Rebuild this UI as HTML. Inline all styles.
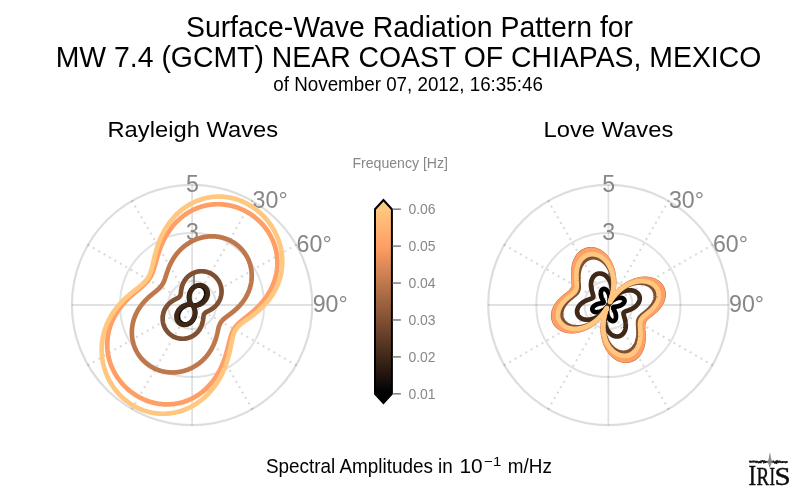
<!DOCTYPE html>
<html lang="en">
<head>
<meta charset="utf-8">
<title>Surface-Wave Radiation Pattern</title>
<style>
html,body{margin:0;padding:0;background:#fff;}
body{width:800px;height:496px;overflow:hidden;font-family:"Liberation Sans",sans-serif;}
svg{display:block;will-change:transform;}
</style>
</head>
<body>
<svg width="800" height="496" viewBox="0 0 800 496" font-family="'Liberation Sans', sans-serif">
<rect width="800" height="496" fill="#fff"/>
<g fill="#000" text-anchor="middle">
<text transform="translate(409.5,36.6) scale(1,1.065)" font-size="28.4">Surface-Wave Radiation Pattern for</text>
<text transform="translate(408.5,66.8) scale(1,1.065)" font-size="28.4">MW 7.4 (GCMT) NEAR COAST OF CHIAPAS, MEXICO</text>
<text transform="translate(408.1,91.1) scale(1,1.06)" font-size="18.8">of November 07, 2012, 16:35:46</text>
<text transform="translate(192.79999999999998,137.2) scale(1,0.965)" font-size="23.75">Rayleigh Waves</text>
<text transform="translate(608.4,137.2) scale(1,0.965)" font-size="23.75">Love Waves</text>
</g>
<g id="gridR">
<circle cx="192.1" cy="305.0" r="24.04" fill="none" stroke="#000" stroke-opacity="0.118" stroke-width="2"/>
<circle cx="192.1" cy="305.0" r="72.12" fill="none" stroke="#000" stroke-opacity="0.118" stroke-width="2"/>
<circle cx="192.1" cy="305.0" r="120.20" fill="none" stroke="#000" stroke-opacity="0.135" stroke-width="2.2"/>
<line x1="192.1" y1="305.0" x2="192.10" y2="184.80" stroke="#000" stroke-opacity="0.118" stroke-width="1.8"/>
<line x1="192.1" y1="305.0" x2="252.70" y2="200.04" stroke="#000" stroke-opacity="0.15" stroke-width="2.1" stroke-dasharray="2 4.23" stroke-dashoffset="-0.45"/>
<line x1="192.1" y1="305.0" x2="297.06" y2="244.40" stroke="#000" stroke-opacity="0.15" stroke-width="2.1" stroke-dasharray="2 4.23" stroke-dashoffset="-0.45"/>
<line x1="192.1" y1="305.0" x2="312.30" y2="305.00" stroke="#000" stroke-opacity="0.118" stroke-width="1.8"/>
<line x1="192.1" y1="305.0" x2="297.06" y2="365.60" stroke="#000" stroke-opacity="0.15" stroke-width="2.1" stroke-dasharray="2 4.23" stroke-dashoffset="-0.45"/>
<line x1="192.1" y1="305.0" x2="252.70" y2="409.96" stroke="#000" stroke-opacity="0.15" stroke-width="2.1" stroke-dasharray="2 4.23" stroke-dashoffset="-0.45"/>
<line x1="192.1" y1="305.0" x2="192.10" y2="425.20" stroke="#000" stroke-opacity="0.118" stroke-width="1.8"/>
<line x1="192.1" y1="305.0" x2="131.50" y2="409.96" stroke="#000" stroke-opacity="0.15" stroke-width="2.1" stroke-dasharray="2 4.23" stroke-dashoffset="-0.45"/>
<line x1="192.1" y1="305.0" x2="87.14" y2="365.60" stroke="#000" stroke-opacity="0.15" stroke-width="2.1" stroke-dasharray="2 4.23" stroke-dashoffset="-0.45"/>
<line x1="192.1" y1="305.0" x2="71.90" y2="305.00" stroke="#000" stroke-opacity="0.118" stroke-width="1.8"/>
<line x1="192.1" y1="305.0" x2="87.14" y2="244.40" stroke="#000" stroke-opacity="0.15" stroke-width="2.1" stroke-dasharray="2 4.23" stroke-dashoffset="-0.45"/>
<line x1="192.1" y1="305.0" x2="131.50" y2="200.04" stroke="#000" stroke-opacity="0.15" stroke-width="2.1" stroke-dasharray="2 4.23" stroke-dashoffset="-0.45"/>
</g>
<g id="gridL">
<circle cx="608.4" cy="305.0" r="24.04" fill="none" stroke="#000" stroke-opacity="0.118" stroke-width="2"/>
<circle cx="608.4" cy="305.0" r="72.12" fill="none" stroke="#000" stroke-opacity="0.118" stroke-width="2"/>
<circle cx="608.4" cy="305.0" r="120.20" fill="none" stroke="#000" stroke-opacity="0.135" stroke-width="2.2"/>
<line x1="608.4" y1="305.0" x2="608.40" y2="184.80" stroke="#000" stroke-opacity="0.118" stroke-width="1.8"/>
<line x1="608.4" y1="305.0" x2="669.00" y2="200.04" stroke="#000" stroke-opacity="0.15" stroke-width="2.1" stroke-dasharray="2 4.23" stroke-dashoffset="-0.45"/>
<line x1="608.4" y1="305.0" x2="713.36" y2="244.40" stroke="#000" stroke-opacity="0.15" stroke-width="2.1" stroke-dasharray="2 4.23" stroke-dashoffset="-0.45"/>
<line x1="608.4" y1="305.0" x2="728.60" y2="305.00" stroke="#000" stroke-opacity="0.118" stroke-width="1.8"/>
<line x1="608.4" y1="305.0" x2="713.36" y2="365.60" stroke="#000" stroke-opacity="0.15" stroke-width="2.1" stroke-dasharray="2 4.23" stroke-dashoffset="-0.45"/>
<line x1="608.4" y1="305.0" x2="669.00" y2="409.96" stroke="#000" stroke-opacity="0.15" stroke-width="2.1" stroke-dasharray="2 4.23" stroke-dashoffset="-0.45"/>
<line x1="608.4" y1="305.0" x2="608.40" y2="425.20" stroke="#000" stroke-opacity="0.118" stroke-width="1.8"/>
<line x1="608.4" y1="305.0" x2="547.80" y2="409.96" stroke="#000" stroke-opacity="0.15" stroke-width="2.1" stroke-dasharray="2 4.23" stroke-dashoffset="-0.45"/>
<line x1="608.4" y1="305.0" x2="503.44" y2="365.60" stroke="#000" stroke-opacity="0.15" stroke-width="2.1" stroke-dasharray="2 4.23" stroke-dashoffset="-0.45"/>
<line x1="608.4" y1="305.0" x2="488.20" y2="305.00" stroke="#000" stroke-opacity="0.118" stroke-width="1.8"/>
<line x1="608.4" y1="305.0" x2="503.44" y2="244.40" stroke="#000" stroke-opacity="0.15" stroke-width="2.1" stroke-dasharray="2 4.23" stroke-dashoffset="-0.45"/>
<line x1="608.4" y1="305.0" x2="547.80" y2="200.04" stroke="#000" stroke-opacity="0.15" stroke-width="2.1" stroke-dasharray="2 4.23" stroke-dashoffset="-0.45"/>
</g>
<g id="labR">
<text transform="translate(192.50,239.78) scale(1,1.06)" font-size="23.2" fill="#878787" text-anchor="middle">3</text>
<text transform="translate(192.50,191.70) scale(1,1.06)" font-size="23.2" fill="#878787" text-anchor="middle">5</text>
<path d="M193.05 270.96h1.9v16.9h-1.9v-12.6q-1.6 1.7-4 2.6v-2q2.9-1.4 4.4-4.9z" fill="#878787"/>
<text transform="translate(252.60,207.80) scale(1,1.06)" font-size="23.2" fill="#878787">30°</text>
<text transform="translate(296.60,251.80) scale(1,1.06)" font-size="23.2" fill="#878787">60°</text>
<text transform="translate(312.70,311.90) scale(1,1.06)" font-size="23.2" fill="#878787">90°</text>
</g>
<g id="labL">
<text transform="translate(608.80,239.78) scale(1,1.06)" font-size="23.2" fill="#878787" text-anchor="middle">3</text>
<text transform="translate(608.80,191.70) scale(1,1.06)" font-size="23.2" fill="#878787" text-anchor="middle">5</text>
<path d="M609.35 270.96h1.9v16.9h-1.9v-12.6q-1.6 1.7-4 2.6v-2q2.9-1.4 4.4-4.9z" fill="#878787"/>
<text transform="translate(668.90,207.80) scale(1,1.06)" font-size="23.2" fill="#878787">30°</text>
<text transform="translate(712.90,251.80) scale(1,1.06)" font-size="23.2" fill="#878787">60°</text>
<text transform="translate(729.00,311.90) scale(1,1.06)" font-size="23.2" fill="#878787">90°</text>
</g>
<g id="curvesR">
<path d="M192.10 288.78L192.21 288.66L192.33 288.54L192.45 288.41L192.57 288.30L192.69 288.18L192.81 288.07L192.93 287.95L193.06 287.84L193.19 287.73L193.31 287.63L193.44 287.53L193.58 287.42L193.71 287.33L193.84 287.23L193.98 287.14L194.11 287.04L194.25 286.95L194.39 286.87L194.53 286.78L194.67 286.70L194.81 286.62L194.96 286.55L195.10 286.47L195.25 286.40L195.39 286.34L195.54 286.27L195.68 286.21L195.83 286.15L195.98 286.09L196.13 286.04L196.28 285.98L196.43 285.94L196.58 285.89L196.73 285.85L196.89 285.81L197.04 285.77L197.19 285.74L197.34 285.71L197.49 285.68L197.65 285.65L197.80 285.63L197.95 285.61L198.11 285.60L198.26 285.58L198.41 285.57L198.57 285.56L198.72 285.56L198.87 285.56L199.02 285.56L199.17 285.57L199.32 285.57L199.48 285.58L199.63 285.60L199.77 285.62L199.92 285.64L200.07 285.66L200.22 285.68L200.37 285.71L200.51 285.75L200.66 285.78L200.80 285.82L200.94 285.86L201.09 285.90L201.23 285.95L201.37 286.00L201.51 286.05L201.64 286.11L201.78 286.16L201.92 286.22L202.05 286.29L202.18 286.35L202.31 286.42L202.44 286.49L202.57 286.57L202.70 286.65L202.82 286.73L202.94 286.81L203.07 286.89L203.19 286.98L203.30 287.07L203.42 287.16L203.53 287.26L203.65 287.36L203.76 287.46L203.86 287.56L203.97 287.66L204.08 287.77L204.18 287.88L204.28 287.99L204.38 288.10L204.47 288.22L204.57 288.34L204.66 288.46L204.75 288.58L204.83 288.70L204.92 288.83L205.00 288.96L205.08 289.09L205.16 289.22L205.23 289.35L205.30 289.49L205.37 289.62L205.44 289.76L205.51 289.90L205.57 290.04L205.63 290.19L205.68 290.33L205.74 290.48L205.79 290.62L205.84 290.77L205.89 290.92L205.93 291.07L205.97 291.22L206.01 291.38L206.05 291.53L206.08 291.69L206.11 291.84L206.14 292.00L206.16 292.16L206.18 292.32L206.20 292.48L206.22 292.64L206.23 292.80L206.25 292.96L206.25 293.12L206.26 293.29L206.26 293.45L206.26 293.61L206.26 293.78L206.26 293.94L206.25 294.11L206.24 294.27L206.22 294.43L206.21 294.60L206.19 294.76L206.17 294.93L206.14 295.09L206.11 295.26L206.09 295.42L206.05 295.59L206.02 295.75L205.98 295.92L205.94 296.08L205.90 296.24L205.85 296.41L205.81 296.57L205.75 296.73L205.70 296.89L205.65 297.05L205.59 297.21L205.53 297.37L205.47 297.53L205.40 297.69L205.34 297.84L205.27 298.00L205.19 298.15L205.12 298.31L205.04 298.46L204.97 298.61L204.89 298.76L204.80 298.91L204.72 299.06L204.63 299.21L204.54 299.36L204.45 299.50L204.36 299.64L204.27 299.79L204.17 299.93L204.07 300.07L203.97 300.20L203.87 300.34L203.77 300.47L203.66 300.61L203.56 300.74L203.45 300.87L203.34 301.00L203.23 301.13L203.11 301.25L203.00 301.37L202.88 301.50L202.77 301.62L202.65 301.73L202.53 301.85L202.41 301.97L202.29 302.08L202.17 302.19L202.04 302.30L201.92 302.41L201.79 302.51L201.67 302.61L201.54 302.72L201.41 302.82L201.28 302.91L201.16 303.01L201.03 303.10L200.89 303.19L200.76 303.28L200.63 303.37L200.50 303.46L200.37 303.54L200.24 303.62L200.10 303.70L199.97 303.78L199.84 303.86L199.70 303.93L199.57 304.00L199.44 304.07L199.30 304.14L199.17 304.21L199.04 304.27L198.90 304.33L198.77 304.39L198.64 304.45L198.51 304.51L198.37 304.56L198.24 304.61L198.11 304.66L197.98 304.71L197.85 304.76L197.72 304.80L197.59 304.85L197.46 304.89L197.34 304.93L197.21 304.96L197.08 305.00L196.96 305.03L196.83 305.07L196.71 305.10L196.59 305.13L196.47 305.15L196.35 305.18L196.23 305.20L196.11 305.22L195.99 305.24L195.88 305.26L195.76 305.28L195.65 305.30L195.54 305.31L195.43 305.33L195.32 305.34L195.21 305.35L195.11 305.36L195.00 305.37L194.90 305.37L194.80 305.38L194.70 305.38L194.60 305.39L194.50 305.39L194.41 305.39L194.31 305.39L194.22 305.39L194.13 305.39L194.04 305.38L193.96 305.38L193.87 305.38L193.79 305.37L193.71 305.37L193.63 305.36L193.55 305.35L193.48 305.34L193.40 305.33L193.33 305.33L193.26 305.32L193.20 305.31L193.13 305.30L193.07 305.28L193.01 305.27L192.95 305.26L192.89 305.25L192.83 305.24L192.78 305.23L192.73 305.21L192.68 305.20L192.63 305.19L192.59 305.18L192.54 305.17L192.50 305.15L192.46 305.14L192.43 305.13L192.39 305.12L192.36 305.11L192.33 305.10L192.30 305.09L192.27 305.08L192.25 305.07L192.22 305.06L192.20 305.05L192.18 305.04L192.17 305.03L192.15 305.03L192.14 305.02L192.13 305.01L192.12 305.01L192.11 305.01L192.11 305.00L192.10 305.00L192.10 305.00L192.10 305.00L192.10 305.00L192.11 305.00L192.11 305.01L192.12 305.01L192.13 305.02L192.14 305.02L192.15 305.03L192.16 305.04L192.18 305.05L192.20 305.06L192.21 305.08L192.23 305.09L192.25 305.11L192.28 305.12L192.30 305.14L192.33 305.16L192.35 305.19L192.38 305.21L192.41 305.23L192.44 305.26L192.48 305.29L192.51 305.32L192.54 305.35L192.58 305.38L192.62 305.42L192.65 305.46L192.69 305.50L192.73 305.54L192.77 305.58L192.81 305.62L192.85 305.67L192.90 305.72L192.94 305.77L192.99 305.82L193.03 305.87L193.08 305.93L193.12 305.99L193.17 306.05L193.22 306.11L193.26 306.17L193.31 306.24L193.36 306.30L193.41 306.37L193.46 306.44L193.51 306.52L193.55 306.59L193.60 306.67L193.65 306.75L193.70 306.83L193.75 306.91L193.80 307.00L193.85 307.09L193.90 307.17L193.95 307.27L194.00 307.36L194.04 307.45L194.09 307.55L194.14 307.65L194.19 307.75L194.23 307.85L194.28 307.96L194.33 308.06L194.37 308.17L194.41 308.28L194.46 308.39L194.50 308.51L194.54 308.62L194.58 308.74L194.63 308.86L194.66 308.98L194.70 309.10L194.74 309.23L194.78 309.35L194.81 309.48L194.85 309.61L194.88 309.74L194.91 309.87L194.94 310.00L194.97 310.14L195.00 310.28L195.03 310.41L195.05 310.55L195.08 310.69L195.10 310.84L195.12 310.98L195.14 311.12L195.16 311.27L195.17 311.42L195.19 311.56L195.20 311.71L195.21 311.86L195.22 312.01L195.23 312.17L195.24 312.32L195.24 312.47L195.24 312.63L195.25 312.78L195.24 312.94L195.24 313.10L195.24 313.26L195.23 313.42L195.22 313.57L195.21 313.73L195.20 313.89L195.18 314.06L195.17 314.22L195.15 314.38L195.13 314.54L195.10 314.70L195.08 314.86L195.05 315.03L195.02 315.19L194.99 315.35L194.96 315.51L194.92 315.68L194.88 315.84L194.84 316.00L194.80 316.16L194.76 316.33L194.71 316.49L194.66 316.65L194.61 316.81L194.56 316.97L194.50 317.13L194.44 317.29L194.39 317.45L194.32 317.61L194.26 317.77L194.19 317.92L194.12 318.08L194.05 318.24L193.98 318.39L193.91 318.54L193.83 318.70L193.75 318.85L193.67 319.00L193.59 319.15L193.50 319.30L193.41 319.44L193.32 319.59L193.23 319.73L193.14 319.88L193.04 320.02L192.95 320.16L192.85 320.29L192.75 320.43L192.64 320.57L192.54 320.70L192.43 320.83L192.32 320.96L192.21 321.09L192.10 321.22L191.99 321.34L191.87 321.46L191.75 321.59L191.63 321.70L191.51 321.82L191.39 321.93L191.27 322.05L191.14 322.16L191.01 322.27L190.89 322.37L190.76 322.47L190.62 322.58L190.49 322.67L190.36 322.77L190.22 322.86L190.09 322.96L189.95 323.05L189.81 323.13L189.67 323.22L189.53 323.30L189.39 323.38L189.24 323.45L189.10 323.53L188.95 323.60L188.81 323.66L188.66 323.73L188.52 323.79L188.37 323.85L188.22 323.91L188.07 323.96L187.92 324.02L187.77 324.06L187.62 324.11L187.47 324.15L187.31 324.19L187.16 324.23L187.01 324.26L186.86 324.29L186.71 324.32L186.55 324.35L186.40 324.37L186.25 324.39L186.09 324.40L185.94 324.42L185.79 324.43L185.63 324.44L185.48 324.44L185.33 324.44L185.18 324.44L185.03 324.43L184.88 324.43L184.72 324.42L184.57 324.40L184.43 324.38L184.28 324.36L184.13 324.34L183.98 324.32L183.83 324.29L183.69 324.25L183.54 324.22L183.40 324.18L183.26 324.14L183.11 324.10L182.97 324.05L182.83 324.00L182.69 323.95L182.56 323.89L182.42 323.84L182.28 323.78L182.15 323.71L182.02 323.65L181.89 323.58L181.76 323.51L181.63 323.43L181.50 323.35L181.38 323.27L181.26 323.19L181.13 323.11L181.01 323.02L180.90 322.93L180.78 322.84L180.67 322.74L180.55 322.64L180.44 322.54L180.34 322.44L180.23 322.34L180.12 322.23L180.02 322.12L179.92 322.01L179.82 321.90L179.73 321.78L179.63 321.66L179.54 321.54L179.45 321.42L179.37 321.30L179.28 321.17L179.20 321.04L179.12 320.91L179.04 320.78L178.97 320.65L178.90 320.51L178.83 320.38L178.76 320.24L178.69 320.10L178.63 319.96L178.57 319.81L178.52 319.67L178.46 319.52L178.41 319.38L178.36 319.23L178.31 319.08L178.27 318.93L178.23 318.78L178.19 318.62L178.15 318.47L178.12 318.31L178.09 318.16L178.06 318.00L178.04 317.84L178.02 317.68L178.00 317.52L177.98 317.36L177.97 317.20L177.95 317.04L177.95 316.88L177.94 316.71L177.94 316.55L177.94 316.39L177.94 316.22L177.94 316.06L177.95 315.89L177.96 315.73L177.98 315.57L177.99 315.40L178.01 315.24L178.03 315.07L178.06 314.91L178.09 314.74L178.11 314.58L178.15 314.41L178.18 314.25L178.22 314.08L178.26 313.92L178.30 313.76L178.35 313.59L178.39 313.43L178.45 313.27L178.50 313.11L178.55 312.95L178.61 312.79L178.67 312.63L178.73 312.47L178.80 312.31L178.86 312.16L178.93 312.00L179.01 311.85L179.08 311.69L179.16 311.54L179.23 311.39L179.31 311.24L179.40 311.09L179.48 310.94L179.57 310.79L179.66 310.64L179.75 310.50L179.84 310.36L179.93 310.21L180.03 310.07L180.13 309.93L180.23 309.80L180.33 309.66L180.43 309.53L180.54 309.39L180.64 309.26L180.75 309.13L180.86 309.00L180.97 308.87L181.09 308.75L181.20 308.63L181.32 308.50L181.43 308.38L181.55 308.27L181.67 308.15L181.79 308.03L181.91 307.92L182.03 307.81L182.16 307.70L182.28 307.59L182.41 307.49L182.53 307.39L182.66 307.28L182.79 307.18L182.92 307.09L183.04 306.99L183.17 306.90L183.31 306.81L183.44 306.72L183.57 306.63L183.70 306.54L183.83 306.46L183.96 306.38L184.10 306.30L184.23 306.22L184.36 306.14L184.50 306.07L184.63 306.00L184.76 305.93L184.90 305.86L185.03 305.79L185.16 305.73L185.30 305.67L185.43 305.61L185.56 305.55L185.69 305.49L185.83 305.44L185.96 305.39L186.09 305.34L186.22 305.29L186.35 305.24L186.48 305.20L186.61 305.15L186.74 305.11L186.86 305.07L186.99 305.04L187.12 305.00L187.24 304.97L187.37 304.93L187.49 304.90L187.61 304.87L187.73 304.85L187.85 304.82L187.97 304.80L188.09 304.78L188.21 304.76L188.32 304.74L188.44 304.72L188.55 304.70L188.66 304.69L188.77 304.67L188.88 304.66L188.99 304.65L189.09 304.64L189.20 304.63L189.30 304.63L189.40 304.62L189.50 304.62L189.60 304.61L189.70 304.61L189.79 304.61L189.89 304.61L189.98 304.61L190.07 304.61L190.16 304.62L190.24 304.62L190.33 304.62L190.41 304.63L190.49 304.63L190.57 304.64L190.65 304.65L190.72 304.66L190.80 304.67L190.87 304.67L190.94 304.68L191.00 304.69L191.07 304.70L191.13 304.72L191.19 304.73L191.25 304.74L191.31 304.75L191.37 304.76L191.42 304.77L191.47 304.79L191.52 304.80L191.57 304.81L191.61 304.82L191.66 304.83L191.70 304.85L191.74 304.86L191.77 304.87L191.81 304.88L191.84 304.89L191.87 304.90L191.90 304.91L191.93 304.92L191.95 304.93L191.98 304.94L192.00 304.95L192.02 304.96L192.03 304.97L192.05 304.97L192.06 304.98L192.07 304.99L192.08 304.99L192.09 304.99L192.09 305.00L192.10 305.00L192.10 305.00L192.10 305.00L192.10 305.00L192.09 305.00L192.09 304.99L192.08 304.99L192.07 304.98L192.06 304.98L192.05 304.97L192.04 304.96L192.02 304.95L192.00 304.94L191.99 304.92L191.97 304.91L191.95 304.89L191.92 304.88L191.90 304.86L191.87 304.84L191.85 304.81L191.82 304.79L191.79 304.77L191.76 304.74L191.72 304.71L191.69 304.68L191.66 304.65L191.62 304.62L191.58 304.58L191.55 304.54L191.51 304.50L191.47 304.46L191.43 304.42L191.39 304.38L191.35 304.33L191.30 304.28L191.26 304.23L191.21 304.18L191.17 304.13L191.12 304.07L191.08 304.01L191.03 303.95L190.98 303.89L190.94 303.83L190.89 303.76L190.84 303.70L190.79 303.63L190.74 303.56L190.69 303.48L190.65 303.41L190.60 303.33L190.55 303.25L190.50 303.17L190.45 303.09L190.40 303.00L190.35 302.91L190.30 302.83L190.25 302.73L190.20 302.64L190.16 302.55L190.11 302.45L190.06 302.35L190.01 302.25L189.97 302.15L189.92 302.04L189.87 301.94L189.83 301.83L189.79 301.72L189.74 301.61L189.70 301.49L189.66 301.38L189.62 301.26L189.57 301.14L189.54 301.02L189.50 300.90L189.46 300.77L189.42 300.65L189.39 300.52L189.35 300.39L189.32 300.26L189.29 300.13L189.26 300.00L189.23 299.86L189.20 299.72L189.17 299.59L189.15 299.45L189.12 299.31L189.10 299.16L189.08 299.02L189.06 298.88L189.04 298.73L189.03 298.58L189.01 298.44L189.00 298.29L188.99 298.14L188.98 297.99L188.97 297.83L188.96 297.68L188.96 297.53L188.96 297.37L188.95 297.22L188.96 297.06L188.96 296.90L188.96 296.74L188.97 296.58L188.98 296.43L188.99 296.27L189.00 296.11L189.02 295.94L189.03 295.78L189.05 295.62L189.07 295.46L189.10 295.30L189.12 295.14L189.15 294.97L189.18 294.81L189.21 294.65L189.24 294.49L189.28 294.32L189.32 294.16L189.36 294.00L189.40 293.84L189.44 293.67L189.49 293.51L189.54 293.35L189.59 293.19L189.64 293.03L189.70 292.87L189.76 292.71L189.81 292.55L189.88 292.39L189.94 292.23L190.01 292.08L190.08 291.92L190.15 291.76L190.22 291.61L190.29 291.46L190.37 291.30L190.45 291.15L190.53 291.00L190.61 290.85L190.70 290.70L190.79 290.56L190.88 290.41L190.97 290.27L191.06 290.12L191.16 289.98L191.25 289.84L191.35 289.71L191.45 289.57L191.56 289.43L191.66 289.30L191.77 289.17L191.88 289.04L191.99 288.91Z" fill="none" stroke="#000000" stroke-width="4.7" stroke-linejoin="round"/>
<path d="M192.10 289.39L192.21 289.24L192.32 289.11L192.44 288.97L192.55 288.83L192.67 288.70L192.79 288.57L192.91 288.44L193.03 288.31L193.16 288.18L193.28 288.06L193.41 287.94L193.54 287.82L193.67 287.70L193.81 287.59L193.94 287.47L194.08 287.36L194.22 287.25L194.36 287.15L194.50 287.04L194.64 286.94L194.78 286.84L194.93 286.75L195.07 286.65L195.22 286.56L195.37 286.48L195.52 286.39L195.67 286.31L195.82 286.23L195.97 286.15L196.12 286.07L196.28 286.00L196.43 285.93L196.59 285.87L196.74 285.80L196.90 285.74L197.06 285.69L197.22 285.63L197.38 285.58L197.54 285.53L197.70 285.48L197.86 285.44L198.02 285.40L198.18 285.37L198.34 285.33L198.50 285.30L198.66 285.27L198.82 285.25L198.99 285.23L199.15 285.21L199.31 285.19L199.47 285.18L199.63 285.17L199.79 285.17L199.95 285.17L200.11 285.17L200.27 285.17L200.43 285.18L200.59 285.19L200.75 285.20L200.91 285.22L201.07 285.23L201.22 285.26L201.38 285.28L201.53 285.31L201.69 285.34L201.84 285.38L201.99 285.42L202.14 285.46L202.29 285.50L202.44 285.55L202.59 285.60L202.74 285.65L202.88 285.71L203.03 285.77L203.17 285.83L203.31 285.89L203.45 285.96L203.59 286.03L203.73 286.10L203.86 286.18L203.99 286.26L204.13 286.34L204.26 286.42L204.38 286.51L204.51 286.60L204.63 286.69L204.76 286.79L204.88 286.89L205.00 286.99L205.11 287.09L205.23 287.19L205.34 287.30L205.45 287.41L205.56 287.52L205.66 287.64L205.77 287.76L205.87 287.88L205.97 288.00L206.06 288.12L206.16 288.25L206.25 288.37L206.34 288.50L206.43 288.64L206.51 288.77L206.59 288.91L206.67 289.04L206.75 289.18L206.82 289.32L206.89 289.47L206.96 289.61L207.03 289.76L207.09 289.91L207.15 290.06L207.21 290.21L207.26 290.36L207.31 290.51L207.36 290.67L207.41 290.82L207.45 290.98L207.49 291.14L207.53 291.30L207.57 291.46L207.60 291.62L207.63 291.79L207.65 291.95L207.68 292.11L207.70 292.28L207.71 292.45L207.73 292.61L207.74 292.78L207.75 292.95L207.75 293.12L207.76 293.29L207.76 293.46L207.75 293.63L207.75 293.80L207.74 293.97L207.73 294.14L207.71 294.31L207.69 294.48L207.67 294.65L207.65 294.82L207.62 294.99L207.60 295.17L207.56 295.34L207.53 295.51L207.49 295.68L207.45 295.85L207.41 296.02L207.36 296.19L207.31 296.36L207.26 296.53L207.21 296.69L207.15 296.86L207.09 297.03L207.03 297.19L206.97 297.36L206.90 297.52L206.83 297.69L206.76 297.85L206.69 298.01L206.61 298.17L206.53 298.33L206.45 298.49L206.36 298.65L206.28 298.81L206.19 298.96L206.10 299.12L206.01 299.27L205.91 299.42L205.81 299.57L205.72 299.72L205.61 299.87L205.51 300.01L205.41 300.16L205.30 300.30L205.19 300.44L205.08 300.58L204.97 300.72L204.85 300.86L204.74 300.99L204.62 301.13L204.50 301.26L204.38 301.39L204.25 301.51L204.13 301.64L204.01 301.77L203.88 301.89L203.75 302.01L203.62 302.13L203.49 302.24L203.36 302.36L203.23 302.47L203.09 302.58L202.96 302.69L202.82 302.80L202.68 302.90L202.55 303.01L202.41 303.11L202.27 303.21L202.13 303.30L201.99 303.40L201.85 303.49L201.70 303.58L201.56 303.67L201.42 303.76L201.28 303.84L201.13 303.92L200.99 304.00L200.84 304.08L200.70 304.16L200.55 304.23L200.41 304.30L200.27 304.37L200.12 304.44L199.98 304.50L199.83 304.57L199.69 304.63L199.54 304.69L199.40 304.75L199.26 304.80L199.11 304.85L198.97 304.90L198.83 304.95L198.69 305.00L198.54 305.04L198.40 305.09L198.26 305.13L198.12 305.17L197.99 305.21L197.85 305.24L197.71 305.27L197.57 305.31L197.44 305.34L197.31 305.36L197.17 305.39L197.04 305.41L196.91 305.44L196.78 305.46L196.65 305.48L196.52 305.50L196.40 305.51L196.27 305.53L196.15 305.54L196.03 305.55L195.91 305.56L195.79 305.57L195.67 305.58L195.55 305.58L195.44 305.59L195.32 305.59L195.21 305.59L195.10 305.59L195.00 305.59L194.89 305.59L194.78 305.59L194.68 305.59L194.58 305.58L194.48 305.58L194.38 305.57L194.29 305.56L194.19 305.55L194.10 305.54L194.01 305.53L193.92 305.52L193.84 305.51L193.75 305.50L193.67 305.49L193.59 305.47L193.51 305.46L193.44 305.45L193.36 305.43L193.29 305.42L193.22 305.40L193.16 305.38L193.09 305.37L193.03 305.35L192.97 305.34L192.91 305.32L192.85 305.30L192.79 305.29L192.74 305.27L192.69 305.25L192.64 305.24L192.60 305.22L192.55 305.21L192.51 305.19L192.47 305.17L192.43 305.16L192.40 305.14L192.36 305.13L192.33 305.12L192.30 305.10L192.27 305.09L192.25 305.08L192.23 305.07L192.20 305.06L192.19 305.05L192.17 305.04L192.15 305.03L192.14 305.02L192.13 305.02L192.12 305.01L192.11 305.01L192.11 305.00L192.10 305.00L192.10 305.00L192.10 305.00L192.10 305.00L192.11 305.00L192.11 305.01L192.12 305.01L192.13 305.02L192.14 305.03L192.15 305.04L192.16 305.05L192.18 305.06L192.19 305.07L192.21 305.09L192.23 305.10L192.25 305.12L192.28 305.14L192.30 305.16L192.33 305.19L192.35 305.21L192.38 305.24L192.41 305.27L192.44 305.30L192.47 305.33L192.50 305.36L192.54 305.40L192.57 305.44L192.61 305.48L192.64 305.52L192.68 305.56L192.72 305.61L192.76 305.65L192.80 305.70L192.84 305.75L192.88 305.81L192.92 305.86L192.96 305.92L193.01 305.98L193.05 306.04L193.10 306.11L193.14 306.17L193.18 306.24L193.23 306.31L193.27 306.38L193.32 306.45L193.37 306.53L193.41 306.61L193.46 306.69L193.50 306.77L193.55 306.85L193.59 306.94L193.64 307.03L193.69 307.12L193.73 307.21L193.78 307.31L193.82 307.40L193.86 307.50L193.91 307.60L193.95 307.71L194.00 307.81L194.04 307.92L194.08 308.03L194.12 308.14L194.16 308.25L194.20 308.36L194.24 308.48L194.28 308.60L194.32 308.72L194.35 308.84L194.39 308.96L194.42 309.09L194.46 309.22L194.49 309.34L194.52 309.47L194.55 309.61L194.58 309.74L194.61 309.88L194.63 310.01L194.66 310.15L194.68 310.29L194.70 310.43L194.72 310.58L194.74 310.72L194.76 310.87L194.78 311.02L194.79 311.16L194.81 311.31L194.82 311.47L194.83 311.62L194.84 311.77L194.84 311.93L194.85 312.08L194.85 312.24L194.85 312.40L194.85 312.56L194.85 312.72L194.84 312.88L194.84 313.04L194.83 313.20L194.82 313.36L194.80 313.53L194.79 313.69L194.77 313.85L194.75 314.02L194.73 314.19L194.71 314.35L194.69 314.52L194.66 314.68L194.63 314.85L194.60 315.02L194.56 315.19L194.53 315.35L194.49 315.52L194.45 315.69L194.41 315.86L194.36 316.03L194.32 316.19L194.27 316.36L194.22 316.53L194.16 316.69L194.11 316.86L194.05 317.03L193.99 317.19L193.92 317.36L193.86 317.52L193.79 317.69L193.72 317.85L193.65 318.01L193.58 318.17L193.50 318.33L193.42 318.49L193.34 318.65L193.26 318.81L193.17 318.97L193.09 319.13L193.00 319.28L192.91 319.43L192.81 319.59L192.72 319.74L192.62 319.89L192.52 320.04L192.42 320.18L192.31 320.33L192.21 320.47L192.10 320.61L191.99 320.76L191.88 320.89L191.76 321.03L191.65 321.17L191.53 321.30L191.41 321.43L191.29 321.56L191.17 321.69L191.04 321.82L190.92 321.94L190.79 322.06L190.66 322.18L190.53 322.30L190.39 322.41L190.26 322.53L190.12 322.64L189.98 322.75L189.84 322.85L189.70 322.96L189.56 323.06L189.42 323.16L189.27 323.25L189.13 323.35L188.98 323.44L188.83 323.52L188.68 323.61L188.53 323.69L188.38 323.77L188.23 323.85L188.08 323.93L187.92 324.00L187.77 324.07L187.61 324.13L187.46 324.20L187.30 324.26L187.14 324.31L186.98 324.37L186.82 324.42L186.66 324.47L186.50 324.52L186.34 324.56L186.18 324.60L186.02 324.63L185.86 324.67L185.70 324.70L185.54 324.73L185.38 324.75L185.21 324.77L185.05 324.79L184.89 324.81L184.73 324.82L184.57 324.83L184.41 324.83L184.25 324.83L184.09 324.83L183.93 324.83L183.77 324.82L183.61 324.81L183.45 324.80L183.29 324.78L183.13 324.77L182.98 324.74L182.82 324.72L182.67 324.69L182.51 324.66L182.36 324.62L182.21 324.58L182.06 324.54L181.91 324.50L181.76 324.45L181.61 324.40L181.46 324.35L181.32 324.29L181.17 324.23L181.03 324.17L180.89 324.11L180.75 324.04L180.61 323.97L180.47 323.90L180.34 323.82L180.21 323.74L180.07 323.66L179.94 323.58L179.82 323.49L179.69 323.40L179.57 323.31L179.44 323.21L179.32 323.11L179.20 323.01L179.09 322.91L178.97 322.81L178.86 322.70L178.75 322.59L178.64 322.48L178.54 322.36L178.43 322.24L178.33 322.12L178.23 322.00L178.14 321.88L178.04 321.75L177.95 321.63L177.86 321.50L177.77 321.36L177.69 321.23L177.61 321.09L177.53 320.96L177.45 320.82L177.38 320.68L177.31 320.53L177.24 320.39L177.17 320.24L177.11 320.09L177.05 319.94L176.99 319.79L176.94 319.64L176.89 319.49L176.84 319.33L176.79 319.18L176.75 319.02L176.71 318.86L176.67 318.70L176.63 318.54L176.60 318.38L176.57 318.21L176.55 318.05L176.52 317.89L176.50 317.72L176.49 317.55L176.47 317.39L176.46 317.22L176.45 317.05L176.45 316.88L176.44 316.71L176.44 316.54L176.45 316.37L176.45 316.20L176.46 316.03L176.47 315.86L176.49 315.69L176.51 315.52L176.53 315.35L176.55 315.18L176.58 315.01L176.60 314.83L176.64 314.66L176.67 314.49L176.71 314.32L176.75 314.15L176.79 313.98L176.84 313.81L176.89 313.64L176.94 313.47L176.99 313.31L177.05 313.14L177.11 312.97L177.17 312.81L177.23 312.64L177.30 312.48L177.37 312.31L177.44 312.15L177.51 311.99L177.59 311.83L177.67 311.67L177.75 311.51L177.84 311.35L177.92 311.19L178.01 311.04L178.10 310.88L178.19 310.73L178.29 310.58L178.39 310.43L178.48 310.28L178.59 310.13L178.69 309.99L178.79 309.84L178.90 309.70L179.01 309.56L179.12 309.42L179.23 309.28L179.35 309.14L179.46 309.01L179.58 308.87L179.70 308.74L179.82 308.61L179.95 308.49L180.07 308.36L180.19 308.23L180.32 308.11L180.45 307.99L180.58 307.87L180.71 307.76L180.84 307.64L180.97 307.53L181.11 307.42L181.24 307.31L181.38 307.20L181.52 307.10L181.65 306.99L181.79 306.89L181.93 306.79L182.07 306.70L182.21 306.60L182.35 306.51L182.50 306.42L182.64 306.33L182.78 306.24L182.92 306.16L183.07 306.08L183.21 306.00L183.36 305.92L183.50 305.84L183.65 305.77L183.79 305.70L183.93 305.63L184.08 305.56L184.22 305.50L184.37 305.43L184.51 305.37L184.66 305.31L184.80 305.25L184.94 305.20L185.09 305.15L185.23 305.10L185.37 305.05L185.51 305.00L185.66 304.96L185.80 304.91L185.94 304.87L186.08 304.83L186.21 304.79L186.35 304.76L186.49 304.73L186.63 304.69L186.76 304.66L186.89 304.64L187.03 304.61L187.16 304.59L187.29 304.56L187.42 304.54L187.55 304.52L187.68 304.50L187.80 304.49L187.93 304.47L188.05 304.46L188.17 304.45L188.29 304.44L188.41 304.43L188.53 304.42L188.65 304.42L188.76 304.41L188.88 304.41L188.99 304.41L189.10 304.41L189.20 304.41L189.31 304.41L189.42 304.41L189.52 304.41L189.62 304.42L189.72 304.42L189.82 304.43L189.91 304.44L190.01 304.45L190.10 304.46L190.19 304.47L190.28 304.48L190.36 304.49L190.45 304.50L190.53 304.51L190.61 304.53L190.69 304.54L190.76 304.55L190.84 304.57L190.91 304.58L190.98 304.60L191.04 304.62L191.11 304.63L191.17 304.65L191.23 304.66L191.29 304.68L191.35 304.70L191.41 304.71L191.46 304.73L191.51 304.75L191.56 304.76L191.60 304.78L191.65 304.79L191.69 304.81L191.73 304.83L191.77 304.84L191.80 304.86L191.84 304.87L191.87 304.88L191.90 304.90L191.93 304.91L191.95 304.92L191.97 304.93L192.00 304.94L192.01 304.95L192.03 304.96L192.05 304.97L192.06 304.98L192.07 304.98L192.08 304.99L192.09 304.99L192.09 305.00L192.10 305.00L192.10 305.00L192.10 305.00L192.10 305.00L192.09 305.00L192.09 304.99L192.08 304.99L192.07 304.98L192.06 304.97L192.05 304.96L192.04 304.95L192.02 304.94L192.01 304.93L191.99 304.91L191.97 304.90L191.95 304.88L191.92 304.86L191.90 304.84L191.87 304.81L191.85 304.79L191.82 304.76L191.79 304.73L191.76 304.70L191.73 304.67L191.70 304.64L191.66 304.60L191.63 304.56L191.59 304.52L191.56 304.48L191.52 304.44L191.48 304.39L191.44 304.35L191.40 304.30L191.36 304.25L191.32 304.19L191.28 304.14L191.24 304.08L191.19 304.02L191.15 303.96L191.10 303.89L191.06 303.83L191.02 303.76L190.97 303.69L190.93 303.62L190.88 303.55L190.83 303.47L190.79 303.39L190.74 303.31L190.70 303.23L190.65 303.15L190.61 303.06L190.56 302.97L190.51 302.88L190.47 302.79L190.42 302.69L190.38 302.60L190.34 302.50L190.29 302.40L190.25 302.29L190.20 302.19L190.16 302.08L190.12 301.97L190.08 301.86L190.04 301.75L190.00 301.64L189.96 301.52L189.92 301.40L189.88 301.28L189.85 301.16L189.81 301.04L189.78 300.91L189.74 300.78L189.71 300.66L189.68 300.53L189.65 300.39L189.62 300.26L189.59 300.12L189.57 299.99L189.54 299.85L189.52 299.71L189.50 299.57L189.48 299.42L189.46 299.28L189.44 299.13L189.42 298.98L189.41 298.84L189.39 298.69L189.38 298.53L189.37 298.38L189.36 298.23L189.36 298.07L189.35 297.92L189.35 297.76L189.35 297.60L189.35 297.44L189.35 297.28L189.36 297.12L189.36 296.96L189.37 296.80L189.38 296.64L189.40 296.47L189.41 296.31L189.43 296.15L189.45 295.98L189.47 295.81L189.49 295.65L189.51 295.48L189.54 295.32L189.57 295.15L189.60 294.98L189.64 294.81L189.67 294.65L189.71 294.48L189.75 294.31L189.79 294.14L189.84 293.97L189.88 293.81L189.93 293.64L189.98 293.47L190.04 293.31L190.09 293.14L190.15 292.97L190.21 292.81L190.28 292.64L190.34 292.48L190.41 292.31L190.48 292.15L190.55 291.99L190.62 291.83L190.70 291.67L190.78 291.51L190.86 291.35L190.94 291.19L191.03 291.03L191.11 290.87L191.20 290.72L191.29 290.57L191.39 290.41L191.48 290.26L191.58 290.11L191.68 289.96L191.78 289.82L191.89 289.67L191.99 289.53Z" fill="none" stroke="#402819" stroke-width="4.7" stroke-linejoin="round"/>
<path d="M192.10 273.63L192.32 273.52L192.54 273.40L192.76 273.29L192.99 273.18L193.21 273.08L193.44 272.97L193.67 272.87L193.90 272.78L194.13 272.68L194.37 272.59L194.60 272.50L194.84 272.41L195.07 272.33L195.31 272.25L195.55 272.17L195.79 272.10L196.03 272.03L196.27 271.96L196.52 271.89L196.76 271.83L197.01 271.77L197.25 271.71L197.50 271.66L197.75 271.61L198.00 271.56L198.24 271.52L198.49 271.48L198.74 271.44L199.00 271.41L199.25 271.38L199.50 271.35L199.75 271.32L200.00 271.30L200.26 271.28L200.51 271.27L200.76 271.26L201.02 271.25L201.27 271.24L201.53 271.24L201.78 271.24L202.03 271.25L202.29 271.26L202.54 271.27L202.80 271.28L203.05 271.30L203.30 271.32L203.56 271.34L203.81 271.37L204.06 271.40L204.32 271.44L204.57 271.47L204.82 271.51L205.07 271.56L205.32 271.61L205.57 271.66L205.82 271.71L206.07 271.77L206.32 271.83L206.57 271.89L206.81 271.95L207.06 272.02L207.30 272.10L207.55 272.17L207.79 272.25L208.03 272.33L208.27 272.42L208.51 272.51L208.75 272.60L208.99 272.69L209.23 272.79L209.46 272.89L209.70 272.99L209.93 273.10L210.16 273.21L210.39 273.32L210.62 273.44L210.84 273.56L211.07 273.68L211.29 273.80L211.52 273.93L211.74 274.06L211.95 274.19L212.17 274.33L212.39 274.47L212.60 274.61L212.81 274.75L213.02 274.90L213.23 275.05L213.44 275.20L213.64 275.35L213.84 275.51L214.04 275.67L214.24 275.83L214.44 276.00L214.63 276.16L214.82 276.33L215.01 276.50L215.20 276.68L215.38 276.86L215.57 277.03L215.75 277.22L215.92 277.40L216.10 277.59L216.27 277.77L216.44 277.96L216.61 278.16L216.78 278.35L216.94 278.55L217.10 278.75L217.26 278.95L217.42 279.15L217.57 279.35L217.72 279.56L217.87 279.77L218.01 279.98L218.15 280.19L218.29 280.40L218.43 280.62L218.57 280.83L218.70 281.05L218.83 281.27L218.95 281.49L219.07 281.72L219.19 281.94L219.31 282.17L219.43 282.39L219.54 282.62L219.65 282.85L219.75 283.08L219.85 283.32L219.95 283.55L220.05 283.78L220.14 284.02L220.24 284.26L220.32 284.49L220.41 284.73L220.49 284.97L220.57 285.21L220.64 285.46L220.72 285.70L220.79 285.94L220.85 286.18L220.92 286.43L220.98 286.67L221.03 286.92L221.09 287.17L221.14 287.41L221.19 287.66L221.23 287.91L221.27 288.16L221.31 288.40L221.35 288.65L221.38 288.90L221.41 289.15L221.44 289.40L221.46 289.65L221.48 289.90L221.50 290.15L221.51 290.40L221.52 290.65L221.53 290.90L221.54 291.15L221.54 291.40L221.54 291.65L221.53 291.90L221.52 292.14L221.51 292.39L221.50 292.64L221.49 292.89L221.47 293.14L221.44 293.38L221.42 293.63L221.39 293.87L221.36 294.12L221.33 294.36L221.29 294.61L221.25 294.85L221.21 295.09L221.16 295.33L221.11 295.57L221.06 295.81L221.01 296.05L220.95 296.29L220.89 296.53L220.83 296.76L220.76 297.00L220.70 297.23L220.63 297.46L220.55 297.69L220.48 297.92L220.40 298.15L220.32 298.38L220.24 298.61L220.15 298.83L220.06 299.06L219.97 299.28L219.88 299.50L219.78 299.72L219.69 299.94L219.59 300.15L219.48 300.37L219.38 300.58L219.27 300.79L219.16 301.00L219.05 301.21L218.94 301.42L218.82 301.62L218.70 301.83L218.58 302.03L218.46 302.23L218.34 302.43L218.21 302.62L218.08 302.82L217.95 303.01L217.82 303.20L217.69 303.39L217.56 303.58L217.42 303.76L217.28 303.94L217.14 304.13L217.00 304.30L216.86 304.48L216.71 304.66L216.57 304.83L216.42 305.00L216.27 305.17L216.12 305.34L215.97 305.50L215.82 305.66L215.66 305.82L215.51 305.98L215.35 306.14L215.20 306.29L215.04 306.44L214.88 306.59L214.72 306.74L214.56 306.89L214.40 307.03L214.24 307.17L214.08 307.31L213.92 307.45L213.75 307.58L213.59 307.71L213.42 307.85L213.26 307.97L213.09 308.10L212.93 308.22L212.76 308.35L212.60 308.47L212.43 308.59L212.27 308.70L212.10 308.82L211.94 308.93L211.77 309.04L211.61 309.15L211.44 309.25L211.28 309.36L211.11 309.46L210.95 309.56L210.79 309.66L210.63 309.76L210.46 309.85L210.30 309.95L210.14 310.04L209.98 310.13L209.83 310.22L209.67 310.30L209.51 310.39L209.36 310.47L209.20 310.56L209.05 310.64L208.90 310.72L208.75 310.80L208.60 310.88L208.45 310.95L208.31 311.03L208.16 311.10L208.02 311.17L207.88 311.25L207.74 311.32L207.60 311.39L207.47 311.46L207.33 311.53L207.20 311.60L207.07 311.67L206.94 311.73L206.82 311.80L206.70 311.87L206.58 311.94L206.46 312.00L206.34 312.07L206.23 312.14L206.11 312.20L206.01 312.27L205.90 312.34L205.79 312.40L205.69 312.47L205.59 312.54L205.50 312.61L205.40 312.68L205.31 312.75L205.22 312.82L205.13 312.89L205.05 312.97L204.97 313.04L204.89 313.12L204.81 313.19L204.74 313.27L204.67 313.35L204.60 313.43L204.53 313.51L204.47 313.59L204.40 313.68L204.34 313.77L204.29 313.85L204.23 313.94L204.18 314.04L204.13 314.13L204.08 314.23L204.03 314.32L203.99 314.42L203.95 314.53L203.91 314.63L203.87 314.74L203.83 314.84L203.80 314.95L203.76 315.07L203.73 315.18L203.70 315.30L203.67 315.42L203.64 315.54L203.61 315.66L203.59 315.79L203.56 315.92L203.54 316.05L203.52 316.18L203.49 316.31L203.47 316.45L203.45 316.59L203.43 316.73L203.41 316.88L203.39 317.02L203.37 317.17L203.35 317.32L203.33 317.47L203.31 317.63L203.29 317.78L203.27 317.94L203.25 318.10L203.23 318.27L203.21 318.43L203.19 318.60L203.17 318.77L203.15 318.94L203.12 319.11L203.10 319.28L203.07 319.46L203.05 319.63L203.02 319.81L202.99 319.99L202.96 320.18L202.93 320.36L202.90 320.54L202.87 320.73L202.84 320.92L202.80 321.11L202.76 321.30L202.73 321.49L202.69 321.68L202.64 321.87L202.60 322.07L202.56 322.27L202.51 322.46L202.46 322.66L202.41 322.86L202.36 323.06L202.30 323.26L202.25 323.46L202.19 323.66L202.13 323.86L202.07 324.06L202.00 324.26L201.93 324.47L201.86 324.67L201.79 324.87L201.72 325.08L201.64 325.28L201.57 325.49L201.49 325.69L201.40 325.90L201.32 326.10L201.23 326.31L201.14 326.51L201.05 326.71L200.96 326.92L200.86 327.12L200.76 327.32L200.66 327.53L200.55 327.73L200.45 327.93L200.34 328.13L200.23 328.33L200.11 328.53L200.00 328.73L199.88 328.93L199.75 329.13L199.63 329.33L199.50 329.52L199.38 329.72L199.24 329.91L199.11 330.11L198.97 330.30L198.83 330.49L198.69 330.68L198.55 330.87L198.40 331.06L198.26 331.24L198.10 331.43L197.95 331.61L197.79 331.79L197.64 331.97L197.48 332.15L197.31 332.33L197.15 332.50L196.98 332.68L196.81 332.85L196.64 333.02L196.46 333.19L196.29 333.36L196.11 333.52L195.93 333.68L195.74 333.84L195.56 334.00L195.37 334.16L195.18 334.32L194.99 334.47L194.80 334.62L194.60 334.77L194.40 334.91L194.20 335.06L194.00 335.20L193.80 335.34L193.59 335.48L193.38 335.61L193.17 335.74L192.96 335.87L192.75 336.00L192.53 336.12L192.32 336.25L192.10 336.37L191.88 336.48L191.66 336.60L191.44 336.71L191.21 336.82L190.99 336.92L190.76 337.03L190.53 337.13L190.30 337.22L190.07 337.32L189.83 337.41L189.60 337.50L189.36 337.59L189.13 337.67L188.89 337.75L188.65 337.83L188.41 337.90L188.17 337.97L187.93 338.04L187.68 338.11L187.44 338.17L187.19 338.23L186.95 338.29L186.70 338.34L186.45 338.39L186.20 338.44L185.96 338.48L185.71 338.52L185.46 338.56L185.20 338.59L184.95 338.62L184.70 338.65L184.45 338.68L184.20 338.70L183.94 338.72L183.69 338.73L183.44 338.74L183.18 338.75L182.93 338.76L182.67 338.76L182.42 338.76L182.17 338.75L181.91 338.74L181.66 338.73L181.40 338.72L181.15 338.70L180.90 338.68L180.64 338.66L180.39 338.63L180.14 338.60L179.88 338.56L179.63 338.53L179.38 338.49L179.13 338.44L178.88 338.39L178.63 338.34L178.38 338.29L178.13 338.23L177.88 338.17L177.63 338.11L177.39 338.05L177.14 337.98L176.90 337.90L176.65 337.83L176.41 337.75L176.17 337.67L175.93 337.58L175.69 337.49L175.45 337.40L175.21 337.31L174.97 337.21L174.74 337.11L174.50 337.01L174.27 336.90L174.04 336.79L173.81 336.68L173.58 336.56L173.36 336.44L173.13 336.32L172.91 336.20L172.68 336.07L172.46 335.94L172.25 335.81L172.03 335.67L171.81 335.53L171.60 335.39L171.39 335.25L171.18 335.10L170.97 334.95L170.76 334.80L170.56 334.65L170.36 334.49L170.16 334.33L169.96 334.17L169.76 334.00L169.57 333.84L169.38 333.67L169.19 333.50L169.00 333.32L168.82 333.14L168.63 332.97L168.45 332.78L168.28 332.60L168.10 332.41L167.93 332.23L167.76 332.04L167.59 331.84L167.42 331.65L167.26 331.45L167.10 331.25L166.94 331.05L166.78 330.85L166.63 330.65L166.48 330.44L166.33 330.23L166.19 330.02L166.05 329.81L165.91 329.60L165.77 329.38L165.63 329.17L165.50 328.95L165.37 328.73L165.25 328.51L165.13 328.28L165.01 328.06L164.89 327.83L164.77 327.61L164.66 327.38L164.55 327.15L164.45 326.92L164.35 326.68L164.25 326.45L164.15 326.22L164.06 325.98L163.96 325.74L163.88 325.51L163.79 325.27L163.71 325.03L163.63 324.79L163.56 324.54L163.48 324.30L163.41 324.06L163.35 323.82L163.28 323.57L163.22 323.33L163.17 323.08L163.11 322.83L163.06 322.59L163.01 322.34L162.97 322.09L162.93 321.84L162.89 321.60L162.85 321.35L162.82 321.10L162.79 320.85L162.76 320.60L162.74 320.35L162.72 320.10L162.70 319.85L162.69 319.60L162.68 319.35L162.67 319.10L162.66 318.85L162.66 318.60L162.66 318.35L162.67 318.10L162.68 317.86L162.69 317.61L162.70 317.36L162.71 317.11L162.73 316.86L162.76 316.62L162.78 316.37L162.81 316.13L162.84 315.88L162.87 315.64L162.91 315.39L162.95 315.15L162.99 314.91L163.04 314.67L163.09 314.43L163.14 314.19L163.19 313.95L163.25 313.71L163.31 313.47L163.37 313.24L163.44 313.00L163.50 312.77L163.57 312.54L163.65 312.31L163.72 312.08L163.80 311.85L163.88 311.62L163.96 311.39L164.05 311.17L164.14 310.94L164.23 310.72L164.32 310.50L164.42 310.28L164.51 310.06L164.61 309.85L164.72 309.63L164.82 309.42L164.93 309.21L165.04 309.00L165.15 308.79L165.26 308.58L165.38 308.38L165.50 308.17L165.62 307.97L165.74 307.77L165.86 307.57L165.99 307.38L166.12 307.18L166.25 306.99L166.38 306.80L166.51 306.61L166.64 306.42L166.78 306.24L166.92 306.06L167.06 305.87L167.20 305.70L167.34 305.52L167.49 305.34L167.63 305.17L167.78 305.00L167.93 304.83L168.08 304.66L168.23 304.50L168.38 304.34L168.54 304.18L168.69 304.02L168.85 303.86L169.00 303.71L169.16 303.56L169.32 303.41L169.48 303.26L169.64 303.11L169.80 302.97L169.96 302.83L170.12 302.69L170.28 302.55L170.45 302.42L170.61 302.29L170.78 302.15L170.94 302.03L171.11 301.90L171.27 301.78L171.44 301.65L171.60 301.53L171.77 301.41L171.93 301.30L172.10 301.18L172.26 301.07L172.43 300.96L172.59 300.85L172.76 300.75L172.92 300.64L173.09 300.54L173.25 300.44L173.41 300.34L173.57 300.24L173.74 300.15L173.90 300.05L174.06 299.96L174.22 299.87L174.37 299.78L174.53 299.70L174.69 299.61L174.84 299.53L175.00 299.44L175.15 299.36L175.30 299.28L175.45 299.20L175.60 299.12L175.75 299.05L175.89 298.97L176.04 298.90L176.18 298.83L176.32 298.75L176.46 298.68L176.60 298.61L176.73 298.54L176.87 298.47L177.00 298.40L177.13 298.33L177.26 298.27L177.38 298.20L177.50 298.13L177.62 298.06L177.74 298.00L177.86 297.93L177.97 297.86L178.09 297.80L178.19 297.73L178.30 297.66L178.41 297.60L178.51 297.53L178.61 297.46L178.70 297.39L178.80 297.32L178.89 297.25L178.98 297.18L179.07 297.11L179.15 297.03L179.23 296.96L179.31 296.88L179.39 296.81L179.46 296.73L179.53 296.65L179.60 296.57L179.67 296.49L179.73 296.41L179.80 296.32L179.86 296.23L179.91 296.15L179.97 296.06L180.02 295.96L180.07 295.87L180.12 295.77L180.17 295.68L180.21 295.58L180.25 295.47L180.29 295.37L180.33 295.26L180.37 295.16L180.40 295.05L180.44 294.93L180.47 294.82L180.50 294.70L180.53 294.58L180.56 294.46L180.59 294.34L180.61 294.21L180.64 294.08L180.66 293.95L180.68 293.82L180.71 293.69L180.73 293.55L180.75 293.41L180.77 293.27L180.79 293.12L180.81 292.98L180.83 292.83L180.85 292.68L180.87 292.53L180.89 292.37L180.91 292.22L180.93 292.06L180.95 291.90L180.97 291.73L180.99 291.57L181.01 291.40L181.03 291.23L181.05 291.06L181.08 290.89L181.10 290.72L181.13 290.54L181.15 290.37L181.18 290.19L181.21 290.01L181.24 289.82L181.27 289.64L181.30 289.46L181.33 289.27L181.36 289.08L181.40 288.89L181.44 288.70L181.47 288.51L181.51 288.32L181.56 288.13L181.60 287.93L181.64 287.73L181.69 287.54L181.74 287.34L181.79 287.14L181.84 286.94L181.90 286.74L181.95 286.54L182.01 286.34L182.07 286.14L182.13 285.94L182.20 285.74L182.27 285.53L182.34 285.33L182.41 285.13L182.48 284.92L182.56 284.72L182.63 284.51L182.71 284.31L182.80 284.10L182.88 283.90L182.97 283.69L183.06 283.49L183.15 283.29L183.24 283.08L183.34 282.88L183.44 282.68L183.54 282.47L183.65 282.27L183.75 282.07L183.86 281.87L183.97 281.67L184.09 281.47L184.20 281.27L184.32 281.07L184.45 280.87L184.57 280.67L184.70 280.48L184.82 280.28L184.96 280.09L185.09 279.89L185.23 279.70L185.37 279.51L185.51 279.32L185.65 279.13L185.80 278.94L185.94 278.76L186.10 278.57L186.25 278.39L186.41 278.21L186.56 278.03L186.72 277.85L186.89 277.67L187.05 277.50L187.22 277.32L187.39 277.15L187.56 276.98L187.74 276.81L187.91 276.64L188.09 276.48L188.27 276.32L188.46 276.16L188.64 276.00L188.83 275.84L189.02 275.68L189.21 275.53L189.40 275.38L189.60 275.23L189.80 275.09L190.00 274.94L190.20 274.80L190.40 274.66L190.61 274.52L190.82 274.39L191.03 274.26L191.24 274.13L191.45 274.00L191.67 273.88L191.88 273.75Z" fill="none" stroke="#805033" stroke-width="4.7" stroke-linejoin="round"/>
<path d="M192.10 241.19L192.55 240.97L193.00 240.74L193.45 240.53L193.91 240.32L194.37 240.11L194.83 239.91L195.29 239.71L195.76 239.52L196.23 239.33L196.70 239.15L197.18 238.97L197.66 238.80L198.14 238.63L198.62 238.47L199.11 238.32L199.60 238.17L200.09 238.02L200.58 237.88L201.07 237.75L201.57 237.62L202.07 237.50L202.57 237.38L203.07 237.27L203.57 237.17L204.08 237.07L204.58 236.98L205.09 236.89L205.60 236.81L206.11 236.74L206.62 236.67L207.14 236.60L207.65 236.55L208.17 236.50L208.68 236.45L209.20 236.42L209.72 236.39L210.24 236.36L210.75 236.34L211.27 236.33L211.79 236.32L212.31 236.32L212.83 236.33L213.35 236.35L213.87 236.37L214.39 236.39L214.91 236.42L215.43 236.46L215.95 236.51L216.47 236.56L216.99 236.62L217.51 236.69L218.02 236.76L218.54 236.84L219.05 236.92L219.57 237.02L220.08 237.12L220.59 237.22L221.10 237.33L221.61 237.45L222.12 237.58L222.63 237.71L223.13 237.85L223.63 237.99L224.13 238.14L224.63 238.30L225.13 238.46L225.62 238.64L226.12 238.81L226.61 239.00L227.09 239.19L227.58 239.38L228.06 239.59L228.54 239.80L229.02 240.01L229.49 240.23L229.96 240.46L230.43 240.70L230.90 240.94L231.36 241.18L231.82 241.44L232.27 241.70L232.73 241.96L233.17 242.23L233.62 242.51L234.06 242.79L234.50 243.08L234.93 243.38L235.36 243.68L235.78 243.98L236.20 244.30L236.62 244.61L237.03 244.94L237.44 245.27L237.84 245.60L238.24 245.94L238.64 246.28L239.03 246.63L239.41 246.99L239.79 247.35L240.17 247.72L240.54 248.09L240.90 248.46L241.26 248.84L241.62 249.23L241.96 249.62L242.31 250.01L242.65 250.41L242.98 250.82L243.31 251.23L243.63 251.64L243.95 252.06L244.26 252.48L244.56 252.90L244.86 253.33L245.15 253.77L245.44 254.20L245.72 254.65L246.00 255.09L246.27 255.54L246.53 255.99L246.79 256.45L247.04 256.91L247.28 257.37L247.52 257.83L247.75 258.30L247.98 258.77L248.20 259.25L248.41 259.73L248.62 260.21L248.82 260.69L249.01 261.17L249.20 261.66L249.38 262.15L249.55 262.64L249.72 263.14L249.88 263.64L250.03 264.13L250.18 264.63L250.32 265.14L250.45 265.64L250.58 266.15L250.70 266.65L250.81 267.16L250.92 267.67L251.02 268.18L251.12 268.69L251.20 269.21L251.28 269.72L251.36 270.23L251.42 270.75L251.48 271.27L251.54 271.78L251.58 272.30L251.62 272.82L251.66 273.33L251.68 273.85L251.70 274.37L251.72 274.89L251.72 275.40L251.72 275.92L251.72 276.44L251.71 276.95L251.69 277.47L251.66 277.98L251.63 278.50L251.59 279.01L251.55 279.52L251.50 280.03L251.44 280.54L251.38 281.05L251.31 281.56L251.23 282.06L251.15 282.57L251.06 283.07L250.97 283.57L250.87 284.07L250.76 284.57L250.65 285.07L250.53 285.56L250.41 286.05L250.28 286.54L250.15 287.03L250.01 287.52L249.86 288.00L249.71 288.48L249.56 288.96L249.40 289.43L249.23 289.91L249.06 290.38L248.88 290.84L248.70 291.31L248.51 291.77L248.32 292.23L248.13 292.68L247.93 293.13L247.72 293.58L247.51 294.03L247.30 294.47L247.08 294.91L246.86 295.34L246.63 295.78L246.40 296.21L246.17 296.63L245.93 297.05L245.69 297.47L245.44 297.88L245.19 298.29L244.94 298.70L244.68 299.10L244.42 299.50L244.16 299.90L243.89 300.29L243.63 300.67L243.35 301.06L243.08 301.44L242.80 301.81L242.52 302.18L242.24 302.55L241.96 302.91L241.67 303.27L241.38 303.62L241.09 303.97L240.80 304.32L240.51 304.66L240.21 305.00L239.91 305.33L239.62 305.66L239.32 305.99L239.01 306.31L238.71 306.63L238.41 306.94L238.10 307.25L237.80 307.56L237.49 307.86L237.19 308.15L236.88 308.45L236.58 308.73L236.27 309.02L235.96 309.30L235.66 309.58L235.35 309.85L235.04 310.12L234.74 310.39L234.43 310.65L234.13 310.91L233.83 311.16L233.52 311.41L233.22 311.66L232.92 311.90L232.62 312.15L232.32 312.38L232.03 312.62L231.73 312.85L231.44 313.08L231.15 313.30L230.86 313.52L230.57 313.74L230.29 313.96L230.00 314.17L229.72 314.38L229.44 314.59L229.17 314.79L228.90 315.00L228.63 315.20L228.36 315.40L228.09 315.59L227.83 315.79L227.57 315.98L227.32 316.17L227.06 316.36L226.82 316.55L226.57 316.73L226.33 316.92L226.09 317.10L225.85 317.29L225.62 317.47L225.39 317.65L225.17 317.83L224.95 318.01L224.73 318.18L224.52 318.36L224.31 318.54L224.10 318.72L223.90 318.89L223.71 319.07L223.51 319.25L223.32 319.43L223.14 319.61L222.96 319.78L222.78 319.96L222.61 320.14L222.44 320.32L222.27 320.51L222.11 320.69L221.95 320.87L221.80 321.06L221.65 321.24L221.50 321.43L221.36 321.62L221.22 321.81L221.08 322.00L220.95 322.20L220.82 322.40L220.70 322.59L220.58 322.79L220.46 323.00L220.34 323.20L220.23 323.41L220.12 323.62L220.02 323.83L219.91 324.04L219.81 324.26L219.72 324.48L219.62 324.70L219.53 324.93L219.44 325.16L219.35 325.39L219.26 325.62L219.18 325.85L219.10 326.09L219.02 326.33L218.94 326.58L218.86 326.83L218.79 327.08L218.71 327.33L218.64 327.59L218.57 327.85L218.50 328.11L218.43 328.37L218.36 328.64L218.29 328.91L218.22 329.19L218.15 329.46L218.08 329.74L218.02 330.03L217.95 330.31L217.88 330.60L217.81 330.89L217.74 331.19L217.68 331.48L217.61 331.78L217.54 332.09L217.46 332.39L217.39 332.70L217.32 333.01L217.25 333.32L217.17 333.64L217.09 333.96L217.02 334.28L216.94 334.60L216.85 334.92L216.77 335.25L216.69 335.58L216.60 335.91L216.51 336.25L216.42 336.58L216.33 336.92L216.23 337.26L216.14 337.60L216.04 337.94L215.93 338.29L215.83 338.64L215.72 338.98L215.61 339.34L215.50 339.69L215.38 340.04L215.26 340.39L215.14 340.75L215.01 341.11L214.89 341.47L214.75 341.82L214.62 342.19L214.48 342.55L214.34 342.91L214.20 343.27L214.05 343.64L213.90 344.00L213.74 344.37L213.58 344.73L213.42 345.10L213.26 345.47L213.09 345.83L212.91 346.20L212.73 346.57L212.55 346.94L212.37 347.30L212.18 347.67L211.99 348.04L211.79 348.41L211.59 348.78L211.39 349.14L211.18 349.51L210.96 349.88L210.75 350.24L210.53 350.61L210.30 350.97L210.07 351.34L209.84 351.70L209.60 352.06L209.36 352.42L209.12 352.78L208.87 353.14L208.61 353.50L208.35 353.86L208.09 354.21L207.82 354.57L207.55 354.92L207.28 355.27L207.00 355.62L206.72 355.97L206.43 356.32L206.14 356.66L205.84 357.00L205.54 357.35L205.24 357.68L204.93 358.02L204.61 358.36L204.30 358.69L203.98 359.02L203.65 359.34L203.32 359.67L202.99 359.99L202.65 360.31L202.31 360.63L201.96 360.94L201.61 361.26L201.26 361.56L200.90 361.87L200.54 362.17L200.18 362.47L199.81 362.77L199.44 363.06L199.06 363.35L198.68 363.64L198.29 363.92L197.90 364.20L197.51 364.48L197.12 364.75L196.72 365.02L196.32 365.29L195.91 365.55L195.50 365.80L195.09 366.06L194.67 366.31L194.25 366.55L193.83 366.79L193.40 367.03L192.97 367.26L192.54 367.49L192.10 367.72L191.66 367.94L191.22 368.15L190.77 368.36L190.32 368.57L189.87 368.77L189.42 368.97L188.96 369.16L188.50 369.35L188.04 369.53L187.58 369.70L187.11 369.88L186.64 370.04L186.17 370.21L185.69 370.36L185.21 370.51L184.74 370.66L184.25 370.80L183.77 370.94L183.28 371.07L182.80 371.19L182.31 371.31L181.82 371.43L181.32 371.53L180.83 371.64L180.33 371.73L179.84 371.82L179.34 371.91L178.84 371.99L178.33 372.06L177.83 372.13L177.33 372.19L176.82 372.25L176.31 372.30L175.81 372.35L175.30 372.38L174.79 372.42L174.28 372.44L173.77 372.46L173.26 372.48L172.75 372.49L172.24 372.49L171.73 372.48L171.21 372.47L170.70 372.46L170.19 372.44L169.68 372.41L169.16 372.37L168.65 372.33L168.14 372.28L167.63 372.23L167.12 372.17L166.61 372.10L166.10 372.03L165.59 371.95L165.09 371.86L164.58 371.77L164.07 371.67L163.57 371.57L163.06 371.46L162.56 371.34L162.06 371.22L161.56 371.09L161.07 370.95L160.57 370.81L160.07 370.66L159.58 370.51L159.09 370.35L158.60 370.18L158.12 370.01L157.63 369.83L157.15 369.64L156.67 369.45L156.19 369.25L155.72 369.05L155.24 368.84L154.77 368.62L154.31 368.40L153.84 368.17L153.38 367.93L152.92 367.69L152.47 367.45L152.02 367.20L151.57 366.94L151.12 366.68L150.68 366.41L150.24 366.13L149.81 365.85L149.38 365.56L148.95 365.27L148.53 364.97L148.11 364.67L147.69 364.36L147.28 364.05L146.87 363.73L146.47 363.41L146.07 363.08L145.67 362.74L145.28 362.40L144.90 362.06L144.52 361.71L144.14 361.35L143.77 360.99L143.40 360.63L143.04 360.26L142.68 359.88L142.33 359.50L141.98 359.12L141.64 358.73L141.30 358.34L140.97 357.95L140.64 357.54L140.32 357.14L140.01 356.73L139.70 356.32L139.39 355.90L139.09 355.48L138.80 355.05L138.51 354.63L138.23 354.19L137.95 353.76L137.68 353.32L137.41 352.87L137.15 352.43L136.90 351.98L136.65 351.53L136.41 351.07L136.17 350.61L135.94 350.15L135.72 349.69L135.50 349.22L135.29 348.75L135.09 348.28L134.89 347.80L134.69 347.32L134.51 346.84L134.33 346.36L134.15 345.88L133.99 345.39L133.82 344.90L133.67 344.41L133.52 343.92L133.38 343.43L133.24 342.93L133.11 342.44L132.99 341.94L132.87 341.44L132.76 340.94L132.66 340.44L132.56 339.93L132.47 339.43L132.38 338.93L132.30 338.42L132.23 337.91L132.16 337.41L132.10 336.90L132.05 336.39L132.00 335.88L131.96 335.38L131.93 334.87L131.90 334.36L131.88 333.85L131.86 333.34L131.86 332.84L131.85 332.33L131.86 331.82L131.87 331.32L131.88 330.81L131.90 330.30L131.93 329.80L131.96 329.30L132.00 328.79L132.05 328.29L132.10 327.79L132.16 327.29L132.22 326.79L132.29 326.30L132.37 325.80L132.45 325.31L132.53 324.82L132.62 324.33L132.72 323.84L132.82 323.35L132.93 322.86L133.05 322.38L133.16 321.90L133.29 321.42L133.42 320.94L133.55 320.47L133.69 320.00L133.84 319.53L133.99 319.06L134.14 318.59L134.30 318.13L134.46 317.67L134.63 317.21L134.81 316.76L134.99 316.31L135.17 315.86L135.35 315.41L135.55 314.97L135.74 314.53L135.94 314.10L136.14 313.66L136.35 313.23L136.56 312.81L136.78 312.38L137.00 311.96L137.22 311.54L137.45 311.13L137.68 310.72L137.91 310.31L138.15 309.91L138.38 309.51L138.63 309.11L138.87 308.72L139.12 308.33L139.37 307.95L139.63 307.57L139.88 307.19L140.14 306.81L140.41 306.44L140.67 306.08L140.94 305.71L141.21 305.36L141.48 305.00L141.75 304.65L142.02 304.30L142.30 303.96L142.58 303.62L142.86 303.28L143.14 302.95L143.42 302.62L143.70 302.29L143.99 301.97L144.27 301.66L144.56 301.34L144.85 301.03L145.14 300.73L145.43 300.42L145.72 300.12L146.01 299.83L146.30 299.54L146.59 299.25L146.88 298.97L147.17 298.69L147.46 298.41L147.75 298.13L148.04 297.86L148.33 297.60L148.62 297.33L148.90 297.07L149.19 296.81L149.48 296.56L149.76 296.31L150.05 296.06L150.33 295.82L150.62 295.58L150.90 295.34L151.18 295.10L151.46 294.87L151.73 294.64L152.01 294.41L152.28 294.18L152.55 293.96L152.82 293.74L153.09 293.52L153.36 293.30L153.62 293.09L153.88 292.88L154.14 292.67L154.40 292.46L154.65 292.25L154.91 292.05L155.16 291.84L155.40 291.64L155.65 291.44L155.89 291.24L156.13 291.05L156.36 290.85L156.60 290.66L156.83 290.46L157.05 290.27L157.28 290.07L157.50 289.88L157.72 289.69L157.93 289.50L158.14 289.31L158.35 289.12L158.55 288.93L158.76 288.74L158.96 288.55L159.15 288.36L159.34 288.17L159.53 287.97L159.72 287.78L159.90 287.59L160.08 287.40L160.26 287.20L160.43 287.01L160.60 286.81L160.76 286.62L160.93 286.42L161.09 286.22L161.24 286.02L161.40 285.82L161.55 285.61L161.70 285.41L161.84 285.20L161.99 284.99L162.13 284.78L162.26 284.57L162.40 284.36L162.53 284.14L162.66 283.92L162.79 283.70L162.91 283.48L163.03 283.26L163.15 283.03L163.27 282.80L163.39 282.57L163.50 282.33L163.61 282.10L163.73 281.86L163.83 281.62L163.94 281.37L164.05 281.13L164.15 280.88L164.26 280.62L164.36 280.37L164.46 280.11L164.56 279.85L164.66 279.59L164.76 279.32L164.85 279.05L164.95 278.78L165.05 278.51L165.14 278.23L165.24 277.95L165.34 277.67L165.43 277.38L165.53 277.10L165.62 276.81L165.72 276.51L165.82 276.22L165.92 275.92L166.01 275.62L166.11 275.31L166.21 275.01L166.31 274.70L166.41 274.39L166.52 274.07L166.62 273.76L166.72 273.44L166.83 273.12L166.94 272.80L167.05 272.47L167.16 272.14L167.27 271.81L167.39 271.48L167.50 271.15L167.62 270.81L167.74 270.47L167.87 270.13L167.99 269.79L168.12 269.45L168.25 269.10L168.38 268.76L168.52 268.41L168.66 268.06L168.80 267.71L168.94 267.35L169.08 267.00L169.23 266.64L169.39 266.28L169.54 265.93L169.70 265.57L169.86 265.21L170.02 264.85L170.19 264.48L170.36 264.12L170.54 263.76L170.72 263.39L170.90 263.03L171.08 262.66L171.27 262.29L171.46 261.93L171.66 261.56L171.86 261.19L172.06 260.83L172.27 260.46L172.48 260.09L172.69 259.72L172.91 259.36L173.14 258.99L173.36 258.62L173.59 258.26L173.83 257.89L174.07 257.53L174.31 257.16L174.56 256.80L174.81 256.43L175.06 256.07L175.32 255.71L175.58 255.35L175.85 254.99L176.12 254.63L176.40 254.27L176.68 253.92L176.96 253.56L177.25 253.21L177.54 252.86L177.84 252.51L178.14 252.16L178.44 251.81L178.75 251.47L179.07 251.13L179.38 250.78L179.71 250.45L180.03 250.11L180.36 249.78L180.70 249.44L181.03 249.12L181.38 248.79L181.72 248.46L182.07 248.14L182.43 247.82L182.79 247.51L183.15 247.19L183.52 246.88L183.89 246.58L184.26 246.27L184.64 245.97L185.03 245.68L185.41 245.38L185.80 245.09L186.20 244.80L186.60 244.52L187.00 244.24L187.40 243.96L187.81 243.69L188.23 243.42L188.64 243.16L189.06 242.90L189.49 242.64L189.91 242.39L190.34 242.14L190.78 241.90L191.22 241.66L191.66 241.42Z" fill="none" stroke="#bf784c" stroke-width="4.7" stroke-linejoin="round"/>
<path d="M192.10 210.43L192.76 210.10L193.43 209.77L194.10 209.46L194.78 209.15L195.46 208.85L196.14 208.56L196.83 208.28L197.52 208.01L198.22 207.75L198.92 207.49L199.62 207.25L200.33 207.01L201.04 206.79L201.75 206.57L202.47 206.36L203.19 206.16L203.91 205.97L204.63 205.79L205.36 205.62L206.09 205.46L206.82 205.31L207.55 205.17L208.29 205.04L209.03 204.92L209.77 204.81L210.51 204.71L211.25 204.61L211.99 204.53L212.74 204.46L213.48 204.39L214.23 204.34L214.98 204.30L215.73 204.27L216.48 204.24L217.23 204.23L217.97 204.22L218.72 204.23L219.47 204.25L220.22 204.27L220.97 204.31L221.72 204.35L222.47 204.41L223.22 204.47L223.97 204.55L224.71 204.63L225.46 204.73L226.20 204.83L226.94 204.94L227.69 205.06L228.43 205.20L229.16 205.34L229.90 205.49L230.63 205.65L231.37 205.82L232.10 206.00L232.83 206.19L233.55 206.39L234.28 206.60L235.00 206.81L235.72 207.04L236.43 207.27L237.14 207.52L237.85 207.77L238.56 208.03L239.26 208.30L239.96 208.58L240.66 208.87L241.35 209.17L242.04 209.47L242.73 209.78L243.41 210.11L244.09 210.44L244.76 210.78L245.43 211.12L246.09 211.48L246.75 211.84L247.41 212.22L248.06 212.60L248.71 212.99L249.35 213.38L249.99 213.79L250.62 214.20L251.25 214.62L251.87 215.04L252.48 215.48L253.09 215.92L253.70 216.37L254.30 216.83L254.89 217.29L255.48 217.76L256.06 218.24L256.64 218.73L257.21 219.22L257.77 219.72L258.33 220.23L258.88 220.74L259.43 221.26L259.97 221.79L260.50 222.32L261.02 222.86L261.54 223.41L262.05 223.96L262.56 224.52L263.06 225.08L263.55 225.65L264.03 226.23L264.50 226.81L264.97 227.40L265.43 227.99L265.89 228.59L266.33 229.20L266.77 229.81L267.20 230.42L267.62 231.04L268.04 231.67L268.44 232.30L268.84 232.94L269.23 233.58L269.61 234.22L269.98 234.87L270.35 235.53L270.71 236.19L271.05 236.85L271.39 237.52L271.72 238.19L272.04 238.87L272.36 239.54L272.66 240.23L272.95 240.92L273.24 241.61L273.52 242.30L273.78 243.00L274.04 243.70L274.29 244.40L274.53 245.11L274.76 245.82L274.98 246.53L275.19 247.25L275.39 247.97L275.59 248.69L275.77 249.41L275.94 250.14L276.10 250.86L276.26 251.59L276.40 252.32L276.53 253.06L276.66 253.79L276.77 254.52L276.88 255.26L276.97 256.00L277.06 256.74L277.13 257.48L277.20 258.22L277.25 258.96L277.30 259.70L277.33 260.44L277.36 261.18L277.38 261.92L277.38 262.67L277.38 263.41L277.36 264.15L277.34 264.89L277.31 265.63L277.26 266.37L277.21 267.11L277.15 267.84L277.08 268.58L277.00 269.31L276.90 270.05L276.80 270.78L276.69 271.51L276.57 272.23L276.45 272.96L276.31 273.68L276.16 274.40L276.00 275.12L275.84 275.84L275.66 276.55L275.48 277.26L275.29 277.97L275.09 278.67L274.88 279.38L274.66 280.07L274.43 280.77L274.20 281.46L273.96 282.15L273.71 282.83L273.45 283.51L273.18 284.18L272.91 284.85L272.63 285.52L272.34 286.18L272.04 286.84L271.74 287.49L271.42 288.14L271.11 288.78L270.78 289.42L270.45 290.05L270.12 290.68L269.77 291.30L269.42 291.92L269.07 292.53L268.71 293.14L268.34 293.74L267.97 294.34L267.59 294.93L267.21 295.51L266.82 296.09L266.43 296.66L266.03 297.23L265.63 297.79L265.22 298.35L264.81 298.89L264.40 299.44L263.99 299.97L263.57 300.50L263.14 301.03L262.72 301.55L262.29 302.06L261.86 302.56L261.42 303.06L260.99 303.56L260.55 304.04L260.11 304.53L259.67 305.00L259.23 305.47L258.79 305.93L258.34 306.39L257.90 306.84L257.45 307.28L257.01 307.72L256.56 308.15L256.11 308.58L255.67 309.00L255.22 309.41L254.78 309.82L254.34 310.23L253.89 310.62L253.45 311.02L253.01 311.40L252.57 311.78L252.14 312.16L251.70 312.53L251.27 312.90L250.84 313.26L250.42 313.61L249.99 313.96L249.57 314.31L249.15 314.65L248.74 314.99L248.32 315.32L247.91 315.65L247.51 315.97L247.11 316.29L246.71 316.61L246.32 316.92L245.93 317.23L245.54 317.54L245.16 317.84L244.79 318.14L244.42 318.43L244.05 318.73L243.69 319.02L243.33 319.30L242.98 319.59L242.63 319.87L242.29 320.15L241.95 320.43L241.62 320.71L241.29 320.98L240.97 321.26L240.66 321.53L240.35 321.80L240.04 322.07L239.74 322.34L239.45 322.61L239.16 322.88L238.88 323.14L238.60 323.41L238.32 323.68L238.06 323.94L237.79 324.21L237.54 324.47L237.29 324.74L237.04 325.01L236.80 325.28L236.56 325.55L236.33 325.81L236.11 326.08L235.89 326.36L235.67 326.63L235.46 326.90L235.25 327.18L235.05 327.45L234.85 327.73L234.66 328.01L234.47 328.29L234.29 328.58L234.11 328.86L233.93 329.15L233.76 329.44L233.59 329.73L233.43 330.03L233.27 330.33L233.11 330.63L232.96 330.93L232.81 331.23L232.66 331.54L232.52 331.85L232.38 332.17L232.24 332.48L232.10 332.80L231.97 333.13L231.84 333.45L231.71 333.78L231.59 334.11L231.47 334.45L231.35 334.79L231.23 335.13L231.11 335.48L230.99 335.83L230.88 336.18L230.77 336.54L230.66 336.90L230.55 337.26L230.44 337.63L230.33 338.00L230.22 338.37L230.12 338.75L230.01 339.14L229.91 339.52L229.80 339.91L229.70 340.31L229.59 340.71L229.49 341.11L229.39 341.51L229.28 341.92L229.18 342.34L229.07 342.75L228.97 343.18L228.86 343.60L228.75 344.03L228.65 344.47L228.54 344.90L228.43 345.34L228.32 345.79L228.20 346.24L228.09 346.69L227.97 347.15L227.86 347.61L227.74 348.08L227.62 348.55L227.49 349.02L227.37 349.50L227.24 349.98L227.11 350.46L226.98 350.95L226.84 351.44L226.70 351.94L226.56 352.43L226.42 352.94L226.27 353.44L226.12 353.95L225.97 354.47L225.81 354.98L225.65 355.50L225.49 356.02L225.32 356.55L225.15 357.08L224.97 357.61L224.79 358.14L224.61 358.68L224.42 359.22L224.23 359.76L224.03 360.31L223.83 360.86L223.62 361.41L223.41 361.96L223.20 362.51L222.98 363.07L222.75 363.63L222.52 364.19L222.28 364.75L222.04 365.31L221.79 365.88L221.54 366.44L221.28 367.01L221.02 367.58L220.75 368.15L220.47 368.72L220.19 369.29L219.90 369.86L219.61 370.43L219.31 371.00L219.00 371.58L218.69 372.15L218.37 372.72L218.04 373.29L217.71 373.86L217.37 374.43L217.03 375.00L216.67 375.57L216.32 376.13L215.95 376.70L215.58 377.26L215.20 377.83L214.82 378.39L214.43 378.94L214.03 379.50L213.62 380.06L213.21 380.61L212.79 381.16L212.37 381.70L211.93 382.24L211.49 382.78L211.05 383.32L210.60 383.85L210.14 384.38L209.67 384.91L209.20 385.43L208.72 385.95L208.23 386.46L207.74 386.97L207.24 387.47L206.73 387.97L206.22 388.47L205.70 388.96L205.17 389.44L204.64 389.92L204.10 390.39L203.56 390.86L203.00 391.32L202.45 391.78L201.88 392.22L201.31 392.67L200.74 393.10L200.16 393.53L199.57 393.96L198.98 394.37L198.38 394.78L197.77 395.18L197.16 395.58L196.55 395.97L195.93 396.35L195.30 396.72L194.67 397.08L194.04 397.44L193.40 397.79L192.75 398.13L192.10 398.46L191.45 398.79L190.79 399.10L190.12 399.41L189.45 399.71L188.78 400.00L188.11 400.28L187.43 400.55L186.74 400.82L186.06 401.07L185.36 401.32L184.67 401.56L183.97 401.78L183.27 402.00L182.57 402.21L181.86 402.41L181.15 402.60L180.44 402.78L179.73 402.96L179.01 403.12L178.29 403.27L177.57 403.41L176.84 403.55L176.12 403.67L175.39 403.79L174.66 403.89L173.93 403.99L173.20 404.07L172.47 404.15L171.73 404.21L171.00 404.27L170.26 404.31L169.53 404.35L168.79 404.38L168.05 404.39L167.32 404.40L166.58 404.40L165.84 404.39L165.10 404.36L164.37 404.33L163.63 404.29L162.89 404.24L162.16 404.18L161.42 404.11L160.69 404.03L159.95 403.94L159.22 403.84L158.49 403.73L157.76 403.61L157.03 403.48L156.30 403.35L155.58 403.20L154.86 403.04L154.13 402.88L153.42 402.71L152.70 402.52L151.98 402.33L151.27 402.13L150.56 401.92L149.85 401.70L149.15 401.47L148.45 401.23L147.75 400.99L147.05 400.73L146.36 400.47L145.67 400.20L144.98 399.92L144.30 399.63L143.62 399.33L142.94 399.03L142.27 398.71L141.60 398.39L140.94 398.06L140.28 397.72L139.62 397.38L138.97 397.02L138.32 396.66L137.68 396.29L137.04 395.92L136.40 395.53L135.78 395.14L135.15 394.74L134.53 394.33L133.91 393.92L133.30 393.49L132.70 393.06L132.10 392.63L131.50 392.19L130.92 391.73L130.33 391.28L129.75 390.81L129.18 390.34L128.61 389.86L128.05 389.38L127.50 388.89L126.95 388.39L126.40 387.89L125.87 387.38L125.33 386.86L124.81 386.34L124.29 385.81L123.78 385.28L123.27 384.74L122.77 384.19L122.28 383.64L121.79 383.08L121.31 382.52L120.84 381.95L120.38 381.38L119.92 380.80L119.47 380.21L119.02 379.62L118.59 379.03L118.16 378.43L117.73 377.83L117.32 377.22L116.91 376.60L116.51 375.98L116.12 375.36L115.73 374.73L115.36 374.10L114.99 373.46L114.63 372.82L114.27 372.18L113.93 371.53L113.59 370.88L113.26 370.22L112.94 369.56L112.63 368.90L112.33 368.23L112.03 367.56L111.74 366.88L111.46 366.21L111.19 365.53L110.93 364.84L110.68 364.16L110.43 363.47L110.20 362.78L109.97 362.08L109.75 361.38L109.54 360.69L109.34 359.98L109.15 359.28L108.97 358.57L108.80 357.87L108.63 357.16L108.48 356.45L108.33 355.73L108.19 355.02L108.06 354.30L107.94 353.59L107.83 352.87L107.73 352.15L107.64 351.43L107.56 350.71L107.49 349.99L107.42 349.27L107.37 348.55L107.32 347.82L107.29 347.10L107.26 346.38L107.24 345.66L107.23 344.94L107.23 344.21L107.24 343.49L107.26 342.77L107.29 342.05L107.33 341.33L107.37 340.62L107.43 339.90L107.49 339.18L107.56 338.47L107.65 337.76L107.74 337.05L107.83 336.34L107.94 335.63L108.06 334.93L108.18 334.22L108.32 333.52L108.46 332.82L108.61 332.13L108.77 331.43L108.94 330.74L109.11 330.06L109.30 329.37L109.49 328.69L109.69 328.01L109.90 327.33L110.11 326.66L110.33 325.99L110.56 325.33L110.80 324.67L111.05 324.01L111.30 323.36L111.56 322.71L111.82 322.06L112.10 321.42L112.38 320.79L112.66 320.15L112.95 319.53L113.25 318.90L113.56 318.28L113.87 317.67L114.19 317.06L114.51 316.46L114.84 315.86L115.17 315.26L115.51 314.68L115.85 314.09L116.20 313.51L116.56 312.94L116.92 312.37L117.28 311.81L117.65 311.25L118.02 310.70L118.39 310.15L118.77 309.61L119.16 309.08L119.54 308.55L119.93 308.02L120.33 307.51L120.72 306.99L121.12 306.49L121.52 305.99L121.93 305.49L122.33 305.00L122.74 304.52L123.15 304.04L123.56 303.56L123.98 303.10L124.39 302.64L124.81 302.18L125.22 301.73L125.64 301.28L126.06 300.85L126.48 300.41L126.90 299.98L127.32 299.56L127.74 299.14L128.16 298.73L128.58 298.32L129.00 297.92L129.41 297.53L129.83 297.13L130.25 296.75L130.66 296.37L131.08 295.99L131.49 295.62L131.90 295.25L132.31 294.89L132.72 294.53L133.12 294.18L133.52 293.83L133.92 293.48L134.32 293.14L134.72 292.80L135.11 292.47L135.50 292.14L135.89 291.82L136.27 291.49L136.65 291.18L137.03 290.86L137.40 290.55L137.77 290.24L138.14 289.93L138.50 289.63L138.86 289.33L139.22 289.03L139.57 288.74L139.92 288.45L140.26 288.16L140.60 287.87L140.94 287.58L141.27 287.30L141.60 287.02L141.92 286.74L142.24 286.46L142.55 286.18L142.86 285.90L143.17 285.63L143.47 285.35L143.77 285.08L144.06 284.81L144.35 284.53L144.63 284.26L144.91 283.99L145.18 283.72L145.45 283.44L145.71 283.17L145.98 282.90L146.23 282.63L146.48 282.36L146.73 282.08L146.97 281.81L147.21 281.53L147.44 281.26L147.67 280.98L147.90 280.70L148.12 280.42L148.34 280.14L148.55 279.86L148.76 279.57L148.96 279.29L149.17 279.00L149.36 278.71L149.56 278.42L149.75 278.12L149.93 277.83L150.12 277.53L150.29 277.22L150.47 276.92L150.64 276.61L150.81 276.30L150.98 275.99L151.14 275.68L151.30 275.36L151.46 275.04L151.62 274.71L151.77 274.39L151.92 274.06L152.07 273.72L152.21 273.38L152.35 273.04L152.49 272.70L152.63 272.35L152.77 272.00L152.90 271.64L153.04 271.28L153.17 270.92L153.30 270.55L153.43 270.18L153.56 269.80L153.68 269.42L153.81 269.04L153.93 268.65L154.06 268.26L154.18 267.87L154.30 267.47L154.42 267.06L154.55 266.65L154.67 266.24L154.79 265.82L154.91 265.40L155.04 264.97L155.16 264.54L155.28 264.11L155.41 263.67L155.53 263.23L155.66 262.78L155.78 262.33L155.91 261.87L156.04 261.41L156.17 260.95L156.30 260.48L156.44 260.00L156.57 259.53L156.71 259.04L156.85 258.56L156.99 258.07L157.13 257.57L157.28 257.08L157.43 256.57L157.58 256.07L157.74 255.56L157.90 255.05L158.06 254.53L158.22 254.01L158.39 253.48L158.56 252.96L158.74 252.43L158.91 251.89L159.10 251.35L159.28 250.81L159.47 250.27L159.67 249.72L159.87 249.17L160.07 248.62L160.28 248.07L160.50 247.51L160.71 246.95L160.94 246.39L161.16 245.83L161.40 245.26L161.64 244.69L161.88 244.12L162.13 243.55L162.38 242.98L162.65 242.41L162.91 241.83L163.18 241.25L163.46 240.68L163.75 240.10L164.04 239.52L164.33 238.94L164.63 238.36L164.94 237.78L165.26 237.20L165.58 236.62L165.91 236.04L166.24 235.47L166.58 234.89L166.93 234.31L167.28 233.73L167.64 233.16L168.01 232.58L168.38 232.01L168.77 231.44L169.15 230.87L169.55 230.31L169.95 229.74L170.36 229.18L170.77 228.62L171.20 228.06L171.62 227.51L172.06 226.95L172.50 226.40L172.95 225.86L173.41 225.32L173.87 224.78L174.34 224.25L174.82 223.72L175.31 223.19L175.80 222.67L176.30 222.15L176.80 221.64L177.31 221.13L177.83 220.63L178.35 220.13L178.89 219.64L179.42 219.15L179.97 218.67L180.52 218.19L181.07 217.72L181.64 217.26L182.21 216.80L182.78 216.35L183.36 215.91L183.95 215.47L184.55 215.04L185.14 214.61L185.75 214.19L186.36 213.78L186.98 213.38L187.60 212.98L188.23 212.60L188.86 212.22L189.50 211.84L190.14 211.48L190.79 211.12L191.44 210.77Z" fill="none" stroke="#ff9f65" stroke-width="4.7" stroke-linejoin="round"/>
<path d="M192.10 203.16L192.81 202.80L193.53 202.45L194.26 202.11L194.98 201.77L195.72 201.45L196.45 201.14L197.19 200.83L197.94 200.54L198.69 200.25L199.44 199.98L200.20 199.72L200.96 199.46L201.73 199.22L202.49 198.99L203.27 198.77L204.04 198.56L204.82 198.36L205.60 198.17L206.38 197.99L207.16 197.82L207.95 197.66L208.74 197.52L209.53 197.38L210.32 197.26L211.12 197.14L211.91 197.04L212.71 196.95L213.51 196.87L214.31 196.80L215.11 196.74L215.91 196.69L216.71 196.66L217.52 196.63L218.32 196.62L219.12 196.62L219.93 196.63L220.73 196.65L221.53 196.68L222.33 196.72L223.13 196.77L223.93 196.84L224.73 196.91L225.53 197.00L226.33 197.09L227.13 197.20L227.92 197.32L228.71 197.45L229.50 197.59L230.29 197.74L231.08 197.90L231.86 198.08L232.65 198.26L233.43 198.45L234.20 198.66L234.98 198.87L235.75 199.09L236.52 199.33L237.29 199.57L238.05 199.83L238.81 200.09L239.56 200.37L240.31 200.65L241.06 200.95L241.81 201.25L242.55 201.57L243.28 201.89L244.02 202.22L244.74 202.57L245.47 202.92L246.19 203.28L246.90 203.65L247.61 204.03L248.31 204.42L249.01 204.81L249.71 205.22L250.40 205.63L251.08 206.06L251.76 206.49L252.43 206.93L253.10 207.38L253.76 207.83L254.42 208.30L255.07 208.77L255.72 209.25L256.36 209.74L256.99 210.23L257.61 210.74L258.24 211.25L258.85 211.77L259.46 212.29L260.06 212.82L260.65 213.36L261.24 213.91L261.82 214.46L262.40 215.02L262.97 215.59L263.53 216.16L264.08 216.74L264.63 217.33L265.17 217.92L265.70 218.52L266.22 219.13L266.74 219.74L267.25 220.35L267.76 220.98L268.25 221.60L268.74 222.24L269.22 222.88L269.69 223.52L270.16 224.17L270.61 224.83L271.06 225.49L271.50 226.15L271.94 226.82L272.36 227.49L272.78 228.17L273.18 228.86L273.58 229.54L273.98 230.24L274.36 230.93L274.73 231.63L275.10 232.34L275.46 233.05L275.81 233.76L276.15 234.48L276.48 235.20L276.80 235.92L277.12 236.65L277.42 237.38L277.72 238.11L278.00 238.84L278.28 239.58L278.55 240.33L278.81 241.07L279.06 241.82L279.30 242.57L279.54 243.32L279.76 244.08L279.97 244.83L280.18 245.59L280.37 246.35L280.56 247.11L280.73 247.88L280.90 248.65L281.06 249.41L281.20 250.18L281.34 250.95L281.47 251.72L281.59 252.50L281.70 253.27L281.80 254.04L281.89 254.82L281.97 255.60L282.04 256.37L282.10 257.15L282.15 257.92L282.19 258.70L282.22 259.48L282.24 260.25L282.25 261.03L282.25 261.81L282.24 262.58L282.23 263.36L282.20 264.13L282.16 264.90L282.11 265.67L282.06 266.45L281.99 267.21L281.91 267.98L281.83 268.75L281.73 269.51L281.62 270.28L281.51 271.04L281.38 271.80L281.25 272.55L281.11 273.31L280.95 274.06L280.79 274.81L280.62 275.55L280.44 276.30L280.25 277.04L280.05 277.77L279.84 278.51L279.63 279.24L279.40 279.97L279.17 280.69L278.92 281.41L278.67 282.13L278.41 282.84L278.14 283.55L277.86 284.25L277.58 284.95L277.29 285.65L276.98 286.34L276.68 287.02L276.36 287.70L276.03 288.38L275.70 289.05L275.36 289.72L275.02 290.38L274.66 291.04L274.30 291.69L273.93 292.33L273.56 292.97L273.18 293.61L272.79 294.23L272.40 294.86L272.00 295.47L271.59 296.08L271.18 296.69L270.76 297.29L270.34 297.88L269.92 298.47L269.48 299.05L269.05 299.62L268.61 300.19L268.16 300.75L267.71 301.30L267.26 301.85L266.80 302.39L266.34 302.93L265.87 303.45L265.40 303.98L264.93 304.49L264.46 305.00L263.98 305.50L263.50 306.00L263.02 306.49L262.54 306.97L262.06 307.44L261.57 307.91L261.08 308.37L260.59 308.83L260.10 309.28L259.61 309.72L259.12 310.16L258.63 310.59L258.14 311.01L257.65 311.43L257.17 311.84L256.68 312.24L256.19 312.64L255.70 313.04L255.22 313.42L254.74 313.80L254.25 314.18L253.78 314.55L253.30 314.91L252.82 315.27L252.35 315.62L251.89 315.97L251.42 316.32L250.96 316.65L250.50 316.99L250.05 317.32L249.59 317.64L249.15 317.96L248.71 318.28L248.27 318.59L247.84 318.90L247.41 319.20L246.98 319.50L246.57 319.80L246.15 320.09L245.75 320.38L245.35 320.67L244.95 320.96L244.56 321.24L244.18 321.52L243.80 321.80L243.43 322.07L243.06 322.35L242.71 322.62L242.35 322.89L242.01 323.17L241.67 323.43L241.34 323.70L241.01 323.97L240.69 324.24L240.38 324.51L240.08 324.77L239.78 325.04L239.49 325.31L239.20 325.58L238.92 325.85L238.65 326.12L238.39 326.39L238.13 326.66L237.88 326.93L237.64 327.21L237.40 327.49L237.17 327.77L236.94 328.05L236.72 328.33L236.51 328.61L236.31 328.90L236.11 329.19L235.91 329.49L235.72 329.78L235.54 330.08L235.36 330.38L235.19 330.69L235.02 331.00L234.86 331.31L234.71 331.62L234.55 331.94L234.41 332.26L234.26 332.59L234.13 332.92L233.99 333.26L233.86 333.59L233.73 333.94L233.61 334.28L233.49 334.63L233.37 334.99L233.26 335.35L233.15 335.71L233.04 336.08L232.94 336.45L232.83 336.82L232.73 337.20L232.63 337.59L232.54 337.98L232.44 338.37L232.35 338.77L232.25 339.17L232.16 339.58L232.07 339.99L231.98 340.41L231.89 340.83L231.80 341.25L231.72 341.68L231.63 342.12L231.54 342.56L231.45 343.00L231.36 343.45L231.27 343.90L231.18 344.36L231.09 344.82L231.00 345.28L230.91 345.75L230.81 346.22L230.72 346.70L230.62 347.18L230.52 347.67L230.42 348.16L230.32 348.66L230.21 349.15L230.11 349.66L230.00 350.16L229.89 350.67L229.77 351.19L229.65 351.71L229.53 352.23L229.41 352.76L229.29 353.29L229.16 353.82L229.03 354.36L228.89 354.90L228.75 355.45L228.61 355.99L228.46 356.55L228.31 357.10L228.16 357.66L228.00 358.22L227.84 358.79L227.67 359.36L227.50 359.93L227.32 360.50L227.14 361.08L226.96 361.66L226.77 362.24L226.57 362.83L226.37 363.42L226.17 364.01L225.96 364.60L225.74 365.20L225.52 365.79L225.30 366.39L225.06 367.00L224.83 367.60L224.58 368.21L224.33 368.81L224.08 369.42L223.82 370.03L223.55 370.65L223.28 371.26L223.00 371.88L222.72 372.49L222.42 373.11L222.13 373.73L221.82 374.35L221.51 374.96L221.19 375.58L220.87 376.20L220.54 376.82L220.20 377.44L219.85 378.06L219.50 378.68L219.14 379.30L218.78 379.92L218.41 380.54L218.03 381.16L217.64 381.77L217.25 382.39L216.84 383.00L216.44 383.62L216.02 384.23L215.60 384.84L215.17 385.44L214.73 386.05L214.28 386.65L213.83 387.25L213.37 387.85L212.90 388.44L212.43 389.04L211.95 389.62L211.46 390.21L210.96 390.79L210.46 391.37L209.95 391.95L209.43 392.52L208.90 393.08L208.37 393.65L207.83 394.20L207.28 394.76L206.73 395.30L206.16 395.85L205.59 396.39L205.02 396.92L204.43 397.45L203.84 397.97L203.25 398.48L202.64 398.99L202.03 399.50L201.41 399.99L200.79 400.49L200.16 400.97L199.52 401.45L198.88 401.92L198.23 402.38L197.57 402.84L196.91 403.28L196.24 403.72L195.56 404.16L194.88 404.58L194.19 405.00L193.50 405.41L192.80 405.81L192.10 406.20L191.39 406.59L190.68 406.96L189.96 407.33L189.23 407.68L188.50 408.03L187.77 408.37L187.03 408.70L186.28 409.02L185.54 409.33L184.78 409.63L184.03 409.92L183.27 410.20L182.50 410.47L181.73 410.73L180.96 410.98L180.19 411.22L179.41 411.45L178.62 411.67L177.84 411.88L177.05 412.08L176.26 412.26L175.47 412.44L174.67 412.61L173.87 412.76L173.07 412.91L172.27 413.04L171.47 413.16L170.66 413.27L169.85 413.37L169.05 413.46L168.24 413.54L167.43 413.60L166.61 413.66L165.80 413.70L164.99 413.74L164.18 413.76L163.36 413.77L162.55 413.76L161.74 413.75L160.92 413.73L160.11 413.69L159.30 413.64L158.49 413.59L157.68 413.52L156.87 413.44L156.06 413.34L155.25 413.24L154.45 413.12L153.64 413.00L152.84 412.86L152.04 412.71L151.24 412.55L150.45 412.38L149.66 412.20L148.87 412.01L148.08 411.80L147.29 411.59L146.51 411.36L145.73 411.13L144.96 410.88L144.19 410.62L143.42 410.36L142.65 410.08L141.89 409.79L141.14 409.49L140.39 409.18L139.64 408.86L138.89 408.53L138.15 408.19L137.42 407.84L136.69 407.48L135.97 407.11L135.25 406.73L134.53 406.34L133.82 405.94L133.12 405.53L132.42 405.11L131.73 404.68L131.04 404.25L130.36 403.80L129.69 403.35L129.02 402.88L128.36 402.41L127.70 401.93L127.05 401.44L126.41 400.94L125.77 400.44L125.14 399.92L124.52 399.40L123.90 398.87L123.29 398.33L122.69 397.79L122.09 397.23L121.50 396.67L120.92 396.10L120.35 395.53L119.78 394.94L119.23 394.35L118.68 393.75L118.13 393.15L117.60 392.54L117.07 391.92L116.55 391.30L116.04 390.67L115.54 390.03L115.04 389.39L114.56 388.74L114.08 388.08L113.61 387.42L113.15 386.76L112.69 386.09L112.25 385.41L111.81 384.73L111.39 384.04L110.97 383.35L110.56 382.65L110.16 381.95L109.76 381.24L109.38 380.53L109.01 379.82L108.64 379.10L108.29 378.37L107.94 377.65L107.60 376.91L107.27 376.18L106.95 375.44L106.64 374.70L106.34 373.95L106.05 373.20L105.77 372.45L105.49 371.70L105.23 370.94L104.98 370.18L104.73 369.41L104.50 368.65L104.27 367.88L104.05 367.11L103.85 366.34L103.65 365.56L103.46 364.79L103.28 364.01L103.12 363.23L102.96 362.45L102.81 361.67L102.67 360.88L102.54 360.10L102.42 359.31L102.31 358.53L102.21 357.74L102.11 356.95L102.03 356.17L101.96 355.38L101.90 354.59L101.84 353.80L101.80 353.01L101.77 352.23L101.74 351.44L101.73 350.65L101.72 349.87L101.72 349.08L101.74 348.29L101.76 347.51L101.79 346.73L101.83 345.95L101.88 345.17L101.94 344.39L102.01 343.61L102.09 342.84L102.18 342.06L102.27 341.29L102.38 340.52L102.49 339.76L102.62 338.99L102.75 338.23L102.89 337.47L103.04 336.71L103.20 335.96L103.37 335.21L103.54 334.46L103.73 333.71L103.92 332.97L104.12 332.24L104.33 331.50L104.54 330.77L104.77 330.04L105.00 329.32L105.24 328.60L105.49 327.88L105.74 327.17L106.01 326.47L106.28 325.76L106.56 325.06L106.84 324.37L107.13 323.68L107.43 323.00L107.74 322.32L108.05 321.64L108.37 320.97L108.70 320.31L109.03 319.65L109.37 318.99L109.71 318.34L110.06 317.70L110.42 317.06L110.78 316.43L111.15 315.80L111.52 315.18L111.90 314.56L112.28 313.95L112.67 313.35L113.06 312.75L113.45 312.16L113.86 311.57L114.26 310.99L114.67 310.41L115.08 309.85L115.50 309.28L115.92 308.73L116.35 308.18L116.77 307.63L117.20 307.09L117.64 306.56L118.07 306.03L118.51 305.51L118.95 305.00L119.39 304.49L119.84 303.99L120.29 303.50L120.73 303.01L121.18 302.52L121.63 302.05L122.09 301.58L122.54 301.11L122.99 300.65L123.45 300.20L123.90 299.75L124.36 299.31L124.81 298.88L125.27 298.45L125.72 298.02L126.18 297.61L126.63 297.19L127.08 296.79L127.53 296.38L127.98 295.99L128.43 295.60L128.88 295.21L129.32 294.83L129.77 294.46L130.21 294.09L130.65 293.72L131.08 293.36L131.52 293.00L131.95 292.65L132.38 292.31L132.80 291.96L133.23 291.62L133.64 291.29L134.06 290.96L134.47 290.63L134.88 290.31L135.29 289.99L135.69 289.67L136.08 289.36L136.48 289.05L136.86 288.74L137.25 288.44L137.63 288.14L138.00 287.84L138.37 287.54L138.74 287.25L139.10 286.96L139.46 286.67L139.81 286.38L140.15 286.09L140.49 285.81L140.83 285.52L141.16 285.24L141.48 284.96L141.80 284.68L142.12 284.40L142.43 284.12L142.73 283.84L143.03 283.56L143.32 283.28L143.61 283.00L143.89 282.72L144.17 282.44L144.44 282.16L144.70 281.88L144.97 281.60L145.22 281.32L145.47 281.04L145.71 280.75L145.95 280.46L146.19 280.18L146.42 279.89L146.64 279.59L146.86 279.30L147.07 279.00L147.28 278.71L147.49 278.41L147.69 278.10L147.88 277.80L148.07 277.49L148.26 277.18L148.44 276.86L148.62 276.55L148.79 276.23L148.96 275.90L149.13 275.58L149.29 275.25L149.45 274.91L149.60 274.57L149.75 274.23L149.90 273.89L150.04 273.54L150.19 273.18L150.32 272.83L150.46 272.47L150.59 272.10L150.72 271.73L150.85 271.36L150.97 270.98L151.10 270.59L151.22 270.21L151.34 269.82L151.46 269.42L151.57 269.02L151.69 268.61L151.80 268.20L151.91 267.79L152.02 267.37L152.13 266.94L152.24 266.51L152.35 266.08L152.46 265.64L152.57 265.19L152.68 264.74L152.79 264.29L152.90 263.83L153.00 263.37L153.11 262.90L153.22 262.43L153.33 261.95L153.45 261.46L153.56 260.98L153.67 260.48L153.79 259.99L153.91 259.48L154.03 258.98L154.15 258.47L154.27 257.95L154.39 257.43L154.52 256.90L154.65 256.37L154.78 255.84L154.92 255.30L155.06 254.76L155.20 254.21L155.34 253.66L155.49 253.10L155.64 252.54L155.79 251.98L155.95 251.41L156.11 250.84L156.28 250.26L156.45 249.68L156.63 249.10L156.80 248.51L156.99 247.92L157.17 247.33L157.37 246.74L157.56 246.14L157.77 245.53L157.98 244.93L158.19 244.32L158.41 243.71L158.63 243.10L158.86 242.48L159.09 241.87L159.33 241.25L159.58 240.62L159.83 240.00L160.09 239.38L160.36 238.75L160.63 238.12L160.91 237.49L161.19 236.86L161.48 236.23L161.78 235.60L162.08 234.96L162.39 234.33L162.71 233.70L163.04 233.06L163.37 232.43L163.71 231.80L164.05 231.16L164.40 230.53L164.77 229.90L165.13 229.27L165.51 228.64L165.89 228.01L166.28 227.38L166.68 226.75L167.08 226.13L167.49 225.51L167.91 224.89L168.34 224.27L168.77 223.66L169.22 223.04L169.67 222.43L170.12 221.83L170.59 221.22L171.06 220.62L171.54 220.03L172.03 219.43L172.53 218.85L173.03 218.26L173.54 217.68L174.06 217.11L174.58 216.53L175.12 215.97L175.66 215.41L176.20 214.85L176.76 214.30L177.32 213.76L177.89 213.22L178.47 212.69L179.05 212.16L179.64 211.64L180.24 211.13L180.85 210.62L181.46 210.12L182.08 209.62L182.70 209.14L183.33 208.66L183.97 208.19L184.62 207.72L185.27 207.27L185.92 206.82L186.59 206.38L187.26 205.95L187.93 205.52L188.61 205.11L189.30 204.70L189.99 204.30L190.69 203.91L191.39 203.53Z" fill="none" stroke="#ffc77f" stroke-width="4.7" stroke-linejoin="round"/>
</g>
<g id="curvesL">
<path d="M608.40 292.69L608.48 292.88L608.57 293.06L608.65 293.25L608.72 293.44L608.80 293.64L608.87 293.83L608.94 294.03L609.00 294.24L609.06 294.44L609.12 294.65L609.18 294.85L609.23 295.06L609.29 295.28L609.33 295.49L609.38 295.70L609.42 295.92L609.46 296.13L609.49 296.35L609.52 296.57L609.55 296.79L609.58 297.01L609.60 297.23L609.62 297.45L609.64 297.67L609.65 297.89L609.67 298.10L609.67 298.32L609.68 298.54L609.68 298.76L609.68 298.98L609.68 299.19L609.67 299.40L609.66 299.62L609.65 299.83L609.64 300.04L609.62 300.25L609.60 300.45L609.58 300.65L609.56 300.86L609.53 301.05L609.50 301.25L609.47 301.44L609.44 301.63L609.41 301.82L609.37 302.00L609.34 302.18L609.30 302.36L609.26 302.53L609.22 302.70L609.18 302.86L609.14 303.02L609.09 303.18L609.05 303.33L609.00 303.47L608.96 303.61L608.92 303.75L608.87 303.87L608.83 304.00L608.79 304.11L608.75 304.22L608.71 304.32L608.67 304.41L608.64 304.49L608.61 304.56L608.58 304.63L608.56 304.68L608.54 304.72L608.52 304.76L608.51 304.80L608.49 304.82L608.49 304.83L608.51 304.80L608.54 304.75L608.58 304.68L608.64 304.59L608.69 304.50L608.76 304.40L608.83 304.30L608.90 304.19L608.98 304.07L609.06 303.96L609.15 303.84L609.24 303.71L609.34 303.59L609.44 303.46L609.54 303.33L609.65 303.20L609.77 303.06L609.88 302.93L610.00 302.79L610.13 302.66L610.26 302.52L610.39 302.38L610.52 302.24L610.66 302.11L610.80 301.97L610.95 301.83L611.10 301.69L611.25 301.55L611.41 301.42L611.57 301.28L611.73 301.15L611.89 301.01L612.06 300.88L612.23 300.75L612.40 300.62L612.58 300.49L612.75 300.36L612.93 300.24L613.12 300.12L613.30 300.00L613.49 299.88L613.67 299.76L613.86 299.65L614.06 299.54L614.25 299.43L614.44 299.32L614.64 299.22L614.84 299.12L615.04 299.03L615.23 298.93L615.44 298.84L615.64 298.75L615.84 298.67L616.04 298.59L616.24 298.51L616.44 298.44L616.65 298.37L616.85 298.30L617.05 298.24L617.25 298.18L617.46 298.13L617.66 298.08L617.86 298.03L618.06 297.98L618.26 297.94L618.45 297.91L618.65 297.88L618.84 297.85L619.04 297.82L619.23 297.80L619.42 297.79L619.61 297.78L619.80 297.77L619.98 297.76L620.16 297.76L620.34 297.77L620.52 297.77L620.70 297.79L620.87 297.80L621.04 297.82L621.20 297.84L621.37 297.87L621.53 297.90L621.69 297.94L621.84 297.97L621.99 298.02L622.14 298.06L622.28 298.11L622.42 298.16L622.55 298.22L622.69 298.28L622.81 298.34L622.94 298.41L623.06 298.47L623.17 298.55L623.28 298.62L623.39 298.70L623.49 298.78L623.59 298.86L623.68 298.95L623.77 299.04L623.85 299.13L623.93 299.23L624.00 299.32L624.07 299.42L624.13 299.52L624.19 299.62L624.24 299.73L624.29 299.84L624.33 299.95L624.37 300.06L624.40 300.17L624.43 300.28L624.45 300.40L624.47 300.51L624.48 300.63L624.49 300.75L624.49 300.87L624.48 300.99L624.47 301.11L624.46 301.23L624.44 301.36L624.41 301.48L624.38 301.60L624.35 301.73L624.31 301.85L624.26 301.97L624.21 302.10L624.15 302.22L624.09 302.35L624.02 302.47L623.95 302.59L623.88 302.71L623.80 302.84L623.71 302.96L623.62 303.08L623.53 303.20L623.43 303.31L623.32 303.43L623.22 303.55L623.10 303.66L622.99 303.78L622.87 303.89L622.74 304.00L622.61 304.11L622.48 304.21L622.35 304.32L622.21 304.42L622.07 304.52L621.92 304.62L621.77 304.72L621.62 304.82L621.46 304.91L621.31 305.00L621.15 305.09L620.98 305.18L620.82 305.26L620.65 305.34L620.48 305.42L620.31 305.50L620.14 305.57L619.97 305.65L619.79 305.72L619.61 305.78L619.44 305.85L619.26 305.91L619.08 305.97L618.90 306.03L618.72 306.08L618.54 306.14L618.36 306.19L618.18 306.24L618.00 306.28L617.82 306.32L617.64 306.37L617.47 306.40L617.29 306.44L617.12 306.47L616.95 306.51L616.78 306.54L616.61 306.57L616.45 306.59L616.29 306.62L616.13 306.64L615.97 306.66L615.82 306.69L615.67 306.71L615.52 306.72L615.38 306.74L615.25 306.76L615.11 306.77L614.99 306.79L614.86 306.80L614.74 306.82L614.63 306.83L614.52 306.85L614.42 306.86L614.32 306.88L614.23 306.89L614.14 306.91L614.06 306.93L613.98 306.94L613.91 306.96L613.85 306.98L613.79 307.00L613.73 307.02L613.68 307.05L613.63 307.07L613.59 307.10L613.55 307.12L613.52 307.15L613.48 307.18L613.46 307.21L613.43 307.24L613.41 307.27L613.39 307.30L613.37 307.34L613.35 307.37L613.33 307.41L613.32 307.44L613.30 307.48L613.29 307.51L613.27 307.55L613.25 307.58L613.24 307.62L613.22 307.65L613.21 307.69L613.19 307.72L613.18 307.76L613.17 307.80L613.16 307.84L613.15 307.88L613.15 307.92L613.15 307.97L613.15 308.02L613.16 308.07L613.16 308.12L613.18 308.17L613.19 308.23L613.21 308.29L613.23 308.36L613.26 308.43L613.29 308.50L613.32 308.58L613.36 308.66L613.40 308.74L613.44 308.83L613.49 308.92L613.54 309.02L613.59 309.12L613.65 309.22L613.71 309.33L613.77 309.44L613.83 309.56L613.90 309.68L613.97 309.80L614.03 309.93L614.10 310.06L614.17 310.20L614.25 310.34L614.32 310.48L614.39 310.63L614.46 310.78L614.54 310.93L614.61 311.08L614.68 311.24L614.76 311.40L614.83 311.56L614.90 311.73L614.97 311.90L615.03 312.07L615.10 312.24L615.17 312.41L615.23 312.59L615.29 312.76L615.35 312.94L615.41 313.12L615.46 313.30L615.52 313.48L615.57 313.67L615.62 313.85L615.66 314.03L615.70 314.22L615.74 314.40L615.78 314.58L615.81 314.77L615.85 314.95L615.87 315.14L615.90 315.32L615.92 315.50L615.94 315.68L615.95 315.87L615.96 316.05L615.97 316.22L615.98 316.40L615.98 316.58L615.97 316.75L615.97 316.92L615.96 317.09L615.94 317.26L615.93 317.43L615.91 317.59L615.88 317.76L615.86 317.92L615.83 318.07L615.79 318.23L615.75 318.38L615.71 318.52L615.67 318.67L615.62 318.81L615.57 318.95L615.51 319.08L615.46 319.21L615.40 319.34L615.33 319.47L615.26 319.59L615.19 319.70L615.12 319.81L615.04 319.92L614.96 320.02L614.88 320.12L614.80 320.22L614.71 320.31L614.62 320.39L614.53 320.47L614.43 320.55L614.33 320.62L614.23 320.69L614.13 320.75L614.03 320.81L613.92 320.86L613.81 320.90L613.70 320.94L613.59 320.98L613.48 321.01L613.36 321.04L613.25 321.06L613.13 321.07L613.01 321.08L612.89 321.09L612.77 321.09L612.65 321.08L612.53 321.07L612.40 321.05L612.28 321.03L612.15 321.00L612.03 320.97L611.90 320.93L611.78 320.89L611.65 320.84L611.53 320.78L611.40 320.72L611.27 320.66L611.15 320.59L611.02 320.51L610.90 320.43L610.78 320.35L610.65 320.26L610.53 320.16L610.41 320.06L610.29 319.96L610.17 319.85L610.05 319.73L609.94 319.61L609.82 319.49L609.71 319.36L609.59 319.22L609.48 319.09L609.38 318.94L609.27 318.80L609.16 318.65L609.06 318.49L608.96 318.33L608.86 318.17L608.76 318.01L608.67 317.84L608.58 317.66L608.49 317.49L608.40 317.31L608.32 317.12L608.23 316.94L608.15 316.75L608.08 316.56L608.00 316.36L607.93 316.17L607.86 315.97L607.80 315.76L607.74 315.56L607.68 315.35L607.62 315.15L607.57 314.94L607.51 314.72L607.47 314.51L607.42 314.30L607.38 314.08L607.34 313.87L607.31 313.65L607.28 313.43L607.25 313.21L607.22 312.99L607.20 312.77L607.18 312.55L607.16 312.33L607.15 312.11L607.13 311.90L607.13 311.68L607.12 311.46L607.12 311.24L607.12 311.02L607.12 310.81L607.13 310.60L607.14 310.38L607.15 310.17L607.16 309.96L607.18 309.75L607.20 309.55L607.22 309.35L607.24 309.14L607.27 308.95L607.30 308.75L607.33 308.56L607.36 308.37L607.39 308.18L607.43 308.00L607.46 307.82L607.50 307.64L607.54 307.47L607.58 307.30L607.62 307.14L607.66 306.98L607.71 306.82L607.75 306.67L607.80 306.53L607.84 306.39L607.88 306.25L607.93 306.13L607.97 306.00L608.01 305.89L608.05 305.78L608.09 305.68L608.13 305.59L608.16 305.51L608.19 305.44L608.22 305.37L608.24 305.32L608.26 305.28L608.28 305.24L608.29 305.20L608.31 305.18L608.31 305.17L608.29 305.20L608.26 305.25L608.22 305.32L608.16 305.41L608.11 305.50L608.04 305.60L607.97 305.70L607.90 305.81L607.82 305.93L607.74 306.04L607.65 306.16L607.56 306.29L607.46 306.41L607.36 306.54L607.26 306.67L607.15 306.80L607.03 306.94L606.92 307.07L606.80 307.21L606.67 307.34L606.54 307.48L606.41 307.62L606.28 307.76L606.14 307.89L606.00 308.03L605.85 308.17L605.70 308.31L605.55 308.45L605.39 308.58L605.23 308.72L605.07 308.85L604.91 308.99L604.74 309.12L604.57 309.25L604.40 309.38L604.22 309.51L604.05 309.64L603.87 309.76L603.68 309.88L603.50 310.00L603.31 310.12L603.13 310.24L602.94 310.35L602.74 310.46L602.55 310.57L602.36 310.68L602.16 310.78L601.96 310.88L601.76 310.97L601.57 311.07L601.36 311.16L601.16 311.25L600.96 311.33L600.76 311.41L600.56 311.49L600.36 311.56L600.15 311.63L599.95 311.70L599.75 311.76L599.55 311.82L599.34 311.87L599.14 311.92L598.94 311.97L598.74 312.02L598.54 312.06L598.35 312.09L598.15 312.12L597.96 312.15L597.76 312.18L597.57 312.20L597.38 312.21L597.19 312.22L597.00 312.23L596.82 312.24L596.64 312.24L596.46 312.23L596.28 312.23L596.10 312.21L595.93 312.20L595.76 312.18L595.60 312.16L595.43 312.13L595.27 312.10L595.11 312.06L594.96 312.03L594.81 311.98L594.66 311.94L594.52 311.89L594.38 311.84L594.25 311.78L594.11 311.72L593.99 311.66L593.86 311.59L593.74 311.53L593.63 311.45L593.52 311.38L593.41 311.30L593.31 311.22L593.21 311.14L593.12 311.05L593.03 310.96L592.95 310.87L592.87 310.77L592.80 310.68L592.73 310.58L592.67 310.48L592.61 310.38L592.56 310.27L592.51 310.16L592.47 310.05L592.43 309.94L592.40 309.83L592.37 309.72L592.35 309.60L592.33 309.49L592.32 309.37L592.31 309.25L592.31 309.13L592.32 309.01L592.33 308.89L592.34 308.77L592.36 308.64L592.39 308.52L592.42 308.40L592.45 308.27L592.49 308.15L592.54 308.03L592.59 307.90L592.65 307.78L592.71 307.65L592.78 307.53L592.85 307.41L592.92 307.29L593.00 307.16L593.09 307.04L593.18 306.92L593.27 306.80L593.37 306.69L593.48 306.57L593.58 306.45L593.70 306.34L593.81 306.22L593.93 306.11L594.06 306.00L594.19 305.89L594.32 305.79L594.45 305.68L594.59 305.58L594.73 305.48L594.88 305.38L595.03 305.28L595.18 305.18L595.34 305.09L595.49 305.00L595.65 304.91L595.82 304.82L595.98 304.74L596.15 304.66L596.32 304.58L596.49 304.50L596.66 304.43L596.83 304.35L597.01 304.28L597.19 304.22L597.36 304.15L597.54 304.09L597.72 304.03L597.90 303.97L598.08 303.92L598.26 303.86L598.44 303.81L598.62 303.76L598.80 303.72L598.98 303.68L599.16 303.63L599.33 303.60L599.51 303.56L599.68 303.53L599.85 303.49L600.02 303.46L600.19 303.43L600.35 303.41L600.51 303.38L600.67 303.36L600.83 303.34L600.98 303.31L601.13 303.29L601.28 303.28L601.42 303.26L601.55 303.24L601.69 303.23L601.81 303.21L601.94 303.20L602.06 303.18L602.17 303.17L602.28 303.15L602.38 303.14L602.48 303.12L602.57 303.11L602.66 303.09L602.74 303.07L602.82 303.06L602.89 303.04L602.95 303.02L603.01 303.00L603.07 302.98L603.12 302.95L603.17 302.93L603.21 302.90L603.25 302.88L603.28 302.85L603.32 302.82L603.34 302.79L603.37 302.76L603.39 302.73L603.41 302.70L603.43 302.66L603.45 302.63L603.47 302.59L603.48 302.56L603.50 302.52L603.51 302.49L603.53 302.45L603.55 302.42L603.56 302.38L603.58 302.35L603.59 302.31L603.61 302.28L603.62 302.24L603.63 302.20L603.64 302.16L603.65 302.12L603.65 302.08L603.65 302.03L603.65 301.98L603.64 301.93L603.64 301.88L603.62 301.83L603.61 301.77L603.59 301.71L603.57 301.64L603.54 301.57L603.51 301.50L603.48 301.42L603.44 301.34L603.40 301.26L603.36 301.17L603.31 301.08L603.26 300.98L603.21 300.88L603.15 300.78L603.09 300.67L603.03 300.56L602.97 300.44L602.90 300.32L602.83 300.20L602.77 300.07L602.70 299.94L602.63 299.80L602.55 299.66L602.48 299.52L602.41 299.37L602.34 299.22L602.26 299.07L602.19 298.92L602.12 298.76L602.04 298.60L601.97 298.44L601.90 298.27L601.83 298.10L601.77 297.93L601.70 297.76L601.63 297.59L601.57 297.41L601.51 297.24L601.45 297.06L601.39 296.88L601.34 296.70L601.28 296.52L601.23 296.33L601.18 296.15L601.14 295.97L601.10 295.78L601.06 295.60L601.02 295.42L600.99 295.23L600.95 295.05L600.93 294.86L600.90 294.68L600.88 294.50L600.86 294.32L600.85 294.13L600.84 293.95L600.83 293.78L600.82 293.60L600.82 293.42L600.83 293.25L600.83 293.08L600.84 292.91L600.86 292.74L600.87 292.57L600.89 292.41L600.92 292.24L600.94 292.08L600.97 291.93L601.01 291.77L601.05 291.62L601.09 291.48L601.13 291.33L601.18 291.19L601.23 291.05L601.29 290.92L601.34 290.79L601.40 290.66L601.47 290.53L601.54 290.41L601.61 290.30L601.68 290.19L601.76 290.08L601.84 289.98L601.92 289.88L602.00 289.78L602.09 289.69L602.18 289.61L602.27 289.53L602.37 289.45L602.47 289.38L602.57 289.31L602.67 289.25L602.77 289.19L602.88 289.14L602.99 289.10L603.10 289.06L603.21 289.02L603.32 288.99L603.44 288.96L603.55 288.94L603.67 288.93L603.79 288.92L603.91 288.91L604.03 288.91L604.15 288.92L604.27 288.93L604.40 288.95L604.52 288.97L604.65 289.00L604.77 289.03L604.90 289.07L605.02 289.11L605.15 289.16L605.27 289.22L605.40 289.28L605.53 289.34L605.65 289.41L605.78 289.49L605.90 289.57L606.02 289.65L606.15 289.74L606.27 289.84L606.39 289.94L606.51 290.04L606.63 290.15L606.75 290.27L606.86 290.39L606.98 290.51L607.09 290.64L607.21 290.78L607.32 290.91L607.42 291.06L607.53 291.20L607.64 291.35L607.74 291.51L607.84 291.67L607.94 291.83L608.04 291.99L608.13 292.16L608.22 292.34L608.31 292.51Z" fill="none" stroke="#000000" stroke-width="4.7" stroke-linejoin="round"/>
<path d="M608.40 278.71L608.58 278.97L608.76 279.25L608.93 279.52L609.10 279.81L609.27 280.10L609.43 280.39L609.59 280.70L609.74 281.00L609.89 281.31L610.03 281.63L610.17 281.95L610.31 282.28L610.44 282.61L610.56 282.94L610.68 283.28L610.80 283.63L610.91 283.98L611.01 284.33L611.11 284.69L611.20 285.05L611.29 285.41L611.37 285.78L611.45 286.16L611.52 286.53L611.59 286.91L611.65 287.29L611.70 287.68L611.75 288.07L611.80 288.46L611.83 288.85L611.86 289.25L611.89 289.64L611.91 290.04L611.92 290.45L611.93 290.85L611.93 291.26L611.92 291.66L611.91 292.07L611.89 292.48L611.87 292.90L611.84 293.31L611.81 293.72L611.76 294.14L611.71 294.55L611.66 294.96L611.60 295.38L611.53 295.79L611.46 296.21L611.38 296.62L611.30 297.04L611.21 297.45L611.11 297.86L611.01 298.27L610.90 298.68L610.79 299.09L610.67 299.49L610.55 299.89L610.42 300.29L610.29 300.68L610.15 301.07L610.01 301.45L609.87 301.82L609.72 302.19L609.58 302.53L609.44 302.86L609.32 303.16L609.21 303.40L609.13 303.58L609.10 303.67L609.12 303.64L609.20 303.51L609.33 303.31L609.49 303.05L609.67 302.76L609.87 302.45L610.08 302.13L610.30 301.81L610.53 301.48L610.77 301.15L611.02 300.82L611.27 300.48L611.52 300.16L611.78 299.83L612.05 299.51L612.32 299.19L612.60 298.87L612.88 298.56L613.16 298.25L613.45 297.94L613.74 297.64L614.04 297.35L614.34 297.06L614.64 296.77L614.95 296.49L615.26 296.22L615.57 295.95L615.89 295.69L616.21 295.43L616.53 295.18L616.85 294.93L617.18 294.69L617.50 294.45L617.83 294.22L618.17 294.00L618.50 293.78L618.84 293.57L619.17 293.37L619.51 293.17L619.85 292.98L620.19 292.79L620.53 292.61L620.88 292.44L621.22 292.27L621.56 292.11L621.91 291.96L622.25 291.81L622.60 291.67L622.94 291.53L623.29 291.41L623.63 291.29L623.97 291.17L624.32 291.07L624.66 290.97L625.00 290.87L625.34 290.78L625.68 290.70L626.02 290.63L626.36 290.56L626.69 290.50L627.03 290.45L627.36 290.40L627.69 290.36L628.02 290.32L628.34 290.30L628.67 290.28L628.99 290.26L629.31 290.25L629.62 290.25L629.94 290.25L630.25 290.27L630.55 290.28L630.86 290.31L631.16 290.33L631.45 290.37L631.75 290.41L632.04 290.46L632.32 290.51L632.60 290.57L632.88 290.64L633.15 290.71L633.42 290.78L633.69 290.87L633.95 290.95L634.21 291.05L634.46 291.15L634.70 291.25L634.94 291.36L635.18 291.47L635.41 291.59L635.64 291.72L635.86 291.84L636.07 291.98L636.28 292.12L636.49 292.26L636.69 292.41L636.88 292.56L637.07 292.71L637.25 292.87L637.42 293.04L637.59 293.20L637.76 293.38L637.91 293.55L638.07 293.73L638.21 293.91L638.35 294.10L638.48 294.29L638.61 294.48L638.73 294.68L638.84 294.87L638.95 295.07L639.05 295.28L639.14 295.48L639.23 295.69L639.31 295.90L639.38 296.12L639.45 296.33L639.51 296.55L639.56 296.77L639.61 296.99L639.65 297.21L639.68 297.43L639.71 297.66L639.73 297.88L639.74 298.11L639.75 298.34L639.74 298.57L639.74 298.80L639.72 299.02L639.70 299.25L639.67 299.49L639.64 299.72L639.60 299.95L639.55 300.18L639.50 300.41L639.44 300.64L639.37 300.87L639.30 301.10L639.22 301.32L639.14 301.55L639.04 301.78L638.95 302.01L638.84 302.23L638.73 302.45L638.62 302.68L638.49 302.90L638.37 303.11L638.23 303.33L638.09 303.55L637.95 303.76L637.80 303.97L637.64 304.18L637.48 304.39L637.32 304.60L637.15 304.80L636.97 305.00L636.79 305.20L636.61 305.39L636.42 305.59L636.23 305.78L636.03 305.96L635.83 306.15L635.62 306.33L635.41 306.51L635.20 306.69L634.98 306.86L634.76 307.03L634.54 307.19L634.31 307.36L634.08 307.52L633.85 307.67L633.61 307.83L633.38 307.98L633.14 308.13L632.90 308.27L632.66 308.41L632.41 308.55L632.17 308.68L631.92 308.81L631.67 308.94L631.42 309.06L631.18 309.18L630.93 309.30L630.68 309.41L630.43 309.52L630.18 309.63L629.93 309.73L629.69 309.84L629.44 309.94L629.20 310.03L628.96 310.13L628.72 310.22L628.48 310.31L628.25 310.39L628.01 310.48L627.78 310.56L627.56 310.64L627.34 310.72L627.12 310.79L626.91 310.87L626.70 310.94L626.49 311.02L626.29 311.09L626.10 311.16L625.91 311.23L625.73 311.31L625.55 311.38L625.38 311.45L625.21 311.52L625.06 311.59L624.90 311.67L624.76 311.74L624.62 311.82L624.50 311.90L624.37 311.98L624.26 312.06L624.15 312.15L624.06 312.23L623.97 312.32L623.88 312.42L623.81 312.52L623.74 312.62L623.68 312.72L623.63 312.83L623.59 312.94L623.55 313.06L623.53 313.18L623.50 313.30L623.49 313.43L623.48 313.57L623.48 313.71L623.49 313.85L623.50 314.00L623.52 314.16L623.54 314.32L623.57 314.48L623.61 314.65L623.65 314.83L623.69 315.01L623.74 315.19L623.79 315.38L623.85 315.58L623.90 315.78L623.96 315.98L624.03 316.19L624.09 316.40L624.16 316.62L624.23 316.84L624.30 317.07L624.37 317.30L624.44 317.54L624.52 317.77L624.59 318.02L624.66 318.26L624.73 318.51L624.80 318.77L624.88 319.02L624.94 319.28L625.01 319.54L625.08 319.81L625.14 320.08L625.20 320.34L625.26 320.62L625.32 320.89L625.38 321.17L625.43 321.45L625.48 321.72L625.53 322.01L625.57 322.29L625.61 322.57L625.64 322.86L625.68 323.14L625.70 323.43L625.73 323.71L625.75 324.00L625.77 324.29L625.78 324.57L625.79 324.86L625.79 325.15L625.79 325.43L625.78 325.72L625.78 326.00L625.76 326.29L625.74 326.57L625.72 326.85L625.69 327.13L625.66 327.41L625.62 327.68L625.58 327.96L625.53 328.23L625.48 328.50L625.42 328.77L625.36 329.04L625.29 329.30L625.22 329.56L625.14 329.82L625.06 330.07L624.97 330.32L624.88 330.57L624.78 330.82L624.68 331.06L624.58 331.29L624.47 331.53L624.35 331.76L624.23 331.98L624.11 332.20L623.98 332.42L623.84 332.63L623.71 332.84L623.56 333.05L623.42 333.24L623.27 333.44L623.11 333.63L622.95 333.81L622.79 333.99L622.62 334.16L622.45 334.33L622.28 334.49L622.10 334.65L621.92 334.80L621.73 334.94L621.54 335.08L621.35 335.22L621.16 335.34L620.96 335.46L620.75 335.58L620.55 335.69L620.34 335.79L620.13 335.89L619.92 335.98L619.70 336.06L619.49 336.13L619.27 336.20L619.04 336.27L618.82 336.32L618.59 336.37L618.37 336.41L618.14 336.45L617.90 336.48L617.67 336.50L617.44 336.51L617.20 336.52L616.96 336.52L616.73 336.51L616.49 336.50L616.25 336.48L616.01 336.45L615.77 336.42L615.53 336.37L615.29 336.32L615.05 336.27L614.80 336.20L614.56 336.13L614.32 336.05L614.08 335.97L613.84 335.87L613.60 335.77L613.37 335.66L613.13 335.55L612.89 335.43L612.66 335.30L612.42 335.16L612.19 335.02L611.96 334.87L611.73 334.71L611.51 334.55L611.28 334.38L611.06 334.20L610.84 334.02L610.62 333.83L610.40 333.63L610.19 333.42L609.98 333.21L609.77 332.99L609.56 332.77L609.36 332.54L609.16 332.30L608.97 332.06L608.77 331.81L608.59 331.56L608.40 331.29L608.22 331.03L608.04 330.75L607.87 330.48L607.70 330.19L607.53 329.90L607.37 329.61L607.21 329.30L607.06 329.00L606.91 328.69L606.77 328.37L606.63 328.05L606.49 327.72L606.36 327.39L606.24 327.06L606.12 326.72L606.00 326.37L605.89 326.02L605.79 325.67L605.69 325.31L605.60 324.95L605.51 324.59L605.43 324.22L605.35 323.84L605.28 323.47L605.21 323.09L605.15 322.71L605.10 322.32L605.05 321.93L605.00 321.54L604.97 321.15L604.94 320.75L604.91 320.36L604.89 319.96L604.88 319.55L604.87 319.15L604.87 318.74L604.88 318.34L604.89 317.93L604.91 317.52L604.93 317.10L604.96 316.69L604.99 316.28L605.04 315.86L605.09 315.45L605.14 315.04L605.20 314.62L605.27 314.21L605.34 313.79L605.42 313.38L605.50 312.96L605.59 312.55L605.69 312.14L605.79 311.73L605.90 311.32L606.01 310.91L606.13 310.51L606.25 310.11L606.38 309.71L606.51 309.32L606.65 308.93L606.79 308.55L606.93 308.18L607.08 307.81L607.22 307.47L607.36 307.14L607.48 306.84L607.59 306.60L607.67 306.42L607.70 306.33L607.68 306.36L607.60 306.49L607.47 306.69L607.31 306.95L607.13 307.24L606.93 307.55L606.72 307.87L606.50 308.19L606.27 308.52L606.03 308.85L605.78 309.18L605.53 309.52L605.28 309.84L605.02 310.17L604.75 310.49L604.48 310.81L604.20 311.13L603.92 311.44L603.64 311.75L603.35 312.06L603.06 312.36L602.76 312.65L602.46 312.94L602.16 313.23L601.85 313.51L601.54 313.78L601.23 314.05L600.91 314.31L600.59 314.57L600.27 314.82L599.95 315.07L599.62 315.31L599.30 315.55L598.97 315.78L598.63 316.00L598.30 316.22L597.96 316.43L597.63 316.63L597.29 316.83L596.95 317.02L596.61 317.21L596.27 317.39L595.92 317.56L595.58 317.73L595.24 317.89L594.89 318.04L594.55 318.19L594.20 318.33L593.86 318.47L593.51 318.59L593.17 318.71L592.83 318.83L592.48 318.93L592.14 319.03L591.80 319.13L591.46 319.22L591.12 319.30L590.78 319.37L590.44 319.44L590.11 319.50L589.77 319.55L589.44 319.60L589.11 319.64L588.78 319.68L588.46 319.70L588.13 319.72L587.81 319.74L587.49 319.75L587.18 319.75L586.86 319.75L586.55 319.73L586.25 319.72L585.94 319.69L585.64 319.67L585.35 319.63L585.05 319.59L584.76 319.54L584.48 319.49L584.20 319.43L583.92 319.36L583.65 319.29L583.38 319.22L583.11 319.13L582.85 319.05L582.59 318.95L582.34 318.85L582.10 318.75L581.86 318.64L581.62 318.53L581.39 318.41L581.16 318.28L580.94 318.16L580.73 318.02L580.52 317.88L580.31 317.74L580.11 317.59L579.92 317.44L579.73 317.29L579.55 317.13L579.38 316.96L579.21 316.80L579.04 316.62L578.89 316.45L578.73 316.27L578.59 316.09L578.45 315.90L578.32 315.71L578.19 315.52L578.07 315.32L577.96 315.13L577.85 314.93L577.75 314.72L577.66 314.52L577.57 314.31L577.49 314.10L577.42 313.88L577.35 313.67L577.29 313.45L577.24 313.23L577.19 313.01L577.15 312.79L577.12 312.57L577.09 312.34L577.07 312.12L577.06 311.89L577.05 311.66L577.06 311.43L577.06 311.20L577.08 310.98L577.10 310.75L577.13 310.51L577.16 310.28L577.20 310.05L577.25 309.82L577.30 309.59L577.36 309.36L577.43 309.13L577.50 308.90L577.58 308.68L577.66 308.45L577.76 308.22L577.85 307.99L577.96 307.77L578.07 307.55L578.18 307.32L578.31 307.10L578.43 306.89L578.57 306.67L578.71 306.45L578.85 306.24L579.00 306.03L579.16 305.82L579.32 305.61L579.48 305.40L579.65 305.20L579.83 305.00L580.01 304.80L580.19 304.61L580.38 304.41L580.57 304.22L580.77 304.04L580.97 303.85L581.18 303.67L581.39 303.49L581.60 303.31L581.82 303.14L582.04 302.97L582.26 302.81L582.49 302.64L582.72 302.48L582.95 302.33L583.19 302.17L583.42 302.02L583.66 301.87L583.90 301.73L584.14 301.59L584.39 301.45L584.63 301.32L584.88 301.19L585.13 301.06L585.38 300.94L585.62 300.82L585.87 300.70L586.12 300.59L586.37 300.48L586.62 300.37L586.87 300.27L587.11 300.16L587.36 300.06L587.60 299.97L587.84 299.87L588.08 299.78L588.32 299.69L588.55 299.61L588.79 299.52L589.02 299.44L589.24 299.36L589.46 299.28L589.68 299.21L589.89 299.13L590.10 299.06L590.31 298.98L590.51 298.91L590.70 298.84L590.89 298.77L591.07 298.69L591.25 298.62L591.42 298.55L591.59 298.48L591.74 298.41L591.90 298.33L592.04 298.26L592.18 298.18L592.30 298.10L592.43 298.02L592.54 297.94L592.65 297.85L592.74 297.77L592.83 297.68L592.92 297.58L592.99 297.48L593.06 297.38L593.12 297.28L593.17 297.17L593.21 297.06L593.25 296.94L593.27 296.82L593.30 296.70L593.31 296.57L593.32 296.43L593.32 296.29L593.31 296.15L593.30 296.00L593.28 295.84L593.26 295.68L593.23 295.52L593.19 295.35L593.15 295.17L593.11 294.99L593.06 294.81L593.01 294.62L592.95 294.42L592.90 294.22L592.84 294.02L592.77 293.81L592.71 293.60L592.64 293.38L592.57 293.16L592.50 292.93L592.43 292.70L592.36 292.46L592.28 292.23L592.21 291.98L592.14 291.74L592.07 291.49L592.00 291.23L591.92 290.98L591.86 290.72L591.79 290.46L591.72 290.19L591.66 289.92L591.60 289.66L591.54 289.38L591.48 289.11L591.42 288.83L591.37 288.55L591.32 288.28L591.27 287.99L591.23 287.71L591.19 287.43L591.16 287.14L591.12 286.86L591.10 286.57L591.07 286.29L591.05 286.00L591.03 285.71L591.02 285.43L591.01 285.14L591.01 284.85L591.01 284.57L591.02 284.28L591.02 284.00L591.04 283.71L591.06 283.43L591.08 283.15L591.11 282.87L591.14 282.59L591.18 282.32L591.22 282.04L591.27 281.77L591.32 281.50L591.38 281.23L591.44 280.96L591.51 280.70L591.58 280.44L591.66 280.18L591.74 279.93L591.83 279.68L591.92 279.43L592.02 279.18L592.12 278.94L592.22 278.71L592.33 278.47L592.45 278.24L592.57 278.02L592.69 277.80L592.82 277.58L592.96 277.37L593.09 277.16L593.24 276.95L593.38 276.76L593.53 276.56L593.69 276.37L593.85 276.19L594.01 276.01L594.18 275.84L594.35 275.67L594.52 275.51L594.70 275.35L594.88 275.20L595.07 275.06L595.26 274.92L595.45 274.78L595.64 274.66L595.84 274.54L596.05 274.42L596.25 274.31L596.46 274.21L596.67 274.11L596.88 274.02L597.10 273.94L597.31 273.87L597.53 273.80L597.76 273.73L597.98 273.68L598.21 273.63L598.43 273.59L598.66 273.55L598.90 273.52L599.13 273.50L599.36 273.49L599.60 273.48L599.84 273.48L600.07 273.49L600.31 273.50L600.55 273.52L600.79 273.55L601.03 273.58L601.27 273.63L601.51 273.68L601.75 273.73L602.00 273.80L602.24 273.87L602.48 273.95L602.72 274.03L602.96 274.13L603.20 274.23L603.43 274.34L603.67 274.45L603.91 274.57L604.14 274.70L604.38 274.84L604.61 274.98L604.84 275.13L605.07 275.29L605.29 275.45L605.52 275.62L605.74 275.80L605.96 275.98L606.18 276.17L606.40 276.37L606.61 276.58L606.82 276.79L607.03 277.01L607.24 277.23L607.44 277.46L607.64 277.70L607.83 277.94L608.03 278.19L608.21 278.44Z" fill="none" stroke="#402819" stroke-width="4.7" stroke-linejoin="round"/>
<path d="M608.40 266.84L608.66 267.27L608.92 267.71L609.17 268.15L609.42 268.60L609.65 269.06L609.89 269.53L610.11 270.00L610.33 270.48L610.54 270.97L610.74 271.47L610.94 271.97L611.13 272.48L611.31 272.99L611.49 273.51L611.65 274.04L611.81 274.57L611.96 275.11L612.11 275.65L612.24 276.20L612.37 276.75L612.49 277.31L612.60 277.87L612.70 278.44L612.80 279.01L612.88 279.58L612.96 280.16L613.03 280.75L613.09 281.33L613.14 281.92L613.18 282.51L613.21 283.11L613.24 283.71L613.25 284.31L613.26 284.91L613.26 285.51L613.25 286.12L613.23 286.73L613.20 287.33L613.16 287.94L613.12 288.55L613.06 289.16L613.00 289.77L612.93 290.38L612.84 290.99L612.76 291.60L612.66 292.20L612.55 292.81L612.44 293.41L612.31 294.01L612.18 294.61L612.05 295.20L611.90 295.78L611.75 296.37L611.59 296.94L611.43 297.51L611.26 298.07L611.09 298.61L610.91 299.14L610.73 299.66L610.56 300.15L610.39 300.60L610.24 301.02L610.10 301.39L609.98 301.69L609.91 301.91L609.88 302.03L609.90 302.03L609.98 301.93L610.11 301.73L610.29 301.45L610.50 301.11L610.75 300.73L611.01 300.32L611.30 299.89L611.61 299.45L611.93 298.99L612.26 298.53L612.60 298.06L612.96 297.60L613.32 297.13L613.69 296.66L614.07 296.20L614.46 295.74L614.85 295.29L615.26 294.84L615.67 294.39L616.08 293.95L616.50 293.51L616.93 293.09L617.36 292.67L617.80 292.25L618.24 291.84L618.69 291.44L619.14 291.05L619.60 290.66L620.06 290.29L620.53 289.92L621.00 289.55L621.47 289.20L621.95 288.86L622.43 288.52L622.91 288.19L623.39 287.87L623.88 287.56L624.37 287.26L624.87 286.97L625.36 286.68L625.86 286.41L626.35 286.15L626.85 285.89L627.36 285.64L627.86 285.41L628.36 285.18L628.86 284.96L629.37 284.75L629.87 284.55L630.37 284.36L630.88 284.18L631.38 284.01L631.88 283.85L632.39 283.70L632.89 283.56L633.39 283.43L633.89 283.31L634.38 283.20L634.88 283.09L635.37 283.00L635.86 282.92L636.35 282.85L636.84 282.78L637.32 282.73L637.80 282.68L638.28 282.65L638.75 282.62L639.23 282.60L639.69 282.60L640.16 282.60L640.62 282.61L641.07 282.63L641.52 282.66L641.97 282.70L642.41 282.75L642.85 282.80L643.28 282.87L643.70 282.94L644.12 283.02L644.54 283.11L644.95 283.21L645.35 283.32L645.75 283.43L646.14 283.56L646.53 283.69L646.91 283.83L647.28 283.98L647.65 284.13L648.01 284.29L648.36 284.46L648.70 284.64L649.04 284.82L649.37 285.02L649.70 285.21L650.01 285.42L650.32 285.63L650.62 285.85L650.91 286.07L651.20 286.30L651.47 286.54L651.74 286.78L652.00 287.03L652.25 287.28L652.49 287.54L652.73 287.81L652.95 288.08L653.17 288.35L653.38 288.63L653.58 288.91L653.77 289.20L653.95 289.49L654.13 289.79L654.29 290.09L654.45 290.39L654.59 290.70L654.73 291.01L654.86 291.33L654.98 291.64L655.09 291.96L655.19 292.29L655.28 292.61L655.36 292.94L655.44 293.27L655.50 293.61L655.56 293.94L655.60 294.28L655.64 294.61L655.67 294.95L655.69 295.29L655.70 295.63L655.70 295.98L655.69 296.32L655.68 296.66L655.65 297.01L655.62 297.35L655.58 297.70L655.53 298.04L655.47 298.38L655.40 298.73L655.33 299.07L655.25 299.41L655.15 299.76L655.06 300.10L654.95 300.44L654.83 300.77L654.71 301.11L654.58 301.45L654.45 301.78L654.30 302.11L654.15 302.44L653.99 302.77L653.83 303.10L653.66 303.42L653.48 303.74L653.30 304.06L653.11 304.38L652.91 304.69L652.71 305.00L652.50 305.31L652.29 305.61L652.07 305.91L651.85 306.21L651.62 306.51L651.39 306.80L651.16 307.09L650.92 307.38L650.67 307.66L650.42 307.94L650.17 308.21L649.92 308.49L649.66 308.76L649.40 309.02L649.14 309.28L648.88 309.54L648.61 309.79L648.34 310.05L648.08 310.29L647.81 310.54L647.53 310.78L647.26 311.02L646.99 311.25L646.72 311.48L646.45 311.71L646.18 311.93L645.91 312.15L645.64 312.37L645.37 312.59L645.10 312.80L644.84 313.01L644.58 313.22L644.32 313.42L644.06 313.63L643.81 313.83L643.56 314.03L643.31 314.22L643.06 314.42L642.83 314.61L642.59 314.80L642.36 314.99L642.13 315.18L641.91 315.37L641.70 315.56L641.49 315.75L641.28 315.94L641.08 316.13L640.89 316.31L640.70 316.50L640.52 316.69L640.35 316.88L640.18 317.07L640.02 317.26L639.86 317.46L639.72 317.65L639.57 317.85L639.44 318.05L639.31 318.25L639.19 318.45L639.08 318.66L638.97 318.87L638.87 319.08L638.78 319.30L638.70 319.52L638.62 319.74L638.54 319.96L638.48 320.19L638.42 320.43L638.36 320.66L638.31 320.91L638.27 321.15L638.24 321.40L638.20 321.66L638.18 321.92L638.16 322.18L638.14 322.45L638.13 322.72L638.12 323.00L638.12 323.28L638.12 323.57L638.12 323.86L638.13 324.16L638.14 324.46L638.15 324.76L638.16 325.07L638.18 325.39L638.20 325.71L638.22 326.03L638.24 326.36L638.26 326.69L638.28 327.03L638.30 327.37L638.32 327.71L638.35 328.06L638.37 328.41L638.39 328.77L638.41 329.13L638.43 329.49L638.44 329.85L638.46 330.22L638.47 330.59L638.48 330.97L638.49 331.34L638.49 331.72L638.50 332.10L638.50 332.48L638.49 332.86L638.48 333.25L638.47 333.64L638.46 334.02L638.44 334.41L638.41 334.80L638.38 335.19L638.35 335.58L638.31 335.97L638.27 336.37L638.22 336.76L638.17 337.15L638.11 337.54L638.05 337.93L637.98 338.31L637.90 338.70L637.82 339.09L637.74 339.47L637.64 339.85L637.55 340.23L637.44 340.61L637.33 340.98L637.22 341.36L637.09 341.73L636.97 342.09L636.83 342.46L636.69 342.82L636.54 343.17L636.39 343.53L636.23 343.88L636.07 344.22L635.90 344.56L635.72 344.90L635.53 345.23L635.34 345.55L635.15 345.87L634.94 346.19L634.74 346.50L634.52 346.80L634.30 347.10L634.08 347.40L633.84 347.68L633.61 347.96L633.36 348.24L633.11 348.50L632.86 348.76L632.60 349.02L632.33 349.26L632.06 349.50L631.79 349.73L631.50 349.96L631.22 350.17L630.93 350.38L630.63 350.58L630.33 350.77L630.03 350.96L629.72 351.13L629.40 351.30L629.08 351.46L628.76 351.61L628.44 351.75L628.11 351.88L627.77 352.00L627.44 352.12L627.10 352.22L626.75 352.32L626.41 352.40L626.06 352.48L625.71 352.55L625.35 352.60L624.99 352.65L624.63 352.69L624.27 352.72L623.91 352.73L623.54 352.74L623.18 352.74L622.81 352.73L622.44 352.71L622.07 352.67L621.70 352.63L621.33 352.58L620.95 352.51L620.58 352.44L620.21 352.36L619.83 352.26L619.46 352.16L619.09 352.05L618.72 351.92L618.34 351.79L617.97 351.64L617.60 351.49L617.24 351.32L616.87 351.14L616.50 350.96L616.14 350.76L615.78 350.56L615.42 350.34L615.06 350.11L614.71 349.88L614.35 349.63L614.01 349.37L613.66 349.11L613.32 348.83L612.98 348.55L612.64 348.25L612.31 347.95L611.98 347.63L611.66 347.31L611.34 346.98L611.02 346.63L610.71 346.28L610.40 345.92L610.10 345.55L609.80 345.17L609.51 344.79L609.23 344.39L608.94 343.99L608.67 343.58L608.40 343.16L608.14 342.73L607.88 342.29L607.63 341.85L607.38 341.40L607.15 340.94L606.91 340.47L606.69 340.00L606.47 339.52L606.26 339.03L606.06 338.53L605.86 338.03L605.67 337.52L605.49 337.01L605.31 336.49L605.15 335.96L604.99 335.43L604.84 334.89L604.69 334.35L604.56 333.80L604.43 333.25L604.31 332.69L604.20 332.13L604.10 331.56L604.00 330.99L603.92 330.42L603.84 329.84L603.77 329.25L603.71 328.67L603.66 328.08L603.62 327.49L603.59 326.89L603.56 326.29L603.55 325.69L603.54 325.09L603.54 324.49L603.55 323.88L603.57 323.27L603.60 322.67L603.64 322.06L603.68 321.45L603.74 320.84L603.80 320.23L603.87 319.62L603.96 319.01L604.04 318.40L604.14 317.80L604.25 317.19L604.36 316.59L604.49 315.99L604.62 315.39L604.75 314.80L604.90 314.22L605.05 313.63L605.21 313.06L605.37 312.49L605.54 311.93L605.71 311.39L605.89 310.86L606.07 310.34L606.24 309.85L606.41 309.40L606.56 308.98L606.70 308.61L606.82 308.31L606.89 308.09L606.92 307.97L606.90 307.97L606.82 308.07L606.69 308.27L606.51 308.55L606.30 308.89L606.05 309.27L605.79 309.68L605.50 310.11L605.19 310.55L604.87 311.01L604.54 311.47L604.20 311.94L603.84 312.40L603.48 312.87L603.11 313.34L602.73 313.80L602.34 314.26L601.95 314.71L601.54 315.16L601.13 315.61L600.72 316.05L600.30 316.49L599.87 316.91L599.44 317.33L599.00 317.75L598.56 318.16L598.11 318.56L597.66 318.95L597.20 319.34L596.74 319.71L596.27 320.08L595.80 320.45L595.33 320.80L594.85 321.14L594.37 321.48L593.89 321.81L593.41 322.13L592.92 322.44L592.43 322.74L591.93 323.03L591.44 323.32L590.94 323.59L590.45 323.85L589.95 324.11L589.44 324.36L588.94 324.59L588.44 324.82L587.94 325.04L587.43 325.25L586.93 325.45L586.43 325.64L585.92 325.82L585.42 325.99L584.92 326.15L584.41 326.30L583.91 326.44L583.41 326.57L582.91 326.69L582.42 326.80L581.92 326.91L581.43 327.00L580.94 327.08L580.45 327.15L579.96 327.22L579.48 327.27L579.00 327.32L578.52 327.35L578.05 327.38L577.57 327.40L577.11 327.40L576.64 327.40L576.18 327.39L575.73 327.37L575.28 327.34L574.83 327.30L574.39 327.25L573.95 327.20L573.52 327.13L573.10 327.06L572.68 326.98L572.26 326.89L571.85 326.79L571.45 326.68L571.05 326.57L570.66 326.44L570.27 326.31L569.89 326.17L569.52 326.02L569.15 325.87L568.79 325.71L568.44 325.54L568.10 325.36L567.76 325.18L567.43 324.98L567.10 324.79L566.79 324.58L566.48 324.37L566.18 324.15L565.89 323.93L565.60 323.70L565.33 323.46L565.06 323.22L564.80 322.97L564.55 322.72L564.31 322.46L564.07 322.19L563.85 321.92L563.63 321.65L563.42 321.37L563.22 321.09L563.03 320.80L562.85 320.51L562.67 320.21L562.51 319.91L562.35 319.61L562.21 319.30L562.07 318.99L561.94 318.67L561.82 318.36L561.71 318.04L561.61 317.71L561.52 317.39L561.44 317.06L561.36 316.73L561.30 316.39L561.24 316.06L561.20 315.72L561.16 315.39L561.13 315.05L561.11 314.71L561.10 314.37L561.10 314.02L561.11 313.68L561.12 313.34L561.15 312.99L561.18 312.65L561.22 312.30L561.27 311.96L561.33 311.62L561.40 311.27L561.47 310.93L561.55 310.59L561.65 310.24L561.74 309.90L561.85 309.56L561.97 309.23L562.09 308.89L562.22 308.55L562.35 308.22L562.50 307.89L562.65 307.56L562.81 307.23L562.97 306.90L563.14 306.58L563.32 306.26L563.50 305.94L563.69 305.62L563.89 305.31L564.09 305.00L564.30 304.69L564.51 304.39L564.73 304.09L564.95 303.79L565.18 303.49L565.41 303.20L565.64 302.91L565.88 302.62L566.13 302.34L566.38 302.06L566.63 301.79L566.88 301.51L567.14 301.24L567.40 300.98L567.66 300.72L567.92 300.46L568.19 300.21L568.46 299.95L568.72 299.71L568.99 299.46L569.27 299.22L569.54 298.98L569.81 298.75L570.08 298.52L570.35 298.29L570.62 298.07L570.89 297.85L571.16 297.63L571.43 297.41L571.70 297.20L571.96 296.99L572.22 296.78L572.48 296.58L572.74 296.37L572.99 296.17L573.24 295.97L573.49 295.78L573.74 295.58L573.97 295.39L574.21 295.20L574.44 295.01L574.67 294.82L574.89 294.63L575.10 294.44L575.31 294.25L575.52 294.06L575.72 293.87L575.91 293.69L576.10 293.50L576.28 293.31L576.45 293.12L576.62 292.93L576.78 292.74L576.94 292.54L577.08 292.35L577.23 292.15L577.36 291.95L577.49 291.75L577.61 291.55L577.72 291.34L577.83 291.13L577.93 290.92L578.02 290.70L578.10 290.48L578.18 290.26L578.26 290.04L578.32 289.81L578.38 289.57L578.44 289.34L578.49 289.09L578.53 288.85L578.56 288.60L578.60 288.34L578.62 288.08L578.64 287.82L578.66 287.55L578.67 287.28L578.68 287.00L578.68 286.72L578.68 286.43L578.68 286.14L578.67 285.84L578.66 285.54L578.65 285.24L578.64 284.93L578.62 284.61L578.60 284.29L578.58 283.97L578.56 283.64L578.54 283.31L578.52 282.97L578.50 282.63L578.48 282.29L578.45 281.94L578.43 281.59L578.41 281.23L578.39 280.87L578.37 280.51L578.36 280.15L578.34 279.78L578.33 279.41L578.32 279.03L578.31 278.66L578.31 278.28L578.30 277.90L578.30 277.52L578.31 277.14L578.32 276.75L578.33 276.36L578.34 275.98L578.36 275.59L578.39 275.20L578.42 274.81L578.45 274.42L578.49 274.03L578.53 273.63L578.58 273.24L578.63 272.85L578.69 272.46L578.75 272.07L578.82 271.69L578.90 271.30L578.98 270.91L579.06 270.53L579.16 270.15L579.25 269.77L579.36 269.39L579.47 269.02L579.58 268.64L579.71 268.27L579.83 267.91L579.97 267.54L580.11 267.18L580.26 266.83L580.41 266.47L580.57 266.12L580.73 265.78L580.90 265.44L581.08 265.10L581.27 264.77L581.46 264.45L581.65 264.13L581.86 263.81L582.06 263.50L582.28 263.20L582.50 262.90L582.72 262.60L582.96 262.32L583.19 262.04L583.44 261.76L583.69 261.50L583.94 261.24L584.20 260.98L584.47 260.74L584.74 260.50L585.01 260.27L585.30 260.04L585.58 259.83L585.87 259.62L586.17 259.42L586.47 259.23L586.77 259.04L587.08 258.87L587.40 258.70L587.72 258.54L588.04 258.39L588.36 258.25L588.69 258.12L589.03 258.00L589.36 257.88L589.70 257.78L590.05 257.68L590.39 257.60L590.74 257.52L591.09 257.45L591.45 257.40L591.81 257.35L592.17 257.31L592.53 257.28L592.89 257.27L593.26 257.26L593.62 257.26L593.99 257.27L594.36 257.29L594.73 257.33L595.10 257.37L595.47 257.42L595.85 257.49L596.22 257.56L596.59 257.64L596.97 257.74L597.34 257.84L597.71 257.95L598.08 258.08L598.46 258.21L598.83 258.36L599.20 258.51L599.56 258.68L599.93 258.86L600.30 259.04L600.66 259.24L601.02 259.44L601.38 259.66L601.74 259.89L602.09 260.12L602.45 260.37L602.79 260.63L603.14 260.89L603.48 261.17L603.82 261.45L604.16 261.75L604.49 262.05L604.82 262.37L605.14 262.69L605.46 263.02L605.78 263.37L606.09 263.72L606.40 264.08L606.70 264.45L607.00 264.83L607.29 265.21L607.57 265.61L607.86 266.01L608.13 266.42Z" fill="none" stroke="#805033" stroke-width="4.7" stroke-linejoin="round"/>
<path d="M608.40 260.47L608.71 260.97L609.01 261.48L609.30 262.00L609.59 262.52L609.86 263.06L610.14 263.60L610.40 264.16L610.65 264.72L610.90 265.29L611.14 265.87L611.37 266.45L611.59 267.04L611.80 267.64L612.00 268.25L612.20 268.86L612.38 269.48L612.56 270.11L612.73 270.75L612.89 271.38L613.03 272.03L613.17 272.68L613.30 273.34L613.42 274.00L613.53 274.67L613.63 275.34L613.72 276.01L613.80 276.69L613.87 277.38L613.93 278.07L613.98 278.76L614.02 279.45L614.05 280.15L614.06 280.85L614.07 281.55L614.07 282.26L614.06 282.96L614.04 283.67L614.00 284.38L613.96 285.09L613.90 285.80L613.84 286.52L613.77 287.23L613.68 287.94L613.59 288.65L613.48 289.36L613.37 290.07L613.24 290.77L613.11 291.47L612.97 292.17L612.82 292.87L612.65 293.56L612.49 294.25L612.31 294.92L612.12 295.60L611.93 296.26L611.74 296.91L611.53 297.55L611.33 298.16L611.12 298.76L610.92 299.33L610.73 299.87L610.54 300.36L610.38 300.79L610.25 301.14L610.16 301.40L610.12 301.53L610.15 301.54L610.24 301.41L610.40 301.18L610.60 300.86L610.85 300.46L611.14 300.02L611.45 299.54L611.79 299.04L612.14 298.52L612.51 297.99L612.90 297.45L613.30 296.90L613.72 296.36L614.14 295.81L614.57 295.27L615.02 294.73L615.47 294.19L615.93 293.66L616.40 293.14L616.88 292.62L617.36 292.10L617.86 291.60L618.35 291.10L618.86 290.60L619.37 290.12L619.89 289.64L620.41 289.18L620.94 288.72L621.47 288.27L622.01 287.83L622.55 287.40L623.10 286.97L623.65 286.56L624.21 286.16L624.77 285.77L625.33 285.38L625.90 285.01L626.47 284.65L627.04 284.30L627.62 283.96L628.19 283.62L628.77 283.30L629.35 283.00L629.94 282.70L630.52 282.41L631.11 282.13L631.69 281.87L632.28 281.61L632.87 281.37L633.46 281.14L634.05 280.92L634.63 280.71L635.22 280.51L635.81 280.32L636.39 280.15L636.98 279.98L637.56 279.83L638.14 279.69L638.72 279.56L639.30 279.44L639.88 279.33L640.45 279.23L641.02 279.14L641.59 279.07L642.15 279.01L642.71 278.95L643.27 278.91L643.83 278.88L644.37 278.86L644.92 278.85L645.46 278.86L646.00 278.87L646.53 278.89L647.05 278.93L647.57 278.97L648.09 279.03L648.60 279.09L649.10 279.17L649.60 279.25L650.09 279.35L650.58 279.46L651.06 279.57L651.53 279.70L651.99 279.83L652.45 279.98L652.90 280.13L653.34 280.29L653.78 280.46L654.20 280.65L654.62 280.83L655.03 281.03L655.44 281.24L655.83 281.45L656.22 281.68L656.59 281.91L656.96 282.15L657.32 282.39L657.67 282.65L658.01 282.91L658.34 283.18L658.67 283.46L658.98 283.74L659.28 284.03L659.58 284.32L659.86 284.63L660.13 284.93L660.40 285.25L660.65 285.57L660.89 285.89L661.13 286.22L661.35 286.56L661.56 286.90L661.76 287.25L661.96 287.60L662.14 287.95L662.31 288.31L662.47 288.68L662.62 289.04L662.76 289.41L662.89 289.79L663.00 290.16L663.11 290.54L663.21 290.93L663.29 291.31L663.37 291.70L663.43 292.09L663.49 292.48L663.53 292.88L663.57 293.27L663.59 293.67L663.60 294.07L663.60 294.47L663.59 294.87L663.58 295.27L663.55 295.67L663.51 296.07L663.46 296.48L663.40 296.88L663.33 297.28L663.26 297.68L663.17 298.08L663.07 298.48L662.97 298.88L662.85 299.28L662.73 299.67L662.59 300.07L662.45 300.46L662.30 300.85L662.14 301.24L661.97 301.63L661.79 302.01L661.61 302.40L661.42 302.78L661.22 303.16L661.01 303.53L660.80 303.90L660.57 304.27L660.35 304.64L660.11 305.00L659.87 305.36L659.62 305.72L659.37 306.07L659.11 306.42L658.84 306.76L658.57 307.10L658.30 307.44L658.02 307.77L657.73 308.10L657.44 308.43L657.15 308.75L656.86 309.07L656.56 309.38L656.25 309.69L655.95 310.00L655.64 310.30L655.33 310.60L655.02 310.89L654.70 311.18L654.39 311.46L654.07 311.74L653.76 312.02L653.44 312.29L653.12 312.56L652.80 312.83L652.49 313.09L652.17 313.35L651.86 313.60L651.55 313.86L651.23 314.10L650.93 314.35L650.62 314.59L650.32 314.83L650.02 315.07L649.72 315.30L649.43 315.53L649.14 315.76L648.86 315.99L648.58 316.22L648.30 316.44L648.03 316.66L647.77 316.89L647.51 317.11L647.26 317.33L647.01 317.55L646.77 317.77L646.54 317.98L646.32 318.20L646.10 318.42L645.89 318.64L645.68 318.87L645.49 319.09L645.30 319.31L645.12 319.54L644.95 319.77L644.78 320.00L644.63 320.23L644.48 320.46L644.34 320.70L644.21 320.94L644.08 321.19L643.97 321.43L643.86 321.68L643.76 321.94L643.66 322.20L643.58 322.46L643.50 322.73L643.43 323.00L643.37 323.28L643.31 323.56L643.26 323.85L643.22 324.14L643.18 324.44L643.15 324.74L643.13 325.05L643.11 325.36L643.09 325.68L643.09 326.01L643.08 326.34L643.08 326.67L643.09 327.01L643.09 327.36L643.10 327.71L643.12 328.07L643.13 328.43L643.15 328.80L643.17 329.17L643.20 329.55L643.22 329.93L643.25 330.32L643.27 330.71L643.30 331.11L643.32 331.51L643.35 331.91L643.37 332.32L643.40 332.74L643.42 333.16L643.44 333.58L643.46 334.01L643.48 334.43L643.49 334.87L643.51 335.30L643.52 335.74L643.52 336.18L643.52 336.63L643.52 337.07L643.52 337.52L643.51 337.97L643.49 338.42L643.48 338.87L643.45 339.33L643.43 339.78L643.39 340.24L643.35 340.69L643.31 341.15L643.26 341.61L643.20 342.06L643.14 342.52L643.07 342.97L643.00 343.43L642.92 343.88L642.83 344.33L642.74 344.78L642.64 345.23L642.53 345.67L642.41 346.12L642.29 346.56L642.16 347.00L642.03 347.43L641.89 347.86L641.74 348.29L641.58 348.71L641.42 349.13L641.25 349.55L641.07 349.96L640.88 350.37L640.69 350.77L640.49 351.17L640.28 351.56L640.07 351.95L639.84 352.33L639.62 352.70L639.38 353.07L639.14 353.43L638.89 353.79L638.63 354.14L638.36 354.48L638.09 354.81L637.82 355.14L637.53 355.46L637.24 355.77L636.94 356.07L636.64 356.37L636.33 356.66L636.01 356.94L635.69 357.21L635.36 357.47L635.03 357.72L634.69 357.96L634.35 358.20L633.99 358.42L633.64 358.63L633.28 358.84L632.91 359.03L632.54 359.22L632.16 359.39L631.78 359.56L631.40 359.71L631.01 359.86L630.62 359.99L630.22 360.11L629.82 360.22L629.41 360.32L629.01 360.41L628.60 360.49L628.18 360.56L627.77 360.61L627.35 360.65L626.92 360.69L626.50 360.71L626.07 360.72L625.65 360.71L625.22 360.70L624.79 360.67L624.35 360.64L623.92 360.59L623.49 360.53L623.05 360.45L622.62 360.37L622.18 360.27L621.74 360.16L621.31 360.04L620.87 359.91L620.44 359.76L620.01 359.60L619.57 359.43L619.14 359.25L618.71 359.06L618.28 358.85L617.86 358.64L617.43 358.41L617.01 358.17L616.59 357.91L616.17 357.65L615.76 357.37L615.35 357.09L614.94 356.79L614.54 356.48L614.14 356.15L613.74 355.82L613.35 355.48L612.96 355.12L612.58 354.75L612.20 354.38L611.83 353.99L611.46 353.59L611.09 353.18L610.74 352.76L610.38 352.33L610.04 351.89L609.70 351.44L609.36 350.97L609.04 350.50L608.71 350.02L608.40 349.53L608.09 349.03L607.79 348.52L607.50 348.00L607.21 347.48L606.94 346.94L606.66 346.40L606.40 345.84L606.15 345.28L605.90 344.71L605.66 344.13L605.43 343.55L605.21 342.96L605.00 342.36L604.80 341.75L604.60 341.14L604.42 340.52L604.24 339.89L604.07 339.25L603.91 338.62L603.77 337.97L603.63 337.32L603.50 336.66L603.38 336.00L603.27 335.33L603.17 334.66L603.08 333.99L603.00 333.31L602.93 332.62L602.87 331.93L602.82 331.24L602.78 330.55L602.75 329.85L602.74 329.15L602.73 328.45L602.73 327.74L602.74 327.04L602.76 326.33L602.80 325.62L602.84 324.91L602.90 324.20L602.96 323.48L603.03 322.77L603.12 322.06L603.21 321.35L603.32 320.64L603.43 319.93L603.56 319.23L603.69 318.53L603.83 317.83L603.98 317.13L604.15 316.44L604.31 315.75L604.49 315.08L604.68 314.40L604.87 313.74L605.06 313.09L605.27 312.45L605.47 311.84L605.68 311.24L605.88 310.67L606.07 310.13L606.26 309.64L606.42 309.21L606.55 308.86L606.64 308.60L606.68 308.47L606.65 308.46L606.56 308.59L606.40 308.82L606.20 309.14L605.95 309.54L605.66 309.98L605.35 310.46L605.01 310.96L604.66 311.48L604.29 312.01L603.90 312.55L603.50 313.10L603.08 313.64L602.66 314.19L602.23 314.73L601.78 315.27L601.33 315.81L600.87 316.34L600.40 316.86L599.92 317.38L599.44 317.90L598.94 318.40L598.45 318.90L597.94 319.40L597.43 319.88L596.91 320.36L596.39 320.82L595.86 321.28L595.33 321.73L594.79 322.17L594.25 322.60L593.70 323.03L593.15 323.44L592.59 323.84L592.03 324.23L591.47 324.62L590.90 324.99L590.33 325.35L589.76 325.70L589.18 326.04L588.61 326.38L588.03 326.70L587.45 327.00L586.86 327.30L586.28 327.59L585.69 327.87L585.11 328.13L584.52 328.39L583.93 328.63L583.34 328.86L582.75 329.08L582.17 329.29L581.58 329.49L580.99 329.68L580.41 329.85L579.82 330.02L579.24 330.17L578.66 330.31L578.08 330.44L577.50 330.56L576.92 330.67L576.35 330.77L575.78 330.86L575.21 330.93L574.65 330.99L574.09 331.05L573.53 331.09L572.97 331.12L572.43 331.14L571.88 331.15L571.34 331.14L570.80 331.13L570.27 331.11L569.75 331.07L569.23 331.03L568.71 330.97L568.20 330.91L567.70 330.83L567.20 330.75L566.71 330.65L566.22 330.54L565.74 330.43L565.27 330.30L564.81 330.17L564.35 330.02L563.90 329.87L563.46 329.71L563.02 329.54L562.60 329.35L562.18 329.17L561.77 328.97L561.36 328.76L560.97 328.55L560.58 328.32L560.21 328.09L559.84 327.85L559.48 327.61L559.13 327.35L558.79 327.09L558.46 326.82L558.13 326.54L557.82 326.26L557.52 325.97L557.22 325.68L556.94 325.37L556.67 325.07L556.40 324.75L556.15 324.43L555.91 324.11L555.67 323.78L555.45 323.44L555.24 323.10L555.04 322.75L554.84 322.40L554.66 322.05L554.49 321.69L554.33 321.32L554.18 320.96L554.04 320.59L553.91 320.21L553.80 319.84L553.69 319.46L553.59 319.07L553.51 318.69L553.43 318.30L553.37 317.91L553.31 317.52L553.27 317.12L553.23 316.73L553.21 316.33L553.20 315.93L553.20 315.53L553.21 315.13L553.22 314.73L553.25 314.33L553.29 313.93L553.34 313.52L553.40 313.12L553.47 312.72L553.54 312.32L553.63 311.92L553.73 311.52L553.83 311.12L553.95 310.72L554.07 310.33L554.21 309.93L554.35 309.54L554.50 309.15L554.66 308.76L554.83 308.37L555.01 307.99L555.19 307.60L555.38 307.22L555.58 306.84L555.79 306.47L556.00 306.10L556.23 305.73L556.45 305.36L556.69 305.00L556.93 304.64L557.18 304.28L557.43 303.93L557.69 303.58L557.96 303.24L558.23 302.90L558.50 302.56L558.78 302.23L559.07 301.90L559.36 301.57L559.65 301.25L559.94 300.93L560.24 300.62L560.55 300.31L560.85 300.00L561.16 299.70L561.47 299.40L561.78 299.11L562.10 298.82L562.41 298.54L562.73 298.26L563.04 297.98L563.36 297.71L563.68 297.44L564.00 297.17L564.31 296.91L564.63 296.65L564.94 296.40L565.25 296.14L565.57 295.90L565.87 295.65L566.18 295.41L566.48 295.17L566.78 294.93L567.08 294.70L567.37 294.47L567.66 294.24L567.94 294.01L568.22 293.78L568.50 293.56L568.77 293.34L569.03 293.11L569.29 292.89L569.54 292.67L569.79 292.45L570.03 292.23L570.26 292.02L570.48 291.80L570.70 291.58L570.91 291.36L571.12 291.13L571.31 290.91L571.50 290.69L571.68 290.46L571.85 290.23L572.02 290.00L572.17 289.77L572.32 289.54L572.46 289.30L572.59 289.06L572.72 288.81L572.83 288.57L572.94 288.32L573.04 288.06L573.14 287.80L573.22 287.54L573.30 287.27L573.37 287.00L573.43 286.72L573.49 286.44L573.54 286.15L573.58 285.86L573.62 285.56L573.65 285.26L573.67 284.95L573.69 284.64L573.71 284.32L573.71 283.99L573.72 283.66L573.72 283.33L573.71 282.99L573.71 282.64L573.70 282.29L573.68 281.93L573.67 281.57L573.65 281.20L573.63 280.83L573.60 280.45L573.58 280.07L573.55 279.68L573.53 279.29L573.50 278.89L573.48 278.49L573.45 278.09L573.43 277.68L573.40 277.26L573.38 276.84L573.36 276.42L573.34 275.99L573.32 275.57L573.31 275.13L573.29 274.70L573.28 274.26L573.28 273.82L573.28 273.37L573.28 272.93L573.28 272.48L573.29 272.03L573.31 271.58L573.32 271.13L573.35 270.67L573.37 270.22L573.41 269.76L573.45 269.31L573.49 268.85L573.54 268.39L573.60 267.94L573.66 267.48L573.73 267.03L573.80 266.57L573.88 266.12L573.97 265.67L574.06 265.22L574.16 264.77L574.27 264.33L574.39 263.88L574.51 263.44L574.64 263.00L574.77 262.57L574.91 262.14L575.06 261.71L575.22 261.29L575.38 260.87L575.55 260.45L575.73 260.04L575.92 259.63L576.11 259.23L576.31 258.83L576.52 258.44L576.73 258.05L576.96 257.67L577.18 257.30L577.42 256.93L577.66 256.57L577.91 256.21L578.17 255.86L578.44 255.52L578.71 255.19L578.98 254.86L579.27 254.54L579.56 254.23L579.86 253.93L580.16 253.63L580.47 253.34L580.79 253.06L581.11 252.79L581.44 252.53L581.77 252.28L582.11 252.04L582.45 251.80L582.81 251.58L583.16 251.37L583.52 251.16L583.89 250.97L584.26 250.78L584.64 250.61L585.02 250.44L585.40 250.29L585.79 250.14L586.18 250.01L586.58 249.89L586.98 249.78L587.39 249.68L587.79 249.59L588.20 249.51L588.62 249.44L589.03 249.39L589.45 249.35L589.88 249.31L590.30 249.29L590.73 249.28L591.15 249.29L591.58 249.30L592.01 249.33L592.45 249.36L592.88 249.41L593.31 249.47L593.75 249.55L594.18 249.63L594.62 249.73L595.06 249.84L595.49 249.96L595.93 250.09L596.36 250.24L596.79 250.40L597.23 250.57L597.66 250.75L598.09 250.94L598.52 251.15L598.94 251.36L599.37 251.59L599.79 251.83L600.21 252.09L600.63 252.35L601.04 252.63L601.45 252.91L601.86 253.21L602.26 253.52L602.66 253.85L603.06 254.18L603.45 254.52L603.84 254.88L604.22 255.25L604.60 255.62L604.97 256.01L605.34 256.41L605.71 256.82L606.06 257.24L606.42 257.67L606.76 258.11L607.10 258.56L607.44 259.03L607.76 259.50L608.09 259.98Z" fill="none" stroke="#bf784c" stroke-width="4.7" stroke-linejoin="round"/>
<path d="M608.40 260.96L608.70 261.45L609.00 261.95L609.29 262.47L609.57 262.99L609.85 263.52L610.12 264.06L610.38 264.60L610.63 265.16L610.87 265.72L611.11 266.29L611.33 266.87L611.55 267.46L611.76 268.05L611.96 268.65L612.16 269.26L612.34 269.87L612.51 270.49L612.68 271.12L612.84 271.75L612.98 272.39L613.12 273.03L613.25 273.68L613.37 274.34L613.47 275.00L613.57 275.66L613.66 276.33L613.74 277.00L613.81 277.68L613.87 278.36L613.92 279.04L613.96 279.73L613.98 280.42L614.00 281.11L614.01 281.81L614.01 282.51L614.00 283.20L613.97 283.91L613.94 284.61L613.90 285.31L613.84 286.01L613.78 286.72L613.71 287.42L613.62 288.12L613.53 288.83L613.43 289.53L613.31 290.23L613.19 290.93L613.06 291.62L612.92 292.31L612.77 293.00L612.61 293.68L612.44 294.36L612.27 295.03L612.08 295.70L611.89 296.35L611.70 297.00L611.50 297.63L611.30 298.24L611.10 298.83L610.89 299.40L610.70 299.93L610.52 300.41L610.36 300.84L610.23 301.18L610.14 301.43L610.10 301.57L610.13 301.57L610.22 301.45L610.37 301.22L610.58 300.90L610.83 300.51L611.11 300.08L611.42 299.60L611.75 299.10L612.10 298.59L612.47 298.06L612.85 297.53L613.25 296.99L613.66 296.45L614.08 295.91L614.51 295.38L614.95 294.84L615.39 294.31L615.85 293.79L616.31 293.27L616.79 292.75L617.27 292.24L617.75 291.74L618.25 291.25L618.74 290.76L619.25 290.28L619.76 289.81L620.28 289.35L620.80 288.90L621.33 288.45L621.86 288.02L622.40 287.59L622.94 287.17L623.49 286.76L624.04 286.36L624.59 285.98L625.15 285.60L625.71 285.23L626.27 284.87L626.84 284.52L627.41 284.19L627.98 283.86L628.55 283.54L629.13 283.24L629.70 282.94L630.28 282.66L630.86 282.38L631.44 282.12L632.02 281.87L632.60 281.63L633.18 281.40L633.77 281.18L634.35 280.97L634.93 280.78L635.51 280.59L636.09 280.42L636.67 280.25L637.24 280.10L637.82 279.96L638.39 279.83L638.96 279.72L639.53 279.61L640.10 279.51L640.66 279.43L641.23 279.35L641.78 279.29L642.34 279.24L642.89 279.20L643.44 279.17L643.98 279.15L644.52 279.14L645.06 279.14L645.59 279.16L646.11 279.18L646.63 279.21L647.15 279.26L647.66 279.31L648.16 279.38L648.66 279.45L649.15 279.54L649.64 279.63L650.12 279.74L650.59 279.85L651.06 279.97L651.52 280.11L651.97 280.25L652.41 280.40L652.85 280.56L653.28 280.73L653.70 280.91L654.12 281.10L654.52 281.30L654.92 281.50L655.31 281.71L655.69 281.93L656.07 282.16L656.43 282.40L656.79 282.64L657.13 282.89L657.47 283.15L657.80 283.42L658.12 283.69L658.43 283.97L658.73 284.26L659.02 284.55L659.30 284.85L659.57 285.15L659.83 285.46L660.08 285.78L660.32 286.10L660.55 286.43L660.77 286.76L660.98 287.10L661.18 287.44L661.37 287.79L661.55 288.14L661.72 288.49L661.88 288.85L662.03 289.22L662.16 289.58L662.29 289.95L662.41 290.33L662.51 290.70L662.61 291.08L662.69 291.46L662.77 291.85L662.83 292.23L662.89 292.62L662.93 293.01L662.96 293.40L662.98 293.80L663.00 294.19L663.00 294.58L662.99 294.98L662.97 295.38L662.94 295.77L662.91 296.17L662.86 296.57L662.80 296.97L662.73 297.36L662.66 297.76L662.57 298.16L662.47 298.55L662.37 298.95L662.25 299.34L662.13 299.73L662.00 300.12L661.86 300.51L661.71 300.90L661.55 301.28L661.38 301.67L661.21 302.05L661.03 302.43L660.84 302.80L660.64 303.18L660.44 303.55L660.22 303.91L660.00 304.28L659.78 304.64L659.55 305.00L659.31 305.36L659.06 305.71L658.81 306.06L658.55 306.40L658.29 306.74L658.02 307.08L657.75 307.41L657.48 307.74L657.19 308.07L656.91 308.39L656.62 308.71L656.33 309.02L656.03 309.33L655.73 309.64L655.43 309.94L655.12 310.24L654.82 310.53L654.51 310.82L654.20 311.11L653.89 311.39L653.57 311.67L653.26 311.94L652.95 312.21L652.63 312.48L652.32 312.74L652.01 313.00L651.69 313.26L651.38 313.51L651.07 313.76L650.77 314.01L650.46 314.25L650.16 314.49L649.86 314.72L649.56 314.96L649.27 315.19L648.98 315.42L648.69 315.65L648.41 315.87L648.14 316.09L647.87 316.32L647.60 316.54L647.34 316.76L647.08 316.97L646.83 317.19L646.59 317.41L646.36 317.63L646.13 317.84L645.90 318.06L645.69 318.28L645.48 318.50L645.28 318.71L645.08 318.93L644.90 319.16L644.72 319.38L644.55 319.60L644.39 319.83L644.23 320.06L644.08 320.29L643.94 320.53L643.81 320.77L643.69 321.01L643.58 321.25L643.47 321.50L643.37 321.75L643.28 322.01L643.19 322.27L643.12 322.54L643.05 322.81L642.99 323.08L642.93 323.36L642.88 323.64L642.84 323.93L642.80 324.23L642.77 324.53L642.75 324.83L642.73 325.14L642.72 325.46L642.71 325.78L642.70 326.10L642.70 326.43L642.71 326.77L642.71 327.11L642.72 327.46L642.74 327.81L642.75 328.17L642.77 328.54L642.79 328.90L642.82 329.28L642.84 329.66L642.86 330.04L642.89 330.43L642.92 330.82L642.94 331.22L642.97 331.62L642.99 332.03L643.02 332.44L643.04 332.85L643.06 333.27L643.08 333.69L643.10 334.11L643.11 334.54L643.12 334.97L643.13 335.41L643.14 335.84L643.14 336.28L643.14 336.72L643.13 337.16L643.12 337.61L643.11 338.05L643.09 338.50L643.07 338.95L643.04 339.40L643.01 339.85L642.97 340.30L642.93 340.75L642.88 341.20L642.82 341.66L642.76 342.11L642.69 342.56L642.62 343.01L642.54 343.45L642.45 343.90L642.36 344.34L642.26 344.79L642.16 345.23L642.04 345.67L641.92 346.10L641.80 346.54L641.66 346.97L641.52 347.39L641.37 347.82L641.22 348.24L641.06 348.65L640.89 349.06L640.71 349.47L640.53 349.87L640.34 350.27L640.14 350.66L639.93 351.05L639.72 351.43L639.50 351.81L639.27 352.18L639.04 352.55L638.80 352.90L638.55 353.25L638.30 353.60L638.04 353.94L637.77 354.27L637.49 354.59L637.21 354.91L636.93 355.22L636.63 355.52L636.33 355.81L636.03 356.09L635.71 356.37L635.39 356.63L635.07 356.89L634.74 357.14L634.40 357.38L634.06 357.61L633.71 357.84L633.36 358.05L633.01 358.25L632.64 358.44L632.28 358.63L631.90 358.80L631.53 358.96L631.15 359.11L630.76 359.26L630.37 359.39L629.98 359.51L629.58 359.62L629.18 359.72L628.78 359.80L628.38 359.88L627.97 359.95L627.55 360.00L627.14 360.05L626.72 360.08L626.30 360.10L625.88 360.11L625.46 360.11L625.03 360.09L624.61 360.07L624.18 360.03L623.75 359.98L623.32 359.92L622.89 359.85L622.46 359.76L622.03 359.67L621.60 359.56L621.17 359.44L620.74 359.30L620.31 359.16L619.88 359.01L619.45 358.84L619.02 358.66L618.60 358.47L618.18 358.26L617.75 358.05L617.33 357.82L616.92 357.59L616.50 357.34L616.09 357.07L615.68 356.80L615.27 356.52L614.87 356.22L614.47 355.91L614.08 355.60L613.68 355.27L613.30 354.92L612.91 354.57L612.53 354.21L612.16 353.84L611.79 353.45L611.42 353.06L611.06 352.65L610.71 352.24L610.36 351.81L610.02 351.37L609.68 350.93L609.35 350.47L609.03 350.01L608.71 349.53L608.40 349.04L608.10 348.55L607.80 348.05L607.51 347.53L607.23 347.01L606.95 346.48L606.68 345.94L606.42 345.40L606.17 344.84L605.93 344.28L605.69 343.71L605.47 343.13L605.25 342.54L605.04 341.95L604.84 341.35L604.64 340.74L604.46 340.13L604.29 339.51L604.12 338.88L603.96 338.25L603.82 337.61L603.68 336.97L603.55 336.32L603.43 335.66L603.33 335.00L603.23 334.34L603.14 333.67L603.06 333.00L602.99 332.32L602.93 331.64L602.88 330.96L602.84 330.27L602.82 329.58L602.80 328.89L602.79 328.19L602.79 327.49L602.80 326.80L602.83 326.09L602.86 325.39L602.90 324.69L602.96 323.99L603.02 323.28L603.09 322.58L603.18 321.88L603.27 321.17L603.37 320.47L603.49 319.77L603.61 319.07L603.74 318.38L603.88 317.69L604.03 317.00L604.19 316.32L604.36 315.64L604.53 314.97L604.72 314.30L604.91 313.65L605.10 313.00L605.30 312.37L605.50 311.76L605.70 311.17L605.91 310.60L606.10 310.07L606.28 309.59L606.44 309.16L606.57 308.82L606.66 308.57L606.70 308.43L606.67 308.43L606.58 308.55L606.43 308.78L606.22 309.10L605.97 309.49L605.69 309.92L605.38 310.40L605.05 310.90L604.70 311.41L604.33 311.94L603.95 312.47L603.55 313.01L603.14 313.55L602.72 314.09L602.29 314.62L601.85 315.16L601.41 315.69L600.95 316.21L600.49 316.73L600.01 317.25L599.53 317.76L599.05 318.26L598.55 318.75L598.06 319.24L597.55 319.72L597.04 320.19L596.52 320.65L596.00 321.10L595.47 321.55L594.94 321.98L594.40 322.41L593.86 322.83L593.31 323.24L592.76 323.64L592.21 324.02L591.65 324.40L591.09 324.77L590.53 325.13L589.96 325.48L589.39 325.81L588.82 326.14L588.25 326.46L587.67 326.76L587.10 327.06L586.52 327.34L585.94 327.62L585.36 327.88L584.78 328.13L584.20 328.37L583.62 328.60L583.03 328.82L582.45 329.03L581.87 329.22L581.29 329.41L580.71 329.58L580.13 329.75L579.56 329.90L578.98 330.04L578.41 330.17L577.84 330.28L577.27 330.39L576.70 330.49L576.14 330.57L575.57 330.65L575.02 330.71L574.46 330.76L573.91 330.80L573.36 330.83L572.82 330.85L572.28 330.86L571.74 330.86L571.21 330.84L570.69 330.82L570.17 330.79L569.65 330.74L569.14 330.69L568.64 330.62L568.14 330.55L567.65 330.46L567.16 330.37L566.68 330.26L566.21 330.15L565.74 330.03L565.28 329.89L564.83 329.75L564.39 329.60L563.95 329.44L563.52 329.27L563.10 329.09L562.68 328.90L562.28 328.70L561.88 328.50L561.49 328.29L561.11 328.07L560.73 327.84L560.37 327.60L560.01 327.36L559.67 327.11L559.33 326.85L559.00 326.58L558.68 326.31L558.37 326.03L558.07 325.74L557.78 325.45L557.50 325.15L557.23 324.85L556.97 324.54L556.72 324.22L556.48 323.90L556.25 323.57L556.03 323.24L555.82 322.90L555.62 322.56L555.43 322.21L555.25 321.86L555.08 321.51L554.92 321.15L554.77 320.78L554.64 320.42L554.51 320.05L554.39 319.67L554.29 319.30L554.19 318.92L554.11 318.54L554.03 318.15L553.97 317.77L553.91 317.38L553.87 316.99L553.84 316.60L553.82 316.20L553.80 315.81L553.80 315.42L553.81 315.02L553.83 314.62L553.86 314.23L553.89 313.83L553.94 313.43L554.00 313.03L554.07 312.64L554.14 312.24L554.23 311.84L554.33 311.45L554.43 311.05L554.55 310.66L554.67 310.27L554.80 309.88L554.94 309.49L555.09 309.10L555.25 308.72L555.42 308.33L555.59 307.95L555.77 307.57L555.96 307.20L556.16 306.82L556.36 306.45L556.58 306.09L556.80 305.72L557.02 305.36L557.25 305.00L557.49 304.64L557.74 304.29L557.99 303.94L558.25 303.60L558.51 303.26L558.78 302.92L559.05 302.59L559.32 302.26L559.61 301.93L559.89 301.61L560.18 301.29L560.47 300.98L560.77 300.67L561.07 300.36L561.37 300.06L561.68 299.76L561.98 299.47L562.29 299.18L562.60 298.89L562.91 298.61L563.23 298.33L563.54 298.06L563.85 297.79L564.17 297.52L564.48 297.26L564.79 297.00L565.11 296.74L565.42 296.49L565.73 296.24L566.03 295.99L566.34 295.75L566.64 295.51L566.94 295.28L567.24 295.04L567.53 294.81L567.82 294.58L568.11 294.35L568.39 294.13L568.66 293.91L568.93 293.68L569.20 293.46L569.46 293.24L569.72 293.03L569.97 292.81L570.21 292.59L570.44 292.37L570.67 292.16L570.90 291.94L571.11 291.72L571.32 291.50L571.52 291.29L571.72 291.07L571.90 290.84L572.08 290.62L572.25 290.40L572.41 290.17L572.57 289.94L572.72 289.71L572.86 289.47L572.99 289.23L573.11 288.99L573.22 288.75L573.33 288.50L573.43 288.25L573.52 287.99L573.61 287.73L573.68 287.46L573.75 287.19L573.81 286.92L573.87 286.64L573.92 286.36L573.96 286.07L574.00 285.77L574.03 285.47L574.05 285.17L574.07 284.86L574.08 284.54L574.09 284.22L574.10 283.90L574.10 283.57L574.09 283.23L574.09 282.89L574.08 282.54L574.06 282.19L574.05 281.83L574.03 281.46L574.01 281.10L573.98 280.72L573.96 280.34L573.94 279.96L573.91 279.57L573.88 279.18L573.86 278.78L573.83 278.38L573.81 277.97L573.78 277.56L573.76 277.15L573.74 276.73L573.72 276.31L573.70 275.89L573.69 275.46L573.68 275.03L573.67 274.59L573.66 274.16L573.66 273.72L573.66 273.28L573.67 272.84L573.68 272.39L573.69 271.95L573.71 271.50L573.73 271.05L573.76 270.60L573.79 270.15L573.83 269.70L573.87 269.25L573.92 268.80L573.98 268.34L574.04 267.89L574.11 267.44L574.18 266.99L574.26 266.55L574.35 266.10L574.44 265.66L574.54 265.21L574.64 264.77L574.76 264.33L574.88 263.90L575.00 263.46L575.14 263.03L575.28 262.61L575.43 262.18L575.58 261.76L575.74 261.35L575.91 260.94L576.09 260.53L576.27 260.13L576.46 259.73L576.66 259.34L576.87 258.95L577.08 258.57L577.30 258.19L577.53 257.82L577.76 257.45L578.00 257.10L578.25 256.75L578.50 256.40L578.76 256.06L579.03 255.73L579.31 255.41L579.59 255.09L579.87 254.78L580.17 254.48L580.47 254.19L580.77 253.91L581.09 253.63L581.41 253.37L581.73 253.11L582.06 252.86L582.40 252.62L582.74 252.39L583.09 252.16L583.44 251.95L583.79 251.75L584.16 251.56L584.52 251.37L584.90 251.20L585.27 251.04L585.65 250.89L586.04 250.74L586.43 250.61L586.82 250.49L587.22 250.38L587.62 250.28L588.02 250.20L588.42 250.12L588.83 250.05L589.25 250.00L589.66 249.95L590.08 249.92L590.50 249.90L590.92 249.89L591.34 249.89L591.77 249.91L592.19 249.93L592.62 249.97L593.05 250.02L593.48 250.08L593.91 250.15L594.34 250.24L594.77 250.33L595.20 250.44L595.63 250.56L596.06 250.70L596.49 250.84L596.92 250.99L597.35 251.16L597.78 251.34L598.20 251.53L598.62 251.74L599.05 251.95L599.47 252.18L599.88 252.41L600.30 252.66L600.71 252.93L601.12 253.20L601.53 253.48L601.93 253.78L602.33 254.09L602.72 254.40L603.12 254.73L603.50 255.08L603.89 255.43L604.27 255.79L604.64 256.16L605.01 256.55L605.38 256.94L605.74 257.35L606.09 257.76L606.44 258.19L606.78 258.63L607.12 259.07L607.45 259.53L607.77 259.99L608.09 260.47Z" fill="none" stroke="#ff9f65" stroke-width="4.7" stroke-linejoin="round"/>
<path d="M608.40 264.41L608.68 264.86L608.95 265.33L609.22 265.80L609.48 266.28L609.74 266.77L609.98 267.27L610.22 267.77L610.45 268.28L610.68 268.80L610.89 269.33L611.10 269.86L611.31 270.40L611.50 270.95L611.68 271.50L611.86 272.06L612.03 272.63L612.19 273.20L612.34 273.78L612.49 274.36L612.62 274.95L612.75 275.54L612.87 276.14L612.98 276.74L613.08 277.35L613.17 277.96L613.25 278.58L613.32 279.20L613.39 279.82L613.44 280.45L613.48 281.08L613.52 281.71L613.55 282.35L613.56 282.99L613.57 283.63L613.57 284.27L613.56 284.91L613.54 285.56L613.51 286.21L613.47 286.85L613.42 287.50L613.36 288.15L613.29 288.80L613.21 289.45L613.13 290.09L613.03 290.74L612.93 291.39L612.82 292.03L612.69 292.67L612.56 293.31L612.42 293.94L612.28 294.57L612.12 295.20L611.96 295.82L611.79 296.43L611.62 297.03L611.44 297.62L611.26 298.20L611.07 298.77L610.88 299.31L610.70 299.84L610.52 300.32L610.35 300.77L610.21 301.16L610.08 301.48L610.00 301.71L609.97 301.84L610.00 301.84L610.08 301.73L610.22 301.52L610.41 301.22L610.64 300.87L610.89 300.46L611.18 300.03L611.49 299.57L611.81 299.09L612.15 298.61L612.50 298.12L612.87 297.62L613.25 297.12L613.63 296.63L614.03 296.13L614.43 295.64L614.85 295.15L615.27 294.67L615.69 294.19L616.13 293.71L616.57 293.24L617.02 292.78L617.47 292.33L617.93 291.88L618.40 291.44L618.87 291.00L619.35 290.58L619.83 290.16L620.32 289.75L620.81 289.35L621.30 288.95L621.80 288.57L622.30 288.19L622.81 287.83L623.32 287.47L623.83 287.12L624.35 286.78L624.87 286.45L625.39 286.13L625.92 285.82L626.44 285.52L626.97 285.22L627.50 284.94L628.03 284.67L628.56 284.41L629.10 284.16L629.63 283.91L630.17 283.68L630.70 283.46L631.24 283.25L631.78 283.05L632.31 282.86L632.85 282.68L633.38 282.50L633.92 282.34L634.45 282.19L634.98 282.05L635.51 281.93L636.04 281.81L636.57 281.70L637.09 281.60L637.62 281.51L638.14 281.43L638.65 281.36L639.17 281.31L639.68 281.26L640.19 281.22L640.69 281.19L641.19 281.18L641.69 281.17L642.18 281.17L642.67 281.18L643.15 281.20L643.63 281.23L644.11 281.27L644.58 281.33L645.04 281.38L645.50 281.45L645.96 281.53L646.40 281.62L646.85 281.72L647.28 281.82L647.71 281.94L648.14 282.06L648.55 282.19L648.96 282.33L649.37 282.48L649.76 282.64L650.15 282.80L650.53 282.97L650.91 283.15L651.28 283.34L651.64 283.54L651.99 283.74L652.33 283.95L652.67 284.17L652.99 284.39L653.31 284.63L653.62 284.86L653.93 285.11L654.22 285.36L654.51 285.62L654.78 285.88L655.05 286.15L655.31 286.43L655.56 286.71L655.80 287.00L656.03 287.29L656.25 287.58L656.46 287.89L656.67 288.19L656.86 288.50L657.04 288.82L657.22 289.14L657.38 289.46L657.54 289.79L657.69 290.12L657.82 290.45L657.95 290.79L658.07 291.13L658.17 291.48L658.27 291.82L658.36 292.17L658.44 292.52L658.51 292.88L658.57 293.23L658.61 293.59L658.65 293.95L658.69 294.31L658.71 294.67L658.72 295.04L658.72 295.40L658.71 295.77L658.70 296.13L658.67 296.50L658.63 296.86L658.59 297.23L658.54 297.60L658.47 297.96L658.40 298.33L658.32 298.69L658.24 299.06L658.14 299.42L658.03 299.78L657.92 300.14L657.80 300.50L657.67 300.86L657.53 301.22L657.38 301.57L657.23 301.93L657.07 302.28L656.90 302.63L656.73 302.97L656.55 303.32L656.36 303.66L656.16 304.00L655.96 304.34L655.75 304.67L655.54 305.00L655.32 305.33L655.09 305.65L654.86 305.97L654.62 306.29L654.38 306.61L654.13 306.92L653.88 307.22L653.63 307.53L653.37 307.83L653.11 308.13L652.84 308.42L652.57 308.71L652.30 308.99L652.02 309.28L651.74 309.56L651.46 309.83L651.18 310.10L650.89 310.37L650.61 310.63L650.32 310.89L650.03 311.15L649.74 311.40L649.45 311.65L649.16 311.89L648.88 312.14L648.59 312.38L648.30 312.61L648.01 312.84L647.73 313.07L647.45 313.30L647.16 313.52L646.89 313.74L646.61 313.96L646.34 314.18L646.07 314.39L645.80 314.60L645.54 314.81L645.28 315.02L645.02 315.23L644.77 315.43L644.53 315.63L644.29 315.83L644.05 316.04L643.82 316.24L643.60 316.44L643.38 316.64L643.17 316.84L642.96 317.04L642.76 317.24L642.57 317.44L642.39 317.64L642.21 317.84L642.04 318.05L641.87 318.25L641.71 318.46L641.56 318.67L641.42 318.88L641.29 319.10L641.16 319.31L641.04 319.53L640.92 319.75L640.82 319.98L640.72 320.21L640.63 320.44L640.54 320.68L640.47 320.92L640.40 321.16L640.33 321.41L640.27 321.66L640.22 321.92L640.18 322.18L640.14 322.45L640.11 322.72L640.08 323.00L640.06 323.28L640.04 323.56L640.03 323.85L640.02 324.15L640.01 324.45L640.01 324.75L640.02 325.06L640.02 325.38L640.03 325.70L640.05 326.03L640.06 326.36L640.08 326.69L640.10 327.03L640.12 327.37L640.14 327.72L640.16 328.08L640.19 328.43L640.21 328.80L640.23 329.16L640.26 329.53L640.28 329.91L640.30 330.29L640.32 330.67L640.34 331.05L640.36 331.44L640.38 331.83L640.39 332.22L640.40 332.62L640.41 333.02L640.41 333.42L640.42 333.83L640.42 334.23L640.41 334.64L640.40 335.05L640.39 335.46L640.37 335.88L640.35 336.29L640.33 336.70L640.30 337.12L640.26 337.54L640.22 337.95L640.17 338.37L640.12 338.78L640.07 339.20L640.01 339.61L639.94 340.03L639.86 340.44L639.78 340.85L639.70 341.26L639.61 341.67L639.51 342.07L639.41 342.48L639.29 342.88L639.18 343.28L639.05 343.68L638.92 344.07L638.79 344.46L638.65 344.85L638.50 345.23L638.34 345.61L638.18 345.98L638.01 346.36L637.83 346.72L637.65 347.08L637.46 347.44L637.26 347.79L637.06 348.14L636.85 348.48L636.64 348.82L636.42 349.15L636.19 349.47L635.95 349.79L635.71 350.10L635.47 350.41L635.21 350.70L634.96 350.99L634.69 351.28L634.42 351.56L634.14 351.82L633.86 352.09L633.57 352.34L633.28 352.59L632.98 352.82L632.67 353.05L632.36 353.28L632.05 353.49L631.73 353.69L631.41 353.89L631.08 354.08L630.74 354.25L630.40 354.42L630.06 354.58L629.71 354.73L629.36 354.87L629.01 355.00L628.65 355.12L628.29 355.23L627.92 355.34L627.56 355.43L627.18 355.51L626.81 355.58L626.43 355.64L626.05 355.69L625.67 355.73L625.29 355.76L624.90 355.78L624.51 355.79L624.12 355.79L623.73 355.77L623.34 355.75L622.94 355.71L622.55 355.67L622.15 355.61L621.75 355.55L621.36 355.47L620.96 355.38L620.56 355.28L620.17 355.17L619.77 355.05L619.37 354.92L618.98 354.77L618.59 354.62L618.19 354.45L617.80 354.28L617.41 354.09L617.02 353.89L616.63 353.68L616.25 353.46L615.87 353.23L615.49 352.99L615.11 352.74L614.73 352.48L614.36 352.21L614.00 351.92L613.63 351.63L613.27 351.33L612.91 351.01L612.56 350.69L612.21 350.35L611.86 350.01L611.52 349.65L611.19 349.29L610.86 348.92L610.53 348.53L610.21 348.14L609.89 347.74L609.58 347.33L609.28 346.91L608.98 346.48L608.69 346.04L608.40 345.59L608.12 345.14L607.85 344.67L607.58 344.20L607.32 343.72L607.06 343.23L606.82 342.73L606.58 342.23L606.35 341.72L606.12 341.20L605.91 340.67L605.70 340.14L605.49 339.60L605.30 339.05L605.12 338.50L604.94 337.94L604.77 337.37L604.61 336.80L604.46 336.22L604.31 335.64L604.18 335.05L604.05 334.46L603.93 333.86L603.82 333.26L603.72 332.65L603.63 332.04L603.55 331.42L603.48 330.80L603.41 330.18L603.36 329.55L603.32 328.92L603.28 328.29L603.25 327.65L603.24 327.01L603.23 326.37L603.23 325.73L603.24 325.09L603.26 324.44L603.29 323.79L603.33 323.15L603.38 322.50L603.44 321.85L603.51 321.20L603.59 320.55L603.67 319.91L603.77 319.26L603.87 318.61L603.98 317.97L604.11 317.33L604.24 316.69L604.38 316.06L604.52 315.43L604.68 314.80L604.84 314.18L605.01 313.57L605.18 312.97L605.36 312.38L605.54 311.80L605.73 311.23L605.92 310.69L606.10 310.16L606.28 309.68L606.45 309.23L606.59 308.84L606.72 308.52L606.80 308.29L606.83 308.16L606.80 308.16L606.72 308.27L606.58 308.48L606.39 308.78L606.16 309.13L605.91 309.54L605.62 309.97L605.31 310.43L604.99 310.91L604.65 311.39L604.30 311.88L603.93 312.38L603.55 312.88L603.17 313.37L602.77 313.87L602.37 314.36L601.95 314.85L601.53 315.33L601.11 315.81L600.67 316.29L600.23 316.76L599.78 317.22L599.33 317.67L598.87 318.12L598.40 318.56L597.93 319.00L597.45 319.42L596.97 319.84L596.48 320.25L595.99 320.65L595.50 321.05L595.00 321.43L594.50 321.81L593.99 322.17L593.48 322.53L592.97 322.88L592.45 323.22L591.93 323.55L591.41 323.87L590.88 324.18L590.36 324.48L589.83 324.78L589.30 325.06L588.77 325.33L588.24 325.59L587.70 325.84L587.17 326.09L586.63 326.32L586.10 326.54L585.56 326.75L585.02 326.95L584.49 327.14L583.95 327.32L583.42 327.50L582.88 327.66L582.35 327.81L581.82 327.95L581.29 328.07L580.76 328.19L580.23 328.30L579.71 328.40L579.18 328.49L578.66 328.57L578.15 328.64L577.63 328.69L577.12 328.74L576.61 328.78L576.11 328.81L575.61 328.82L575.11 328.83L574.62 328.83L574.13 328.82L573.65 328.80L573.17 328.77L572.69 328.73L572.22 328.67L571.76 328.62L571.30 328.55L570.84 328.47L570.40 328.38L569.95 328.28L569.52 328.18L569.09 328.06L568.66 327.94L568.25 327.81L567.84 327.67L567.43 327.52L567.04 327.36L566.65 327.20L566.27 327.03L565.89 326.85L565.52 326.66L565.16 326.46L564.81 326.26L564.47 326.05L564.13 325.83L563.81 325.61L563.49 325.37L563.18 325.14L562.87 324.89L562.58 324.64L562.29 324.38L562.02 324.12L561.75 323.85L561.49 323.57L561.24 323.29L561.00 323.00L560.77 322.71L560.55 322.42L560.34 322.11L560.13 321.81L559.94 321.50L559.76 321.18L559.58 320.86L559.42 320.54L559.26 320.21L559.11 319.88L558.98 319.55L558.85 319.21L558.73 318.87L558.63 318.52L558.53 318.18L558.44 317.83L558.36 317.48L558.29 317.12L558.23 316.77L558.19 316.41L558.15 316.05L558.11 315.69L558.09 315.33L558.08 314.96L558.08 314.60L558.09 314.23L558.10 313.87L558.13 313.50L558.17 313.14L558.21 312.77L558.26 312.40L558.33 312.04L558.40 311.67L558.48 311.31L558.56 310.94L558.66 310.58L558.77 310.22L558.88 309.86L559.00 309.50L559.13 309.14L559.27 308.78L559.42 308.43L559.57 308.07L559.73 307.72L559.90 307.37L560.07 307.03L560.25 306.68L560.44 306.34L560.64 306.00L560.84 305.66L561.05 305.33L561.26 305.00L561.48 304.67L561.71 304.35L561.94 304.03L562.18 303.71L562.42 303.39L562.67 303.08L562.92 302.78L563.17 302.47L563.43 302.17L563.69 301.87L563.96 301.58L564.23 301.29L564.50 301.01L564.78 300.72L565.06 300.44L565.34 300.17L565.62 299.90L565.91 299.63L566.19 299.37L566.48 299.11L566.77 298.85L567.06 298.60L567.35 298.35L567.64 298.11L567.92 297.86L568.21 297.62L568.50 297.39L568.79 297.16L569.07 296.93L569.35 296.70L569.64 296.48L569.91 296.26L570.19 296.04L570.46 295.82L570.73 295.61L571.00 295.40L571.26 295.19L571.52 294.98L571.78 294.77L572.03 294.57L572.27 294.37L572.51 294.17L572.75 293.96L572.98 293.76L573.20 293.56L573.42 293.36L573.63 293.16L573.84 292.96L574.04 292.76L574.23 292.56L574.41 292.36L574.59 292.16L574.76 291.95L574.93 291.75L575.09 291.54L575.24 291.33L575.38 291.12L575.51 290.90L575.64 290.69L575.76 290.47L575.88 290.25L575.98 290.02L576.08 289.79L576.17 289.56L576.26 289.32L576.33 289.08L576.40 288.84L576.47 288.59L576.53 288.34L576.58 288.08L576.62 287.82L576.66 287.55L576.69 287.28L576.72 287.00L576.74 286.72L576.76 286.44L576.77 286.15L576.78 285.85L576.79 285.55L576.79 285.25L576.78 284.94L576.78 284.62L576.77 284.30L576.75 283.97L576.74 283.64L576.72 283.31L576.70 282.97L576.68 282.63L576.66 282.28L576.64 281.92L576.61 281.57L576.59 281.20L576.57 280.84L576.54 280.47L576.52 280.09L576.50 279.71L576.48 279.33L576.46 278.95L576.44 278.56L576.42 278.17L576.41 277.78L576.40 277.38L576.39 276.98L576.39 276.58L576.38 276.17L576.38 275.77L576.39 275.36L576.40 274.95L576.41 274.54L576.43 274.12L576.45 273.71L576.47 273.30L576.50 272.88L576.54 272.46L576.58 272.05L576.63 271.63L576.68 271.22L576.73 270.80L576.79 270.39L576.86 269.97L576.94 269.56L577.02 269.15L577.10 268.74L577.19 268.33L577.29 267.93L577.39 267.52L577.51 267.12L577.62 266.72L577.75 266.32L577.88 265.93L578.01 265.54L578.15 265.15L578.30 264.77L578.46 264.39L578.62 264.02L578.79 263.64L578.97 263.28L579.15 262.92L579.34 262.56L579.54 262.21L579.74 261.86L579.95 261.52L580.16 261.18L580.38 260.85L580.61 260.53L580.85 260.21L581.09 259.90L581.33 259.59L581.59 259.30L581.84 259.01L582.11 258.72L582.38 258.44L582.66 258.18L582.94 257.91L583.23 257.66L583.52 257.41L583.82 257.18L584.13 256.95L584.44 256.72L584.75 256.51L585.07 256.31L585.39 256.11L585.72 255.92L586.06 255.75L586.40 255.58L586.74 255.42L587.09 255.27L587.44 255.13L587.79 255.00L588.15 254.88L588.51 254.77L588.88 254.66L589.24 254.57L589.62 254.49L589.99 254.42L590.37 254.36L590.75 254.31L591.13 254.27L591.51 254.24L591.90 254.22L592.29 254.21L592.68 254.21L593.07 254.23L593.46 254.25L593.86 254.29L594.25 254.33L594.65 254.39L595.05 254.45L595.44 254.53L595.84 254.62L596.24 254.72L596.63 254.83L597.03 254.95L597.43 255.08L597.82 255.23L598.21 255.38L598.61 255.55L599.00 255.72L599.39 255.91L599.78 256.11L600.17 256.32L600.55 256.54L600.93 256.77L601.31 257.01L601.69 257.26L602.07 257.52L602.44 257.79L602.80 258.08L603.17 258.37L603.53 258.67L603.89 258.99L604.24 259.31L604.59 259.65L604.94 259.99L605.28 260.35L605.61 260.71L605.94 261.08L606.27 261.47L606.59 261.86L606.91 262.26L607.22 262.67L607.52 263.09L607.82 263.52L608.11 263.96Z" fill="none" stroke="#ffc77f" stroke-width="4.7" stroke-linejoin="round"/>
</g>
<g id="cbar">
<defs><linearGradient id="cop" x1="0" y1="1" x2="0" y2="0">
<stop offset="0%" stop-color="#000000"/>
<stop offset="10%" stop-color="#20140d"/>
<stop offset="20%" stop-color="#402819"/>
<stop offset="30%" stop-color="#603c26"/>
<stop offset="40%" stop-color="#805033"/>
<stop offset="50%" stop-color="#9f643f"/>
<stop offset="60%" stop-color="#bf784c"/>
<stop offset="70%" stop-color="#df8b59"/>
<stop offset="80%" stop-color="#ff9f65"/>
<stop offset="90%" stop-color="#ffb372"/>
<stop offset="100%" stop-color="#ffc77f"/>
</linearGradient></defs>
<rect x="375.0" y="209.2" width="16.899999999999977" height="184.60000000000002" fill="url(#cop)"/>
<path d="M375.0 210.7L375.0 209.2L383.45 200.0L391.9 209.2L391.9 210.7Z" fill="#ffc77f"/>
<path d="M375.0 392.3L375.0 393.8L383.45 403.0L391.9 393.8L391.9 392.3Z" fill="#000"/>
<path d="M375.0 209.2L383.45 200.0L391.9 209.2L391.9 393.8L383.45 403.0L375.0 393.8Z" fill="none" stroke="#000" stroke-width="2" stroke-linejoin="miter"/>
<line x1="392.7" y1="209.20" x2="400.9" y2="209.20" stroke="#878787" stroke-width="1.6"/>
<text transform="translate(408.4,214.20) scale(1,1.1)" font-size="13.95" fill="#878787">0.06</text>
<line x1="392.7" y1="246.12" x2="400.9" y2="246.12" stroke="#878787" stroke-width="1.6"/>
<text transform="translate(408.4,251.12) scale(1,1.1)" font-size="13.95" fill="#878787">0.05</text>
<line x1="392.7" y1="283.04" x2="400.9" y2="283.04" stroke="#878787" stroke-width="1.6"/>
<text transform="translate(408.4,288.04) scale(1,1.1)" font-size="13.95" fill="#878787">0.04</text>
<line x1="392.7" y1="319.96" x2="400.9" y2="319.96" stroke="#878787" stroke-width="1.6"/>
<text transform="translate(408.4,324.96) scale(1,1.1)" font-size="13.95" fill="#878787">0.03</text>
<line x1="392.7" y1="356.88" x2="400.9" y2="356.88" stroke="#878787" stroke-width="1.6"/>
<text transform="translate(408.4,361.88) scale(1,1.1)" font-size="13.95" fill="#878787">0.02</text>
<line x1="392.7" y1="393.80" x2="400.9" y2="393.80" stroke="#878787" stroke-width="1.6"/>
<text transform="translate(408.4,398.80) scale(1,1.1)" font-size="13.95" fill="#878787">0.01</text>
<text x="400.2" y="168.2" font-size="14.1" fill="#878787" text-anchor="middle">Frequency [Hz]</text>
</g>
<g id="xlabel" fill="#000">
<text transform="translate(266.0,472.9) scale(1,1.05)" font-size="18.9">Spectral Amplitudes in</text>
<text x="459.4" y="472.8" font-size="19.6" textLength="23.2" lengthAdjust="spacingAndGlyphs">10</text>
<text x="484.2" y="465.6" font-size="13.6" textLength="17" lengthAdjust="spacingAndGlyphs">−1</text>
<text transform="translate(507.8,472.9) scale(1,1.05)" font-size="18.9">m/Hz</text>
</g>
<g id="logo">
<g font-family="'Liberation Serif', serif" fill="#0d0d0d" stroke="#0d0d0d" stroke-width="0.45">
<text transform="translate(748.6,484.5) scale(0.763,1)" font-size="30.15">I</text>
<text transform="translate(756.5,484.5) scale(0.756,1)" font-size="25.2">R</text>
<text transform="translate(769.4,484.5) scale(0.659,1)" font-size="25.2">I</text>
<text transform="translate(774.6,484.5) scale(1.153,1)" font-size="25.2">S</text>
</g>
<path d="M749.00 461.64L749.55 461.38L750.10 462.13L750.65 461.26L751.20 461.95L751.75 461.70L752.30 461.24L752.85 461.91L753.40 461.21L753.95 461.80L754.50 461.25L755.05 461.29L755.60 461.79L756.15 462.39L756.70 461.34L757.25 461.48L757.80 462.09L758.35 462.57L758.90 462.02L759.45 461.75L760.00 462.61L760.55 461.22L761.10 462.44L761.65 461.58L762.20 460.83L762.75 460.75L763.30 461.33L763.85 462.85L764.40 460.94L764.95 462.14L765.50 462.32L766.05 461.52L766.60 462.04L767.15 461.90L767.70 461.90L768.25 461.90L768.80 461.90L769.35 461.90L769.90 461.90L770.45 461.90L771.00 461.90L771.55 461.90L772.10 461.90L772.65 461.90L773.20 461.13L773.75 462.12L774.30 461.98L774.85 463.03L775.40 462.59L775.95 461.26L776.50 463.34L777.05 460.75L777.60 461.65L778.15 462.29L778.70 461.38L779.25 461.88L779.80 461.21L780.35 462.15L780.90 462.30L781.45 462.01L782.00 462.46L782.55 461.62L783.10 462.19L783.65 462.04L784.20 462.02L784.75 461.83L785.30 462.41L785.85 462.57L786.40 461.86L786.95 462.15L787.50 461.24" fill="none" stroke="#1a1a1a" stroke-width="1.6" stroke-linejoin="round"/>
<path d="M769.9 453.4 L771.2 458.5 L772.5 461.6 L771.3 464 L769.7 467.5 L768.6 464.5 L767.1 461.9 L768.7 458.6 Z" fill="#8f8f8f" opacity="0.85"/>
<path d="M769.9 453.4 L769.8 467.5" stroke="#777" stroke-width="0.7" fill="none"/>
</g>
</svg>
</body>
</html>
